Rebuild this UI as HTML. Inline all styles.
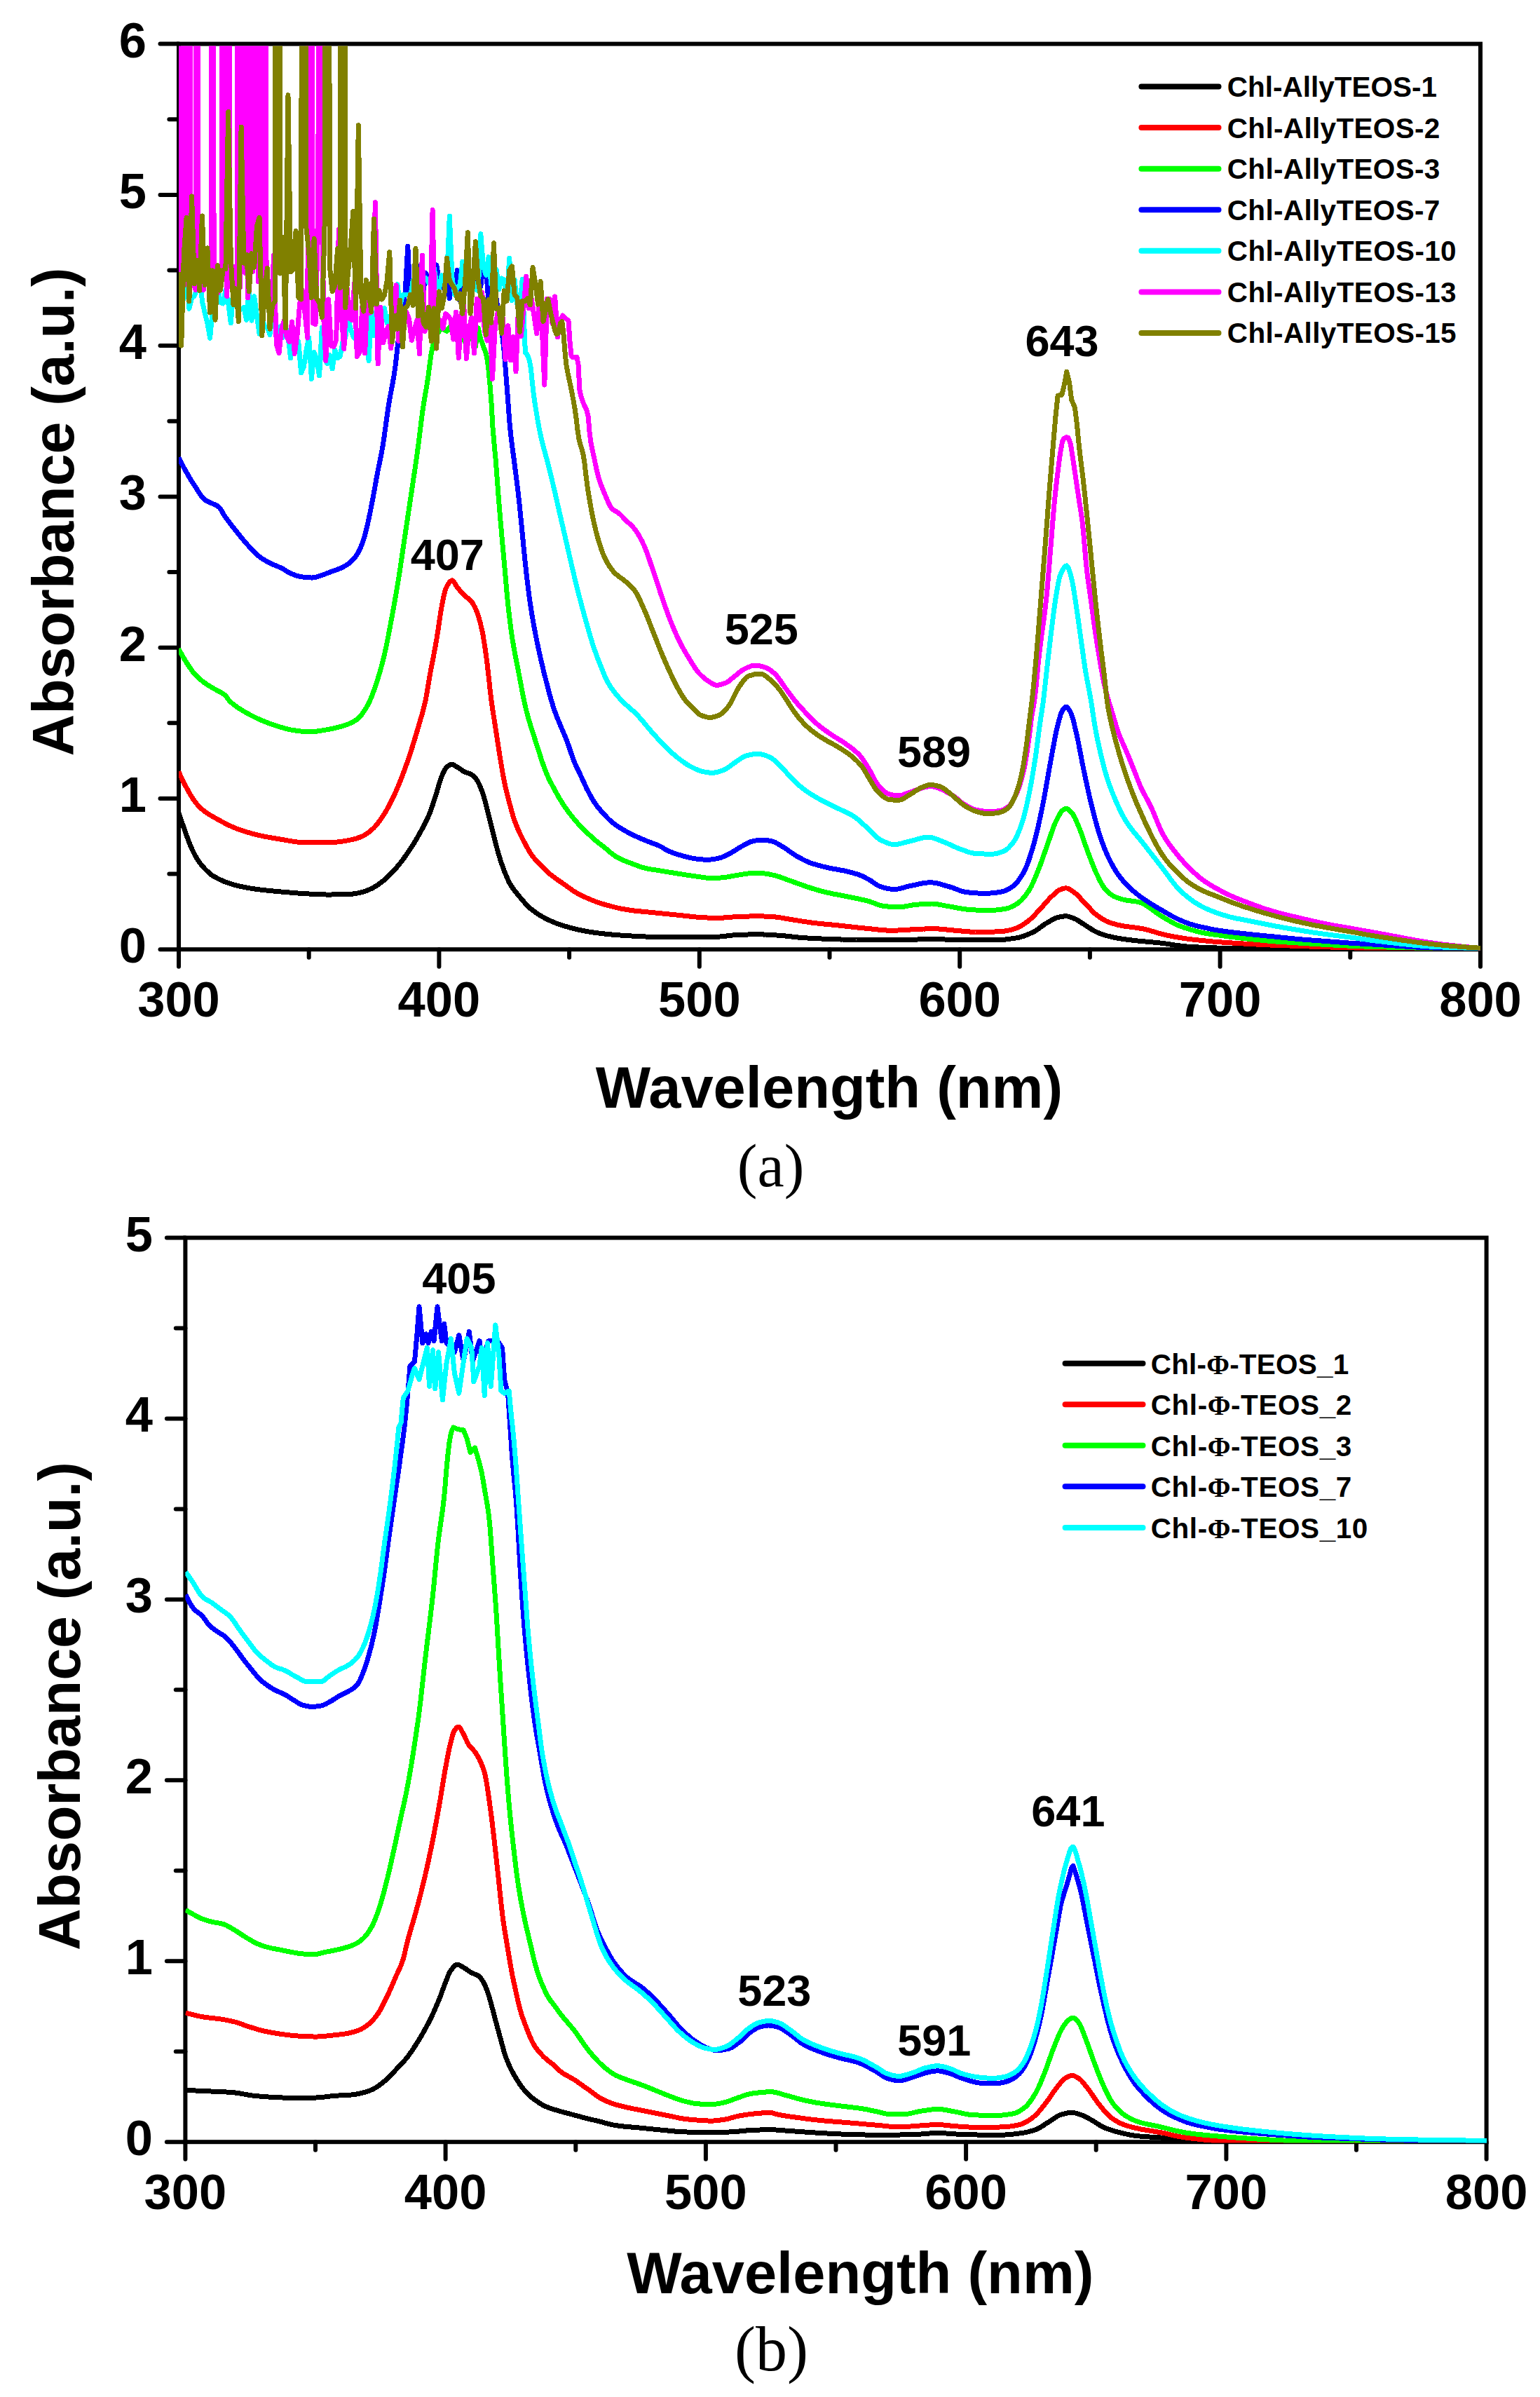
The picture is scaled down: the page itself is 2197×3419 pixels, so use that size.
<!DOCTYPE html>
<html lang="en"><head><meta charset="utf-8"><title>UV-Vis absorbance spectra</title>
<style>html,body{margin:0;padding:0;background:#fff}body{width:2197px;height:3419px;overflow:hidden}</style>
</head><body>
<svg width="2197" height="3419" viewBox="0 0 2197 3419" style="display:block" font-family="'Liberation Sans', Arial, sans-serif" font-weight="bold">
<rect width="2197" height="3419" fill="#fff"/>
<defs>
<clipPath id="ct"><rect x="255.0" y="65.6" width="1859.5" height="1289.9"/></clipPath>
<clipPath id="cb"><rect x="264.4" y="1768.5" width="1858.6999999999998" height="1287.9999999999998"/></clipPath>
</defs>
<g id="chart-a">
<g stroke="#000" stroke-width="6" stroke-linecap="round" fill="none">
<rect x="255.0" y="62.6" width="1857.0" height="1291.6000000000001" stroke-linecap="butt"/>
<line x1="228.5" y1="1354.2" x2="255.0" y2="1354.2"/>
<line x1="241.4" y1="1246.6" x2="255.0" y2="1246.6"/>
<line x1="228.5" y1="1138.9" x2="255.0" y2="1138.9"/>
<line x1="241.4" y1="1031.3" x2="255.0" y2="1031.3"/>
<line x1="228.5" y1="923.7" x2="255.0" y2="923.7"/>
<line x1="241.4" y1="816.0" x2="255.0" y2="816.0"/>
<line x1="228.5" y1="708.4" x2="255.0" y2="708.4"/>
<line x1="241.4" y1="600.8" x2="255.0" y2="600.8"/>
<line x1="228.5" y1="493.1" x2="255.0" y2="493.1"/>
<line x1="241.4" y1="385.5" x2="255.0" y2="385.5"/>
<line x1="228.5" y1="277.9" x2="255.0" y2="277.9"/>
<line x1="241.4" y1="170.2" x2="255.0" y2="170.2"/>
<line x1="228.5" y1="62.6" x2="255.0" y2="62.6"/>
<line x1="255.0" y1="1354.2" x2="255.0" y2="1378.8"/>
<line x1="440.7" y1="1354.2" x2="440.7" y2="1365.8"/>
<line x1="626.4" y1="1354.2" x2="626.4" y2="1378.8"/>
<line x1="812.1" y1="1354.2" x2="812.1" y2="1365.8"/>
<line x1="997.8" y1="1354.2" x2="997.8" y2="1378.8"/>
<line x1="1183.5" y1="1354.2" x2="1183.5" y2="1365.8"/>
<line x1="1369.2" y1="1354.2" x2="1369.2" y2="1378.8"/>
<line x1="1554.9" y1="1354.2" x2="1554.9" y2="1365.8"/>
<line x1="1740.6" y1="1354.2" x2="1740.6" y2="1378.8"/>
<line x1="1926.3" y1="1354.2" x2="1926.3" y2="1365.8"/>
<line x1="2112.0" y1="1354.2" x2="2112.0" y2="1378.8"/>
</g>
<g font-size="70.5" fill="#000">
<text x="209" y="1373.2" text-anchor="end">0</text>
<text x="209" y="1157.9" text-anchor="end">1</text>
<text x="209" y="942.7" text-anchor="end">2</text>
<text x="209" y="727.4" text-anchor="end">3</text>
<text x="209" y="512.1" text-anchor="end">4</text>
<text x="209" y="296.9" text-anchor="end">5</text>
<text x="209" y="81.6" text-anchor="end">6</text>
<text x="255.0" y="1450.1" text-anchor="middle">300</text>
<text x="626.4" y="1450.1" text-anchor="middle">400</text>
<text x="997.8" y="1450.1" text-anchor="middle">500</text>
<text x="1369.2" y="1450.1" text-anchor="middle">600</text>
<text x="1740.6" y="1450.1" text-anchor="middle">700</text>
<text x="2112.0" y="1450.1" text-anchor="middle">800</text>
</g>
<g clip-path="url(#ct)" shape-rendering="crispEdges">
<polyline points="254.9,1159.1 256.9,1165.1 258.9,1171.0 260.9,1176.8 262.9,1182.4 264.9,1188.0 266.9,1193.6 268.9,1199.1 270.9,1204.2 272.9,1208.9 274.9,1213.3 276.9,1217.4 278.9,1221.2 280.9,1224.6 283.0,1227.8 285.0,1230.7 287.0,1233.3 289.0,1235.7 291.0,1237.9 293.0,1240.0 295.0,1242.0 297.0,1243.9 299.0,1245.7 301.0,1247.3 303.0,1248.8 305.0,1250.0 307.0,1251.1 309.0,1252.2 311.0,1253.3 313.0,1254.3 315.0,1255.2 317.0,1256.1 319.0,1256.9 321.0,1257.8 323.0,1258.5 325.0,1259.3 327.0,1260.0 329.0,1260.6 331.0,1261.2 333.0,1261.8 335.0,1262.4 337.0,1262.9 339.0,1263.4 341.0,1263.8 343.0,1264.3 345.0,1264.7 347.0,1265.1 349.0,1265.5 351.0,1265.9 353.0,1266.3 355.0,1266.6 357.0,1267.0 359.0,1267.3 361.0,1267.6 363.0,1267.9 365.0,1268.2 367.0,1268.5 369.0,1268.7 371.0,1269.0 373.0,1269.2 375.0,1269.5 377.0,1269.7 379.0,1269.9 381.0,1270.1 383.0,1270.3 385.0,1270.5 387.0,1270.7 389.0,1270.9 391.0,1271.1 393.0,1271.3 395.0,1271.4 397.0,1271.6 399.0,1271.8 401.0,1272.0 403.0,1272.1 405.0,1272.3 407.0,1272.5 409.0,1272.7 411.0,1272.9 413.0,1273.0 415.0,1273.2 417.0,1273.4 419.0,1273.6 421.0,1273.7 423.0,1273.9 425.0,1274.0 427.0,1274.2 429.0,1274.3 431.0,1274.5 433.0,1274.6 435.0,1274.7 437.0,1274.8 439.0,1274.9 441.0,1275.0 443.0,1275.1 445.0,1275.2 447.0,1275.3 449.0,1275.4 451.0,1275.5 453.0,1275.6 455.0,1275.7 457.0,1275.8 459.0,1275.8 461.0,1275.9 463.0,1275.9 465.0,1276.0 467.0,1276.0 469.1,1276.0 471.1,1276.0 473.1,1276.0 475.1,1275.9 477.1,1275.9 479.1,1275.9 481.1,1275.9 483.1,1275.8 485.1,1275.8 487.1,1275.7 489.1,1275.7 491.1,1275.6 493.1,1275.6 495.1,1275.5 497.1,1275.4 499.1,1275.4 501.1,1275.3 503.1,1275.1 505.1,1274.8 507.1,1274.5 509.1,1274.2 511.1,1273.8 513.1,1273.4 515.1,1272.9 517.1,1272.5 519.1,1271.9 521.1,1271.2 523.1,1270.5 525.1,1269.6 527.1,1268.7 529.1,1267.8 531.1,1266.8 533.1,1265.8 535.1,1264.6 537.1,1263.4 539.1,1262.1 541.1,1260.6 543.1,1259.1 545.1,1257.6 547.1,1256.0 549.1,1254.3 551.1,1252.6 553.1,1250.8 555.1,1248.8 557.1,1246.8 559.1,1244.7 561.1,1242.6 563.1,1240.4 565.1,1238.2 567.1,1235.8 569.1,1233.4 571.1,1230.9 573.1,1228.3 575.1,1225.6 577.1,1222.9 579.1,1220.1 581.1,1217.2 583.1,1214.3 585.1,1211.3 587.1,1208.3 589.1,1205.1 591.1,1201.9 593.1,1198.5 595.1,1195.1 597.1,1191.6 599.1,1188.0 601.1,1184.4 603.1,1180.7 605.1,1176.9 607.1,1173.0 609.1,1168.8 611.1,1164.4 613.1,1159.7 615.1,1154.5 617.1,1148.7 619.1,1142.5 621.1,1136.2 623.1,1129.8 625.1,1123.1 627.1,1116.1 629.1,1110.0 631.1,1105.0 633.1,1100.5 635.1,1097.0 637.1,1094.7 639.1,1092.8 641.1,1091.3 643.1,1090.4 645.1,1090.3 647.1,1091.0 649.1,1092.2 651.1,1093.4 653.1,1094.6 655.2,1096.0 657.2,1097.4 659.2,1098.9 661.2,1100.2 663.2,1101.1 665.2,1101.9 667.2,1102.6 669.2,1103.3 671.2,1104.2 673.2,1105.4 675.2,1106.9 677.2,1108.8 679.2,1111.0 681.2,1113.8 683.2,1117.7 685.2,1122.3 687.2,1127.5 689.2,1133.1 691.2,1139.9 693.2,1147.4 695.2,1155.0 697.2,1162.9 699.2,1171.0 701.2,1179.1 703.2,1187.2 705.2,1195.4 707.2,1203.2 709.2,1210.7 711.2,1217.9 713.2,1224.6 715.2,1230.8 717.2,1236.4 719.2,1241.8 721.2,1246.8 723.2,1251.6 725.2,1256.1 727.2,1260.1 729.2,1263.4 731.2,1266.3 733.2,1269.1 735.2,1271.7 737.2,1274.2 739.2,1276.6 741.2,1279.0 743.2,1281.4 745.2,1283.8 747.2,1286.1 749.2,1288.4 751.2,1290.6 753.2,1292.6 755.2,1294.5 757.2,1296.3 759.2,1297.9 761.2,1299.4 763.2,1300.9 765.2,1302.3 767.2,1303.6 769.2,1304.9 771.2,1306.1 773.2,1307.3 775.2,1308.4 777.2,1309.5 779.2,1310.5 781.2,1311.5 783.2,1312.5 785.2,1313.4 787.2,1314.3 789.2,1315.2 791.2,1316.0 793.2,1316.8 795.2,1317.5 797.2,1318.3 799.2,1319.0 801.2,1319.6 803.2,1320.3 805.2,1320.9 807.2,1321.4 809.2,1322.0 811.2,1322.6 813.2,1323.1 815.2,1323.7 817.2,1324.2 819.2,1324.7 821.2,1325.2 823.2,1325.7 825.2,1326.1 827.2,1326.6 829.2,1327.0 831.2,1327.4 833.2,1327.8 835.2,1328.2 837.2,1328.5 839.2,1328.9 841.3,1329.2 843.3,1329.5 845.3,1329.8 847.3,1330.1 849.3,1330.4 851.3,1330.7 853.3,1330.9 855.3,1331.2 857.3,1331.5 859.3,1331.7 861.3,1331.9 863.3,1332.1 865.3,1332.3 867.3,1332.5 869.3,1332.7 871.3,1332.9 873.3,1333.1 875.3,1333.3 877.3,1333.4 879.3,1333.6 881.3,1333.7 883.3,1333.9 885.3,1334.0 887.3,1334.2 889.3,1334.3 891.3,1334.4 893.3,1334.6 895.3,1334.7 897.3,1334.8 899.3,1334.9 901.3,1335.0 903.3,1335.1 905.3,1335.2 907.3,1335.3 909.3,1335.4 911.3,1335.5 913.3,1335.6 915.3,1335.7 917.3,1335.8 919.3,1335.9 921.3,1336.0 923.3,1336.0 925.3,1336.1 927.3,1336.2 929.3,1336.2 931.3,1336.3 933.3,1336.3 935.3,1336.4 937.3,1336.4 939.3,1336.4 941.3,1336.5 943.3,1336.5 945.3,1336.5 947.3,1336.5 949.3,1336.6 951.3,1336.6 953.3,1336.6 955.3,1336.6 957.3,1336.6 959.3,1336.7 961.3,1336.7 963.3,1336.7 965.3,1336.7 967.3,1336.7 969.3,1336.7 971.3,1336.7 973.3,1336.7 975.3,1336.7 977.3,1336.7 979.3,1336.7 981.3,1336.7 983.3,1336.7 985.3,1336.7 987.3,1336.7 989.3,1336.7 991.3,1336.7 993.3,1336.7 995.3,1336.7 997.3,1336.7 999.3,1336.7 1001.3,1336.7 1003.3,1336.7 1005.3,1336.6 1007.3,1336.6 1009.3,1336.6 1011.3,1336.5 1013.3,1336.5 1015.3,1336.4 1017.3,1336.4 1019.3,1336.3 1021.3,1336.2 1023.3,1336.1 1025.3,1336.1 1027.4,1336.0 1029.4,1335.8 1031.4,1335.6 1033.4,1335.4 1035.4,1335.1 1037.4,1334.9 1039.4,1334.6 1041.4,1334.4 1043.4,1334.2 1045.4,1334.0 1047.4,1333.8 1049.4,1333.7 1051.4,1333.6 1053.4,1333.5 1055.4,1333.4 1057.4,1333.4 1059.4,1333.3 1061.4,1333.2 1063.4,1333.1 1065.4,1333.1 1067.4,1333.0 1069.4,1332.9 1071.4,1332.9 1073.4,1332.9 1075.4,1332.8 1077.4,1332.8 1079.4,1332.8 1081.4,1332.8 1083.4,1332.8 1085.4,1332.8 1087.4,1332.9 1089.4,1333.0 1091.4,1333.0 1093.4,1333.1 1095.4,1333.2 1097.4,1333.3 1099.4,1333.5 1101.4,1333.6 1103.4,1333.7 1105.4,1333.9 1107.4,1334.0 1109.4,1334.1 1111.4,1334.3 1113.4,1334.4 1115.4,1334.6 1117.4,1334.7 1119.4,1334.9 1121.4,1335.1 1123.4,1335.3 1125.4,1335.6 1127.4,1335.8 1129.4,1336.0 1131.4,1336.2 1133.4,1336.5 1135.4,1336.7 1137.4,1336.9 1139.4,1337.1 1141.4,1337.3 1143.4,1337.5 1145.4,1337.6 1147.4,1337.8 1149.4,1337.9 1151.4,1338.0 1153.4,1338.1 1155.4,1338.2 1157.4,1338.4 1159.4,1338.5 1161.4,1338.6 1163.4,1338.7 1165.4,1338.8 1167.4,1338.8 1169.4,1338.9 1171.4,1339.0 1173.4,1339.1 1175.4,1339.2 1177.4,1339.3 1179.4,1339.3 1181.4,1339.4 1183.4,1339.5 1185.4,1339.5 1187.4,1339.6 1189.4,1339.7 1191.4,1339.7 1193.4,1339.8 1195.4,1339.8 1197.4,1339.9 1199.4,1340.0 1201.4,1340.0 1203.4,1340.1 1205.4,1340.1 1207.4,1340.2 1209.4,1340.2 1211.5,1340.3 1213.5,1340.3 1215.5,1340.4 1217.5,1340.4 1219.5,1340.5 1221.5,1340.6 1223.5,1340.6 1225.5,1340.7 1227.5,1340.7 1229.5,1340.8 1231.5,1340.8 1233.5,1340.9 1235.5,1340.9 1237.5,1340.9 1239.5,1340.9 1241.5,1340.9 1243.5,1340.9 1245.5,1340.9 1247.5,1340.9 1249.5,1340.9 1251.5,1340.9 1253.5,1340.9 1255.5,1340.9 1257.5,1340.9 1259.5,1340.9 1261.5,1340.9 1263.5,1340.9 1265.5,1340.9 1267.5,1340.9 1269.5,1340.9 1271.5,1340.9 1273.5,1340.9 1275.5,1340.9 1277.5,1340.9 1279.5,1340.9 1281.5,1340.9 1283.5,1340.9 1285.5,1340.9 1287.5,1340.9 1289.5,1340.9 1291.5,1340.9 1293.5,1340.8 1295.5,1340.8 1297.5,1340.7 1299.5,1340.6 1301.5,1340.5 1303.5,1340.4 1305.5,1340.3 1307.5,1340.1 1309.5,1340.0 1311.5,1339.9 1313.5,1339.8 1315.5,1339.7 1317.5,1339.6 1319.5,1339.5 1321.5,1339.4 1323.5,1339.3 1325.5,1339.3 1327.5,1339.3 1329.5,1339.3 1331.5,1339.3 1333.5,1339.4 1335.5,1339.4 1337.5,1339.5 1339.5,1339.6 1341.5,1339.7 1343.5,1339.8 1345.5,1339.9 1347.5,1340.0 1349.5,1340.1 1351.5,1340.3 1353.5,1340.4 1355.5,1340.5 1357.5,1340.6 1359.5,1340.7 1361.5,1340.7 1363.5,1340.8 1365.5,1340.9 1367.5,1340.9 1369.5,1340.9 1371.5,1340.9 1373.5,1340.9 1375.5,1340.9 1377.5,1340.9 1379.5,1340.9 1381.5,1340.9 1383.5,1340.9 1385.5,1340.9 1387.5,1340.9 1389.5,1340.9 1391.5,1340.9 1393.5,1340.9 1395.5,1340.9 1397.6,1340.9 1399.6,1340.9 1401.6,1340.9 1403.6,1340.9 1405.6,1340.9 1407.6,1340.9 1409.6,1340.9 1411.6,1340.9 1413.6,1340.9 1415.6,1340.9 1417.6,1340.9 1419.6,1340.9 1421.6,1340.9 1423.6,1340.8 1425.6,1340.7 1427.6,1340.6 1429.6,1340.4 1431.6,1340.3 1433.6,1340.1 1435.6,1339.9 1437.6,1339.6 1439.6,1339.4 1441.6,1339.1 1443.6,1338.8 1445.6,1338.5 1447.6,1338.2 1449.6,1337.9 1451.6,1337.6 1453.6,1337.2 1455.6,1336.7 1457.6,1336.1 1459.6,1335.5 1461.6,1334.8 1463.6,1334.0 1465.6,1333.2 1467.6,1332.4 1469.6,1331.5 1471.6,1330.6 1473.6,1329.6 1475.6,1328.6 1477.6,1327.4 1479.6,1326.1 1481.6,1324.7 1483.6,1323.2 1485.6,1321.7 1487.6,1320.3 1489.6,1318.9 1491.6,1317.5 1493.6,1316.4 1495.6,1315.2 1497.6,1314.0 1499.6,1312.8 1501.6,1311.6 1503.6,1310.6 1505.6,1309.7 1507.6,1308.9 1509.6,1308.4 1511.6,1308.0 1513.6,1307.6 1515.6,1307.3 1517.6,1307.0 1519.6,1306.8 1521.6,1306.8 1523.6,1307.1 1525.6,1307.6 1527.6,1308.3 1529.6,1309.1 1531.6,1309.8 1533.6,1310.7 1535.6,1311.6 1537.6,1312.8 1539.6,1314.0 1541.6,1315.4 1543.6,1316.7 1545.6,1318.0 1547.6,1319.3 1549.6,1320.5 1551.6,1321.8 1553.6,1323.1 1555.6,1324.4 1557.6,1325.7 1559.6,1326.9 1561.6,1328.1 1563.6,1329.1 1565.6,1330.0 1567.6,1330.8 1569.6,1331.6 1571.6,1332.3 1573.6,1333.0 1575.6,1333.7 1577.6,1334.3 1579.6,1334.9 1581.6,1335.4 1583.7,1335.9 1585.7,1336.4 1587.7,1336.8 1589.7,1337.2 1591.7,1337.6 1593.7,1338.0 1595.7,1338.3 1597.7,1338.7 1599.7,1339.0 1601.7,1339.3 1603.7,1339.6 1605.7,1339.9 1607.7,1340.2 1609.7,1340.4 1611.7,1340.7 1613.7,1340.9 1615.7,1341.2 1617.7,1341.4 1619.7,1341.7 1621.7,1341.9 1623.7,1342.1 1625.7,1342.3 1627.7,1342.5 1629.7,1342.6 1631.7,1342.8 1633.7,1343.0 1635.7,1343.2 1637.7,1343.4 1639.7,1343.5 1641.7,1343.7 1643.7,1343.9 1645.7,1344.1 1647.7,1344.3 1649.7,1344.5 1651.7,1344.7 1653.7,1344.9 1655.7,1345.1 1657.7,1345.3 1659.7,1345.6 1661.7,1345.8 1663.7,1346.1 1665.7,1346.4 1667.7,1346.7 1669.7,1347.1 1671.7,1347.4 1673.7,1347.7 1675.7,1348.0 1677.7,1348.3 1679.7,1348.5 1681.7,1348.8 1683.7,1349.0 1685.7,1349.3 1687.7,1349.5 1689.7,1349.7 1691.7,1349.9 1693.7,1350.1 1695.7,1350.2 1697.7,1350.4 1699.7,1350.5 1701.7,1350.6 1703.7,1350.7 1705.7,1350.8 1707.7,1350.9 1709.7,1351.0 1711.7,1351.1 1713.7,1351.2 1715.7,1351.3 1717.7,1351.4 1719.7,1351.5 1721.7,1351.5 1723.7,1351.6 1725.7,1351.7 1727.7,1351.7 1729.7,1351.8 1731.7,1351.9 1733.7,1351.9 1735.7,1352.0 1737.7,1352.0 1739.7,1352.1 1741.7,1352.1 1743.7,1352.2 1745.7,1352.2 1747.7,1352.3 1749.7,1352.3 1751.7,1352.4 1753.7,1352.4 1755.7,1352.5 1757.7,1352.5 1759.7,1352.5 1761.7,1352.6 1763.7,1352.6 1765.7,1352.7 1767.7,1352.7 1769.8,1352.8 1771.8,1352.8 1773.8,1352.8 1775.8,1352.9 1777.8,1352.9 1779.8,1352.9 1781.8,1353.0 1783.8,1353.0 1785.8,1353.0 1787.8,1353.1 1789.8,1353.1 1791.8,1353.1 1793.8,1353.2 1795.8,1353.2 1797.8,1353.2 1799.8,1353.2 1801.8,1353.3 1803.8,1353.3 1805.8,1353.3 1807.8,1353.3 1809.8,1353.3 1811.8,1353.4 1813.8,1353.4 1815.8,1353.4 1817.8,1353.4 1819.8,1353.4 1821.8,1353.4 1823.8,1353.4 1825.8,1353.5 1827.8,1353.5 1829.8,1353.5 1831.8,1353.5 1833.8,1353.5 1835.8,1353.5 1837.8,1353.5 1839.8,1353.5 1841.8,1353.6 1843.8,1353.6 1845.8,1353.6 1847.8,1353.6 1849.8,1353.6 1851.8,1353.6 1853.8,1353.6 1855.8,1353.6 1857.8,1353.7 1859.8,1353.7 1861.8,1353.7 1863.8,1353.7 1865.8,1353.7 1867.8,1353.7 1869.8,1353.7 1871.8,1353.7 1873.8,1353.7 1875.8,1353.8 1877.8,1353.8 1879.8,1353.8 1881.8,1353.8 1883.8,1353.8 1885.8,1353.8 1887.8,1353.8 1889.8,1353.8 1891.8,1353.8 1893.8,1353.8 1895.8,1353.8 1897.8,1353.8 1899.8,1353.9 1901.8,1353.9 1903.8,1353.9 1905.8,1353.9 1907.8,1353.9 1909.8,1353.9 1911.8,1353.9 1913.8,1353.9 1915.8,1353.9 1917.8,1353.9 1919.8,1353.9 1921.8,1353.9 1923.8,1353.9 1925.8,1353.9 1927.8,1353.9 1929.8,1353.9 1931.8,1353.9 1933.8,1353.9 1935.8,1354.0 1937.8,1354.0 1939.8,1354.0 1941.8,1354.0 1943.8,1354.0 1945.8,1354.0 1947.8,1354.0 1949.8,1354.0 1951.8,1354.0 1953.8,1354.0 1955.9,1354.0 1957.9,1354.0 1959.9,1354.0 1961.9,1354.0 1963.9,1354.0 1965.9,1354.0 1967.9,1354.0 1969.9,1353.9 1971.9,1353.9 1973.9,1353.9 1975.9,1353.9 1977.9,1353.9 1979.9,1353.8 1981.9,1353.8 1983.9,1353.8 1985.9,1353.8 1987.9,1353.7 1989.9,1353.7 1991.9,1353.7 1993.9,1353.6 1995.9,1353.6 1997.9,1353.6 1999.9,1353.5 2001.9,1353.5 2003.9,1353.5 2005.9,1353.4 2007.9,1353.4 2009.9,1353.4 2011.9,1353.3 2013.9,1353.3 2015.9,1353.2 2017.9,1353.2 2019.9,1353.2 2021.9,1353.1 2023.9,1353.1 2025.9,1353.1 2027.9,1353.0 2029.9,1353.0 2031.9,1353.0 2033.9,1352.9 2035.9,1352.9 2037.9,1352.9 2039.9,1352.9 2041.9,1352.8 2043.9,1352.8 2045.9,1352.8 2047.9,1352.8 2049.9,1352.7 2051.9,1352.7 2053.9,1352.7 2055.9,1352.7 2057.9,1352.7 2059.9,1352.7 2061.9,1352.7 2063.9,1352.7 2065.9,1352.7 2067.9,1352.7 2069.9,1352.7 2071.9,1352.7 2073.9,1352.7 2075.9,1352.6 2077.9,1352.6 2079.9,1352.6 2081.9,1352.6 2083.9,1352.6 2085.9,1352.6 2087.9,1352.6 2089.9,1352.6 2091.9,1352.6 2093.9,1352.6 2095.9,1352.6 2097.9,1352.6 2099.9,1352.6 2101.9,1352.6 2103.9,1352.6 2105.9,1352.6 2107.9,1352.6 2109.9,1352.6 2111.9,1352.6" fill="none" stroke="#000000" stroke-width="7" stroke-linejoin="round" stroke-linecap="butt"/>
<polyline points="254.9,1100.6 256.9,1105.1 258.9,1109.4 260.9,1113.6 262.9,1117.6 264.9,1121.5 266.9,1125.1 268.9,1128.8 270.9,1132.3 272.9,1135.7 274.9,1138.9 276.9,1141.8 278.9,1144.5 280.9,1146.9 283.0,1149.1 285.0,1151.2 287.0,1153.2 289.0,1155.0 291.0,1156.7 293.0,1158.2 295.0,1159.6 297.0,1160.9 299.0,1162.2 301.0,1163.3 303.0,1164.5 305.0,1165.6 307.0,1166.7 309.0,1167.9 311.0,1169.0 313.0,1170.1 315.0,1171.2 317.0,1172.3 319.0,1173.3 321.0,1174.4 323.0,1175.4 325.0,1176.4 327.0,1177.4 329.0,1178.3 331.0,1179.2 333.0,1180.1 335.0,1180.9 337.0,1181.7 339.0,1182.4 341.0,1183.1 343.0,1183.8 345.0,1184.5 347.0,1185.2 349.0,1185.9 351.0,1186.5 353.0,1187.1 355.0,1187.7 357.0,1188.3 359.0,1188.8 361.0,1189.4 363.0,1189.9 365.0,1190.4 367.0,1190.9 369.0,1191.4 371.0,1191.8 373.0,1192.2 375.0,1192.7 377.0,1193.1 379.0,1193.4 381.0,1193.8 383.0,1194.2 385.0,1194.5 387.0,1194.9 389.0,1195.2 391.0,1195.6 393.0,1195.9 395.0,1196.2 397.0,1196.5 399.0,1196.9 401.0,1197.2 403.0,1197.5 405.0,1197.9 407.0,1198.2 409.0,1198.6 411.0,1199.0 413.0,1199.3 415.0,1199.7 417.0,1200.0 419.0,1200.3 421.0,1200.6 423.0,1200.9 425.0,1201.1 427.0,1201.2 429.0,1201.3 431.0,1201.4 433.0,1201.5 435.0,1201.6 437.0,1201.7 439.0,1201.7 441.0,1201.8 443.0,1201.8 445.0,1201.9 447.0,1201.9 449.0,1201.9 451.0,1201.9 453.0,1201.9 455.0,1201.9 457.0,1201.9 459.0,1201.9 461.0,1201.8 463.0,1201.8 465.0,1201.7 467.0,1201.7 469.1,1201.6 471.1,1201.5 473.1,1201.5 475.1,1201.4 477.1,1201.3 479.1,1201.2 481.1,1201.0 483.1,1200.8 485.1,1200.6 487.1,1200.3 489.1,1200.0 491.1,1199.7 493.1,1199.3 495.1,1199.0 497.1,1198.6 499.1,1198.2 501.1,1197.8 503.1,1197.3 505.1,1196.8 507.1,1196.3 509.1,1195.7 511.1,1195.0 513.1,1194.3 515.1,1193.6 517.1,1192.7 519.1,1191.7 521.1,1190.5 523.1,1189.2 525.1,1187.8 527.1,1186.2 529.1,1184.6 531.1,1182.8 533.1,1181.0 535.1,1178.9 537.1,1176.6 539.1,1174.1 541.1,1171.4 543.1,1168.6 545.1,1165.7 547.1,1162.7 549.1,1159.5 551.1,1156.1 553.1,1152.5 555.1,1148.8 557.1,1145.0 559.1,1141.0 561.1,1136.9 563.1,1132.6 565.1,1128.1 567.1,1123.5 569.1,1118.7 571.1,1113.8 573.1,1108.8 575.1,1103.5 577.1,1098.1 579.1,1092.6 581.1,1086.9 583.1,1081.0 585.1,1075.0 587.1,1068.9 589.1,1062.6 591.1,1056.1 593.1,1049.4 595.1,1042.7 597.1,1035.8 599.1,1029.0 601.1,1022.3 603.1,1015.2 605.1,1007.5 607.1,998.9 609.1,988.2 611.1,976.0 613.1,964.1 615.1,953.2 617.1,942.8 619.1,932.6 621.1,921.9 623.1,910.6 625.1,897.7 627.1,883.8 629.1,871.1 631.1,860.2 633.1,849.9 635.1,841.8 637.1,837.2 639.1,833.6 641.1,830.7 643.1,828.7 645.1,827.9 647.1,829.2 649.1,832.3 651.1,835.9 653.1,838.7 655.2,841.2 657.2,843.6 659.2,846.0 661.2,848.1 663.2,850.0 665.2,851.6 667.2,853.0 669.2,854.6 671.2,856.4 673.2,858.8 675.2,861.9 677.2,865.6 679.2,869.9 681.2,874.9 683.2,881.1 685.2,888.5 687.2,896.9 689.2,906.7 691.2,919.0 693.2,933.0 695.2,948.1 697.2,965.8 699.2,984.4 701.2,1001.0 703.2,1014.8 705.2,1027.4 707.2,1039.9 709.2,1053.1 711.2,1066.4 713.2,1079.3 715.2,1091.3 717.2,1102.9 719.2,1113.6 721.2,1123.2 723.2,1131.6 725.2,1139.3 727.2,1146.8 729.2,1154.2 731.2,1161.4 733.2,1167.9 735.2,1173.5 737.2,1178.6 739.2,1183.3 741.2,1187.7 743.2,1191.9 745.2,1196.0 747.2,1199.8 749.2,1203.6 751.2,1207.2 753.2,1210.8 755.2,1214.2 757.2,1217.5 759.2,1220.4 761.2,1223.0 763.2,1225.5 765.2,1227.8 767.2,1230.0 769.2,1232.1 771.2,1234.1 773.2,1236.1 775.2,1238.1 777.2,1240.0 779.2,1241.9 781.2,1243.7 783.2,1245.5 785.2,1247.2 787.2,1248.8 789.2,1250.4 791.2,1251.9 793.2,1253.4 795.2,1254.8 797.2,1256.1 799.2,1257.5 801.2,1258.8 803.2,1260.2 805.2,1261.6 807.2,1263.0 809.2,1264.5 811.2,1265.9 813.2,1267.4 815.2,1268.9 817.2,1270.2 819.2,1271.6 821.2,1272.8 823.2,1273.9 825.2,1275.0 827.2,1276.0 829.2,1277.0 831.2,1278.0 833.2,1279.0 835.2,1279.9 837.2,1280.8 839.2,1281.7 841.3,1282.5 843.3,1283.4 845.3,1284.2 847.3,1285.0 849.3,1285.8 851.3,1286.5 853.3,1287.2 855.3,1287.9 857.3,1288.5 859.3,1289.2 861.3,1289.8 863.3,1290.4 865.3,1290.9 867.3,1291.5 869.3,1292.0 871.3,1292.6 873.3,1293.1 875.3,1293.6 877.3,1294.1 879.3,1294.6 881.3,1295.1 883.3,1295.5 885.3,1295.9 887.3,1296.3 889.3,1296.7 891.3,1297.0 893.3,1297.4 895.3,1297.7 897.3,1298.0 899.3,1298.3 901.3,1298.6 903.3,1298.8 905.3,1299.1 907.3,1299.3 909.3,1299.5 911.3,1299.7 913.3,1299.9 915.3,1300.1 917.3,1300.3 919.3,1300.5 921.3,1300.7 923.3,1300.9 925.3,1301.0 927.3,1301.2 929.3,1301.4 931.3,1301.6 933.3,1301.8 935.3,1302.0 937.3,1302.2 939.3,1302.4 941.3,1302.6 943.3,1302.8 945.3,1303.0 947.3,1303.2 949.3,1303.4 951.3,1303.6 953.3,1303.8 955.3,1304.0 957.3,1304.2 959.3,1304.4 961.3,1304.6 963.3,1304.8 965.3,1305.0 967.3,1305.2 969.3,1305.4 971.3,1305.6 973.3,1305.8 975.3,1306.1 977.3,1306.3 979.3,1306.5 981.3,1306.7 983.3,1307.0 985.3,1307.2 987.3,1307.4 989.3,1307.6 991.3,1307.8 993.3,1308.0 995.3,1308.1 997.3,1308.3 999.3,1308.4 1001.3,1308.5 1003.3,1308.7 1005.3,1308.8 1007.3,1308.9 1009.3,1309.0 1011.3,1309.1 1013.3,1309.2 1015.3,1309.3 1017.3,1309.3 1019.3,1309.4 1021.3,1309.4 1023.3,1309.4 1025.3,1309.4 1027.4,1309.3 1029.4,1309.2 1031.4,1309.1 1033.4,1308.9 1035.4,1308.7 1037.4,1308.6 1039.4,1308.4 1041.4,1308.2 1043.4,1308.1 1045.4,1308.0 1047.4,1307.8 1049.4,1307.8 1051.4,1307.7 1053.4,1307.6 1055.4,1307.5 1057.4,1307.4 1059.4,1307.3 1061.4,1307.3 1063.4,1307.2 1065.4,1307.1 1067.4,1307.0 1069.4,1307.0 1071.4,1306.9 1073.4,1306.9 1075.4,1306.9 1077.4,1306.8 1079.4,1306.8 1081.4,1306.8 1083.4,1306.8 1085.4,1306.9 1087.4,1306.9 1089.4,1307.0 1091.4,1307.1 1093.4,1307.2 1095.4,1307.3 1097.4,1307.4 1099.4,1307.5 1101.4,1307.6 1103.4,1307.8 1105.4,1307.9 1107.4,1308.1 1109.4,1308.4 1111.4,1308.6 1113.4,1308.9 1115.4,1309.3 1117.4,1309.6 1119.4,1310.0 1121.4,1310.3 1123.4,1310.7 1125.4,1311.0 1127.4,1311.3 1129.4,1311.7 1131.4,1312.0 1133.4,1312.3 1135.4,1312.6 1137.4,1312.9 1139.4,1313.2 1141.4,1313.5 1143.4,1313.9 1145.4,1314.2 1147.4,1314.5 1149.4,1314.8 1151.4,1315.1 1153.4,1315.4 1155.4,1315.7 1157.4,1316.0 1159.4,1316.2 1161.4,1316.5 1163.4,1316.7 1165.4,1316.9 1167.4,1317.2 1169.4,1317.4 1171.4,1317.6 1173.4,1317.8 1175.4,1318.0 1177.4,1318.2 1179.4,1318.4 1181.4,1318.5 1183.4,1318.7 1185.4,1318.9 1187.4,1319.1 1189.4,1319.3 1191.4,1319.5 1193.4,1319.7 1195.4,1319.9 1197.4,1320.1 1199.4,1320.3 1201.4,1320.5 1203.4,1320.8 1205.4,1321.0 1207.4,1321.2 1209.4,1321.4 1211.5,1321.7 1213.5,1321.9 1215.5,1322.1 1217.5,1322.3 1219.5,1322.6 1221.5,1322.8 1223.5,1323.0 1225.5,1323.2 1227.5,1323.4 1229.5,1323.6 1231.5,1323.8 1233.5,1324.0 1235.5,1324.2 1237.5,1324.4 1239.5,1324.6 1241.5,1324.8 1243.5,1325.0 1245.5,1325.2 1247.5,1325.4 1249.5,1325.6 1251.5,1325.9 1253.5,1326.1 1255.5,1326.3 1257.5,1326.5 1259.5,1326.6 1261.5,1326.8 1263.5,1326.9 1265.5,1327.1 1267.5,1327.2 1269.5,1327.2 1271.5,1327.3 1273.5,1327.3 1275.5,1327.2 1277.5,1327.2 1279.5,1327.1 1281.5,1327.0 1283.5,1326.9 1285.5,1326.8 1287.5,1326.7 1289.5,1326.6 1291.5,1326.5 1293.5,1326.3 1295.5,1326.2 1297.5,1326.1 1299.5,1325.9 1301.5,1325.8 1303.5,1325.7 1305.5,1325.6 1307.5,1325.5 1309.5,1325.4 1311.5,1325.3 1313.5,1325.2 1315.5,1325.1 1317.5,1325.0 1319.5,1325.0 1321.5,1324.9 1323.5,1324.8 1325.5,1324.7 1327.5,1324.7 1329.5,1324.7 1331.5,1324.7 1333.5,1324.7 1335.5,1324.8 1337.5,1324.9 1339.5,1325.0 1341.5,1325.2 1343.5,1325.3 1345.5,1325.5 1347.5,1325.7 1349.5,1325.9 1351.5,1326.1 1353.5,1326.3 1355.5,1326.6 1357.5,1326.8 1359.5,1326.9 1361.5,1327.1 1363.5,1327.3 1365.5,1327.4 1367.5,1327.6 1369.5,1327.8 1371.5,1328.0 1373.5,1328.2 1375.5,1328.3 1377.5,1328.5 1379.5,1328.7 1381.5,1328.9 1383.5,1329.0 1385.5,1329.2 1387.5,1329.3 1389.5,1329.4 1391.5,1329.5 1393.5,1329.5 1395.5,1329.5 1397.6,1329.5 1399.6,1329.5 1401.6,1329.5 1403.6,1329.5 1405.6,1329.4 1407.6,1329.4 1409.6,1329.4 1411.6,1329.3 1413.6,1329.2 1415.6,1329.2 1417.6,1329.1 1419.6,1329.0 1421.6,1328.9 1423.6,1328.8 1425.6,1328.7 1427.6,1328.6 1429.6,1328.5 1431.6,1328.3 1433.6,1328.0 1435.6,1327.7 1437.6,1327.3 1439.6,1326.9 1441.6,1326.4 1443.6,1325.9 1445.6,1325.3 1447.6,1324.7 1449.6,1324.1 1451.6,1323.3 1453.6,1322.3 1455.6,1321.2 1457.6,1320.0 1459.6,1318.8 1461.6,1317.4 1463.6,1316.0 1465.6,1314.6 1467.6,1313.1 1469.6,1311.4 1471.6,1309.6 1473.6,1307.7 1475.6,1305.6 1477.6,1303.5 1479.6,1301.3 1481.6,1299.1 1483.6,1297.0 1485.6,1294.8 1487.6,1292.6 1489.6,1290.2 1491.6,1287.9 1493.6,1285.6 1495.6,1283.4 1497.6,1281.3 1499.6,1279.3 1501.6,1277.5 1503.6,1275.5 1505.6,1273.7 1507.6,1271.9 1509.6,1270.5 1511.6,1269.3 1513.6,1268.5 1515.6,1267.8 1517.6,1267.3 1519.6,1266.9 1521.6,1266.9 1523.6,1267.4 1525.6,1268.3 1527.6,1269.6 1529.6,1270.9 1531.6,1272.3 1533.6,1273.7 1535.6,1275.4 1537.6,1277.3 1539.6,1279.4 1541.6,1281.6 1543.6,1283.8 1545.6,1286.0 1547.6,1288.1 1549.6,1290.2 1551.6,1292.3 1553.6,1294.4 1555.6,1296.6 1557.6,1298.7 1559.6,1300.8 1561.6,1302.7 1563.6,1304.4 1565.6,1305.9 1567.6,1307.4 1569.6,1308.7 1571.6,1310.1 1573.6,1311.3 1575.6,1312.4 1577.6,1313.5 1579.6,1314.4 1581.6,1315.2 1583.7,1316.0 1585.7,1316.7 1587.7,1317.3 1589.7,1317.9 1591.7,1318.5 1593.7,1319.0 1595.7,1319.5 1597.7,1319.9 1599.7,1320.3 1601.7,1320.7 1603.7,1321.0 1605.7,1321.3 1607.7,1321.6 1609.7,1321.8 1611.7,1322.1 1613.7,1322.3 1615.7,1322.6 1617.7,1322.8 1619.7,1323.1 1621.7,1323.4 1623.7,1323.7 1625.7,1324.0 1627.7,1324.3 1629.7,1324.7 1631.7,1325.1 1633.7,1325.6 1635.7,1326.1 1637.7,1326.6 1639.7,1327.2 1641.7,1327.7 1643.7,1328.3 1645.7,1328.9 1647.7,1329.5 1649.7,1330.1 1651.7,1330.7 1653.7,1331.3 1655.7,1331.9 1657.7,1332.4 1659.7,1332.9 1661.7,1333.3 1663.7,1333.8 1665.7,1334.2 1667.7,1334.6 1669.7,1335.0 1671.7,1335.4 1673.7,1335.8 1675.7,1336.2 1677.7,1336.5 1679.7,1336.9 1681.7,1337.2 1683.7,1337.5 1685.7,1337.9 1687.7,1338.2 1689.7,1338.5 1691.7,1338.8 1693.7,1339.1 1695.7,1339.3 1697.7,1339.6 1699.7,1339.8 1701.7,1340.1 1703.7,1340.3 1705.7,1340.6 1707.7,1340.8 1709.7,1341.0 1711.7,1341.2 1713.7,1341.4 1715.7,1341.6 1717.7,1341.8 1719.7,1342.0 1721.7,1342.2 1723.7,1342.4 1725.7,1342.6 1727.7,1342.8 1729.7,1343.0 1731.7,1343.1 1733.7,1343.3 1735.7,1343.5 1737.7,1343.6 1739.7,1343.8 1741.7,1343.9 1743.7,1344.1 1745.7,1344.2 1747.7,1344.4 1749.7,1344.5 1751.7,1344.7 1753.7,1344.8 1755.7,1344.9 1757.7,1345.0 1759.7,1345.2 1761.7,1345.3 1763.7,1345.4 1765.7,1345.5 1767.7,1345.7 1769.8,1345.8 1771.8,1345.9 1773.8,1346.0 1775.8,1346.1 1777.8,1346.2 1779.8,1346.3 1781.8,1346.5 1783.8,1346.6 1785.8,1346.7 1787.8,1346.8 1789.8,1346.9 1791.8,1347.0 1793.8,1347.1 1795.8,1347.2 1797.8,1347.3 1799.8,1347.4 1801.8,1347.5 1803.8,1347.6 1805.8,1347.7 1807.8,1347.8 1809.8,1347.9 1811.8,1348.0 1813.8,1348.0 1815.8,1348.1 1817.8,1348.2 1819.8,1348.3 1821.8,1348.4 1823.8,1348.4 1825.8,1348.5 1827.8,1348.6 1829.8,1348.7 1831.8,1348.7 1833.8,1348.8 1835.8,1348.9 1837.8,1348.9 1839.8,1349.0 1841.8,1349.1 1843.8,1349.1 1845.8,1349.2 1847.8,1349.3 1849.8,1349.3 1851.8,1349.4 1853.8,1349.5 1855.8,1349.5 1857.8,1349.6 1859.8,1349.7 1861.8,1349.7 1863.8,1349.8 1865.8,1349.9 1867.8,1350.0 1869.8,1350.0 1871.8,1350.1 1873.8,1350.2 1875.8,1350.3 1877.8,1350.3 1879.8,1350.4 1881.8,1350.5 1883.8,1350.5 1885.8,1350.6 1887.8,1350.7 1889.8,1350.7 1891.8,1350.8 1893.8,1350.9 1895.8,1350.9 1897.8,1351.0 1899.8,1351.0 1901.8,1351.1 1903.8,1351.2 1905.8,1351.2 1907.8,1351.3 1909.8,1351.3 1911.8,1351.4 1913.8,1351.5 1915.8,1351.5 1917.8,1351.6 1919.8,1351.6 1921.8,1351.7 1923.8,1351.8 1925.8,1351.8 1927.8,1351.9 1929.8,1351.9 1931.8,1352.0 1933.8,1352.0 1935.8,1352.1 1937.8,1352.1 1939.8,1352.2 1941.8,1352.2 1943.8,1352.2 1945.8,1352.3 1947.8,1352.3 1949.8,1352.3 1951.8,1352.4 1953.8,1352.4 1955.9,1352.4 1957.9,1352.4 1959.9,1352.4 1961.9,1352.4 1963.9,1352.4 1965.9,1352.4 1967.9,1352.4 1969.9,1352.4 1971.9,1352.5 1973.9,1352.5 1975.9,1352.5 1977.9,1352.5 1979.9,1352.5 1981.9,1352.5 1983.9,1352.5 1985.9,1352.5 1987.9,1352.5 1989.9,1352.5 1991.9,1352.5 1993.9,1352.5 1995.9,1352.5 1997.9,1352.5 1999.9,1352.5 2001.9,1352.5 2003.9,1352.5 2005.9,1352.5 2007.9,1352.6 2009.9,1352.6 2011.9,1352.6 2013.9,1352.6 2015.9,1352.6 2017.9,1352.6 2019.9,1352.6 2021.9,1352.6 2023.9,1352.6 2025.9,1352.6 2027.9,1352.6 2029.9,1352.6 2031.9,1352.6 2033.9,1352.6 2035.9,1352.6 2037.9,1352.6 2039.9,1352.6 2041.9,1352.6 2043.9,1352.6 2045.9,1352.6 2047.9,1352.6 2049.9,1352.6 2051.9,1352.6 2053.9,1352.6 2055.9,1352.6 2057.9,1352.6 2059.9,1352.6 2061.9,1352.6 2063.9,1352.6 2065.9,1352.6 2067.9,1352.6 2069.9,1352.6 2071.9,1352.6 2073.9,1352.6 2075.9,1352.6 2077.9,1352.6 2079.9,1352.6 2081.9,1352.6 2083.9,1352.6 2085.9,1352.6 2087.9,1352.6 2089.9,1352.6 2091.9,1352.6 2093.9,1352.6 2095.9,1352.6 2097.9,1352.6 2099.9,1352.6 2101.9,1352.6 2103.9,1352.6 2105.9,1352.6 2107.9,1352.6 2109.9,1352.6 2111.9,1352.6" fill="none" stroke="#ff0000" stroke-width="7" stroke-linejoin="round" stroke-linecap="butt"/>
<polyline points="254.9,925.3 256.9,929.2 258.9,932.9 260.9,936.5 262.9,939.9 264.9,943.2 266.9,946.3 268.9,949.4 270.9,952.3 272.9,955.2 274.9,957.9 276.9,960.4 278.9,962.6 280.9,964.7 282.9,966.6 284.9,968.5 287.0,970.2 289.0,971.8 291.0,973.3 293.0,974.7 295.0,976.1 297.0,977.4 299.0,978.6 301.0,979.8 303.0,981.0 305.0,982.2 307.0,983.3 309.0,984.4 311.0,985.4 313.0,986.5 315.0,987.6 317.0,988.8 319.0,990.1 321.0,991.7 323.0,993.9 325.0,996.7 327.0,999.3 329.0,1001.2 331.0,1003.0 333.0,1004.6 335.0,1006.2 337.0,1007.7 339.0,1009.1 341.0,1010.4 343.0,1011.7 345.0,1012.9 347.0,1014.1 349.0,1015.3 351.0,1016.4 353.0,1017.5 355.0,1018.6 357.0,1019.7 359.0,1020.7 361.0,1021.7 363.0,1022.7 365.0,1023.7 367.0,1024.7 369.0,1025.6 371.0,1026.5 373.0,1027.4 375.0,1028.2 377.0,1029.0 379.0,1029.8 381.0,1030.6 383.0,1031.4 385.0,1032.1 387.0,1032.8 389.0,1033.5 391.0,1034.2 393.0,1034.8 395.0,1035.5 397.0,1036.2 399.0,1036.8 401.0,1037.4 403.0,1038.0 405.0,1038.6 407.0,1039.1 409.0,1039.7 411.0,1040.1 413.0,1040.6 415.0,1041.0 417.0,1041.3 419.0,1041.6 421.0,1041.9 423.0,1042.2 425.0,1042.5 427.0,1042.7 429.0,1043.0 431.0,1043.2 433.0,1043.4 435.0,1043.6 437.0,1043.7 439.0,1043.8 441.0,1043.8 443.0,1043.8 445.0,1043.7 447.0,1043.6 449.0,1043.4 451.0,1043.2 453.0,1042.9 455.0,1042.6 457.0,1042.3 459.0,1042.0 461.0,1041.7 463.0,1041.3 465.0,1041.0 467.0,1040.6 469.0,1040.3 471.0,1039.9 473.0,1039.5 475.0,1039.1 477.0,1038.7 479.0,1038.2 481.0,1037.7 483.0,1037.2 485.0,1036.6 487.0,1036.1 489.1,1035.5 491.1,1034.8 493.1,1034.2 495.1,1033.5 497.1,1032.7 499.1,1031.9 501.1,1031.0 503.1,1030.0 505.1,1028.8 507.1,1027.6 509.1,1026.3 511.1,1024.7 513.1,1022.6 515.1,1020.3 517.1,1017.6 519.1,1014.8 521.1,1011.8 523.1,1008.4 525.1,1004.7 527.1,1000.6 529.1,996.1 531.1,991.2 533.1,985.8 535.1,980.2 537.1,974.2 539.1,968.0 541.1,961.4 543.1,954.4 545.1,947.0 547.1,939.1 549.1,930.7 551.1,921.5 553.1,911.6 555.1,901.2 557.1,890.6 559.1,879.9 561.1,869.1 563.1,857.9 565.1,846.5 567.1,834.6 569.1,822.2 571.1,809.2 573.1,795.7 575.1,782.0 577.1,768.4 579.1,755.1 581.1,741.8 583.1,728.5 585.1,715.1 587.1,701.7 589.1,688.3 591.1,675.0 593.1,661.5 595.1,647.5 597.1,632.4 599.1,616.2 601.1,599.9 603.1,584.8 605.1,571.8 607.1,560.2 609.1,548.6 611.1,535.4 613.1,519.7 615.1,505.0 617.1,494.7 619.1,487.0 621.1,480.8 623.1,477.3 630.1,467.3 633.8,470.3 637.5,472.2 641.3,466.7 645.0,472.6 648.7,462.0 652.4,466.2 656.1,467.6 659.8,481.8 663.5,487.8 667.3,487.1 671.0,480.9 674.7,465.6 678.4,494.4 682.1,467.8 685.8,483.8 692.9,503.2 694.9,511.5 696.9,527.1 698.9,547.5 700.9,572.8 702.9,608.3 704.9,632.0 706.9,652.8 708.9,678.1 710.9,705.3 712.9,729.9 714.9,753.0 716.9,775.7 718.9,797.8 720.9,820.2 722.9,843.3 724.9,863.8 726.9,881.4 728.9,897.2 730.9,911.2 733.0,923.4 735.0,934.3 737.0,944.6 739.0,954.6 741.0,965.0 743.0,975.6 745.0,986.2 747.0,996.3 749.0,1005.7 751.0,1014.0 753.0,1021.5 755.0,1028.6 757.0,1035.2 759.0,1041.6 761.0,1047.8 763.0,1054.0 765.0,1060.1 767.0,1066.4 769.0,1072.7 771.0,1079.0 773.0,1085.1 775.0,1090.9 777.0,1096.5 779.0,1101.7 781.0,1106.4 783.0,1110.7 785.0,1114.8 787.0,1118.6 789.0,1122.3 791.0,1126.1 793.0,1129.7 795.0,1133.3 797.0,1136.9 799.0,1140.2 801.0,1143.5 803.0,1146.6 805.0,1149.6 807.0,1152.5 809.0,1155.3 811.0,1158.1 813.0,1160.7 815.0,1163.3 817.0,1165.8 819.0,1168.2 821.0,1170.6 823.0,1172.9 825.0,1175.1 827.0,1177.3 829.0,1179.4 831.0,1181.4 833.0,1183.4 835.0,1185.3 837.0,1187.2 839.0,1189.1 841.0,1191.0 843.0,1192.9 845.0,1194.7 847.0,1196.5 849.0,1198.2 851.0,1199.9 853.0,1201.6 855.0,1203.2 857.0,1204.7 859.0,1206.2 861.0,1207.7 863.0,1209.3 865.0,1210.9 867.0,1212.6 869.0,1214.3 871.0,1216.1 873.1,1217.7 875.1,1219.3 877.1,1220.8 879.1,1222.1 881.1,1223.2 883.1,1224.2 885.1,1225.2 887.1,1226.1 889.1,1227.0 891.1,1227.9 893.1,1228.7 895.1,1229.4 897.1,1230.2 899.1,1230.9 901.1,1231.7 903.1,1232.4 905.1,1233.2 907.1,1233.9 909.1,1234.7 911.1,1235.4 913.1,1236.1 915.1,1236.8 917.1,1237.4 919.1,1238.0 921.1,1238.5 923.1,1238.9 925.1,1239.3 927.1,1239.7 929.1,1240.0 931.1,1240.3 933.1,1240.6 935.1,1240.9 937.1,1241.2 939.1,1241.5 941.1,1241.9 943.1,1242.2 945.1,1242.5 947.1,1242.8 949.1,1243.2 951.1,1243.5 953.1,1243.8 955.1,1244.2 957.1,1244.5 959.1,1244.8 961.1,1245.1 963.1,1245.4 965.1,1245.8 967.1,1246.1 969.1,1246.4 971.1,1246.7 973.1,1247.0 975.1,1247.3 977.1,1247.7 979.1,1248.0 981.1,1248.3 983.1,1248.6 985.1,1248.9 987.1,1249.2 989.1,1249.4 991.1,1249.7 993.1,1250.0 995.1,1250.3 997.1,1250.5 999.1,1250.9 1001.1,1251.2 1003.1,1251.5 1005.1,1251.7 1007.1,1252.0 1009.1,1252.2 1011.1,1252.4 1013.2,1252.5 1015.2,1252.6 1017.2,1252.6 1019.2,1252.5 1021.2,1252.5 1023.2,1252.3 1025.2,1252.2 1027.2,1252.1 1029.2,1251.9 1031.2,1251.7 1033.2,1251.5 1035.2,1251.3 1037.2,1251.0 1039.2,1250.7 1041.2,1250.3 1043.2,1249.9 1045.2,1249.5 1047.2,1249.1 1049.2,1248.8 1051.2,1248.5 1053.2,1248.1 1055.2,1247.8 1057.2,1247.5 1059.2,1247.1 1061.2,1246.8 1063.2,1246.4 1065.2,1246.2 1067.2,1246.0 1069.2,1245.8 1071.2,1245.8 1073.2,1245.8 1075.2,1245.8 1077.2,1245.8 1079.2,1245.8 1081.2,1245.8 1083.2,1245.8 1085.2,1245.8 1087.2,1245.8 1089.2,1245.8 1091.2,1246.0 1093.2,1246.3 1095.2,1246.6 1097.2,1247.0 1099.2,1247.4 1101.2,1247.8 1103.2,1248.3 1105.2,1248.7 1107.2,1249.2 1109.2,1249.8 1111.2,1250.4 1113.2,1251.1 1115.2,1251.8 1117.2,1252.6 1119.2,1253.3 1121.2,1254.1 1123.2,1254.8 1125.2,1255.6 1127.2,1256.3 1129.2,1257.0 1131.2,1257.7 1133.2,1258.4 1135.2,1259.1 1137.2,1259.8 1139.2,1260.6 1141.2,1261.3 1143.2,1262.0 1145.2,1262.7 1147.2,1263.4 1149.2,1264.1 1151.2,1264.8 1153.3,1265.5 1155.3,1266.1 1157.3,1266.8 1159.3,1267.4 1161.3,1268.0 1163.3,1268.6 1165.3,1269.2 1167.3,1269.8 1169.3,1270.4 1171.3,1270.9 1173.3,1271.5 1175.3,1272.0 1177.3,1272.5 1179.3,1273.0 1181.3,1273.4 1183.3,1273.8 1185.3,1274.3 1187.3,1274.7 1189.3,1275.1 1191.3,1275.5 1193.3,1275.8 1195.3,1276.2 1197.3,1276.6 1199.3,1277.0 1201.3,1277.3 1203.3,1277.7 1205.3,1278.1 1207.3,1278.5 1209.3,1278.9 1211.3,1279.3 1213.3,1279.7 1215.3,1280.2 1217.3,1280.6 1219.3,1281.0 1221.3,1281.4 1223.3,1281.8 1225.3,1282.2 1227.3,1282.7 1229.3,1283.1 1231.3,1283.6 1233.3,1284.0 1235.3,1284.5 1237.3,1285.0 1239.3,1285.5 1241.3,1286.1 1243.3,1286.8 1245.3,1287.5 1247.3,1288.3 1249.3,1289.2 1251.3,1290.0 1253.3,1290.7 1255.3,1291.3 1257.3,1291.8 1259.3,1292.2 1261.3,1292.4 1263.3,1292.6 1265.3,1292.9 1267.3,1293.1 1269.3,1293.2 1271.3,1293.4 1273.3,1293.5 1275.3,1293.6 1277.3,1293.7 1279.3,1293.8 1281.3,1293.8 1283.3,1293.8 1285.3,1293.7 1287.3,1293.5 1289.3,1293.2 1291.3,1292.9 1293.4,1292.5 1295.4,1292.1 1297.4,1291.7 1299.4,1291.4 1301.4,1291.0 1303.4,1290.8 1305.4,1290.5 1307.4,1290.3 1309.4,1290.2 1311.4,1290.0 1313.4,1289.8 1315.4,1289.6 1317.4,1289.4 1319.4,1289.3 1321.4,1289.1 1323.4,1289.1 1325.4,1289.0 1327.4,1289.0 1329.4,1289.0 1331.4,1289.1 1333.4,1289.3 1335.4,1289.5 1337.4,1289.8 1339.4,1290.2 1341.4,1290.5 1343.4,1290.9 1345.4,1291.3 1347.4,1291.7 1349.4,1292.1 1351.4,1292.5 1353.4,1292.8 1355.4,1293.1 1357.4,1293.5 1359.4,1293.8 1361.4,1294.2 1363.4,1294.6 1365.4,1295.0 1367.4,1295.3 1369.4,1295.7 1371.4,1296.0 1373.4,1296.3 1375.4,1296.6 1377.4,1296.9 1379.4,1297.1 1381.4,1297.2 1383.4,1297.4 1385.4,1297.6 1387.4,1297.7 1389.4,1297.9 1391.4,1298.0 1393.4,1298.1 1395.4,1298.3 1397.4,1298.4 1399.4,1298.5 1401.4,1298.6 1403.4,1298.6 1405.4,1298.7 1407.4,1298.7 1409.4,1298.7 1411.4,1298.7 1413.4,1298.6 1415.4,1298.5 1417.4,1298.4 1419.4,1298.2 1421.4,1298.0 1423.4,1297.8 1425.4,1297.5 1427.4,1297.3 1429.4,1297.0 1431.4,1296.7 1433.5,1296.3 1435.5,1296.0 1437.5,1295.5 1439.5,1294.9 1441.5,1294.1 1443.5,1293.2 1445.5,1292.2 1447.5,1291.1 1449.5,1289.9 1451.5,1288.7 1453.5,1287.2 1455.5,1285.5 1457.5,1283.6 1459.5,1281.4 1461.5,1279.0 1463.5,1276.4 1465.5,1273.7 1467.5,1270.8 1469.5,1267.5 1471.5,1263.7 1473.5,1259.5 1475.5,1254.9 1477.5,1250.2 1479.5,1245.4 1481.5,1240.5 1483.5,1235.3 1485.5,1229.8 1487.5,1224.1 1489.5,1218.4 1491.5,1212.7 1493.5,1207.1 1495.5,1201.4 1497.5,1195.5 1499.5,1189.5 1501.5,1183.8 1503.5,1178.4 1505.5,1173.6 1507.5,1169.5 1509.5,1165.4 1511.5,1161.7 1513.5,1158.5 1515.5,1156.2 1517.5,1154.7 1519.5,1153.5 1521.5,1153.3 1523.5,1154.1 1525.5,1155.6 1527.5,1157.6 1529.5,1159.7 1531.5,1162.7 1533.5,1166.6 1535.5,1171.1 1537.5,1175.8 1539.5,1180.5 1541.5,1185.6 1543.5,1191.1 1545.5,1196.9 1547.5,1202.7 1549.5,1208.4 1551.5,1213.9 1553.5,1219.2 1555.5,1224.5 1557.5,1229.8 1559.5,1234.9 1561.5,1239.8 1563.5,1244.4 1565.5,1248.5 1567.5,1252.7 1569.5,1256.7 1571.5,1260.5 1573.6,1263.9 1575.6,1266.9 1577.6,1269.4 1579.6,1271.4 1581.6,1273.2 1583.6,1274.9 1585.6,1276.4 1587.6,1277.6 1589.6,1278.7 1591.6,1279.6 1593.6,1280.4 1595.6,1281.1 1597.6,1281.8 1599.6,1282.4 1601.6,1282.9 1603.6,1283.4 1605.6,1283.8 1607.6,1284.2 1609.6,1284.5 1611.6,1284.8 1613.6,1285.0 1615.6,1285.3 1617.6,1285.5 1619.6,1285.7 1621.6,1286.1 1623.6,1286.5 1625.6,1287.0 1627.6,1287.7 1629.6,1288.6 1631.6,1289.5 1633.6,1290.6 1635.6,1291.8 1637.6,1293.1 1639.6,1294.4 1641.6,1295.8 1643.6,1297.3 1645.6,1298.7 1647.6,1300.2 1649.6,1301.7 1651.6,1303.1 1653.6,1304.5 1655.6,1305.9 1657.6,1307.1 1659.6,1308.4 1661.6,1309.5 1663.6,1310.7 1665.6,1311.9 1667.6,1313.1 1669.6,1314.2 1671.6,1315.4 1673.6,1316.4 1675.6,1317.5 1677.6,1318.5 1679.6,1319.4 1681.6,1320.2 1683.6,1321.0 1685.6,1321.7 1687.6,1322.5 1689.6,1323.2 1691.6,1323.8 1693.6,1324.5 1695.6,1325.1 1697.6,1325.7 1699.6,1326.3 1701.6,1326.9 1703.6,1327.4 1705.6,1328.0 1707.6,1328.5 1709.6,1329.0 1711.6,1329.5 1713.7,1330.0 1715.7,1330.4 1717.7,1330.8 1719.7,1331.2 1721.7,1331.6 1723.7,1331.9 1725.7,1332.2 1727.7,1332.5 1729.7,1332.8 1731.7,1333.1 1733.7,1333.3 1735.7,1333.6 1737.7,1333.9 1739.7,1334.1 1741.7,1334.4 1743.7,1334.7 1745.7,1335.0 1747.7,1335.2 1749.7,1335.5 1751.7,1335.7 1753.7,1336.0 1755.7,1336.3 1757.7,1336.5 1759.7,1336.8 1761.7,1337.0 1763.7,1337.2 1765.7,1337.5 1767.7,1337.7 1769.7,1338.0 1771.7,1338.2 1773.7,1338.4 1775.7,1338.6 1777.7,1338.9 1779.7,1339.1 1781.7,1339.3 1783.7,1339.5 1785.7,1339.7 1787.7,1340.0 1789.7,1340.2 1791.7,1340.4 1793.7,1340.6 1795.7,1340.8 1797.7,1341.0 1799.7,1341.2 1801.7,1341.4 1803.7,1341.6 1805.7,1341.8 1807.7,1342.0 1809.7,1342.2 1811.7,1342.3 1813.7,1342.5 1815.7,1342.7 1817.7,1342.8 1819.7,1343.0 1821.7,1343.1 1823.7,1343.3 1825.7,1343.4 1827.7,1343.5 1829.7,1343.7 1831.7,1343.8 1833.7,1343.9 1835.7,1344.0 1837.7,1344.2 1839.7,1344.3 1841.7,1344.4 1843.7,1344.5 1845.7,1344.7 1847.7,1344.8 1849.7,1344.9 1851.7,1345.0 1853.8,1345.1 1855.8,1345.3 1857.8,1345.4 1859.8,1345.5 1861.8,1345.6 1863.8,1345.8 1865.8,1345.9 1867.8,1346.0 1869.8,1346.1 1871.8,1346.3 1873.8,1346.4 1875.8,1346.5 1877.8,1346.6 1879.8,1346.7 1881.8,1346.9 1883.8,1347.0 1885.8,1347.1 1887.8,1347.2 1889.8,1347.3 1891.8,1347.4 1893.8,1347.5 1895.8,1347.7 1897.8,1347.8 1899.8,1347.9 1901.8,1348.0 1903.8,1348.1 1905.8,1348.2 1907.8,1348.3 1909.8,1348.4 1911.8,1348.5 1913.8,1348.6 1915.8,1348.7 1917.8,1348.8 1919.8,1348.9 1921.8,1349.0 1923.8,1349.1 1925.8,1349.2 1927.8,1349.3 1929.8,1349.4 1931.8,1349.5 1933.8,1349.5 1935.8,1349.6 1937.8,1349.7 1939.8,1349.8 1941.8,1349.9 1943.8,1349.9 1945.8,1350.0 1947.8,1350.1 1949.8,1350.1 1951.8,1350.2 1953.8,1350.3 1955.8,1350.3 1957.8,1350.4 1959.8,1350.5 1961.8,1350.5 1963.8,1350.6 1965.8,1350.6 1967.8,1350.7 1969.8,1350.7 1971.8,1350.8 1973.8,1350.8 1975.8,1350.9 1977.8,1351.0 1979.8,1351.0 1981.8,1351.1 1983.8,1351.1 1985.8,1351.2 1987.8,1351.2 1989.8,1351.3 1991.8,1351.3 1993.9,1351.4 1995.9,1351.4 1997.9,1351.5 1999.9,1351.5 2001.9,1351.6 2003.9,1351.6 2005.9,1351.7 2007.9,1351.7 2009.9,1351.8 2011.9,1351.8 2013.9,1351.9 2015.9,1351.9 2017.9,1352.0 2019.9,1352.0 2021.9,1352.0 2023.9,1352.1 2025.9,1352.1 2027.9,1352.1 2029.9,1352.2 2031.9,1352.2 2033.9,1352.2 2035.9,1352.3 2037.9,1352.3 2039.9,1352.3 2041.9,1352.3 2043.9,1352.3 2045.9,1352.4 2047.9,1352.4 2049.9,1352.4 2051.9,1352.4 2053.9,1352.4 2055.9,1352.4 2057.9,1352.4 2059.9,1352.4 2061.9,1352.4 2063.9,1352.4 2065.9,1352.4 2067.9,1352.4 2069.9,1352.4 2071.9,1352.4 2073.9,1352.4 2075.9,1352.4 2077.9,1352.4 2079.9,1352.4 2081.9,1352.4 2083.9,1352.4 2085.9,1352.4 2087.9,1352.4 2089.9,1352.4 2091.9,1352.4 2093.9,1352.4 2095.9,1352.4 2097.9,1352.3 2099.9,1352.3 2101.9,1352.3 2103.9,1352.3 2105.9,1352.3 2107.9,1352.3 2109.9,1352.3 2111.9,1352.3" fill="none" stroke="#00ff00" stroke-width="7" stroke-linejoin="round" stroke-linecap="butt"/>
<polyline points="254.9,652.6 256.9,656.7 258.9,660.6 261.0,664.5 263.0,668.3 265.0,671.9 267.0,675.4 269.0,678.9 271.0,682.3 273.0,685.5 275.0,688.7 277.0,691.9 279.0,694.9 281.0,698.0 283.0,701.2 285.0,704.3 287.0,707.3 289.0,709.8 291.0,711.9 293.1,713.4 295.1,714.6 297.1,715.7 299.1,716.6 301.1,717.4 303.1,718.3 305.1,719.2 307.1,720.1 309.1,721.0 311.1,722.2 313.1,724.1 315.1,726.9 317.1,730.3 319.1,733.8 321.1,737.0 323.2,739.8 325.2,742.5 327.2,745.1 329.2,747.7 331.2,750.3 333.2,752.8 335.2,755.4 337.2,757.9 339.2,760.4 341.2,762.9 343.2,765.4 345.2,767.8 347.2,770.2 349.2,772.6 351.2,774.9 353.2,777.2 355.3,779.4 357.3,781.6 359.3,783.8 361.3,785.9 363.3,788.0 365.3,789.9 367.3,791.7 369.3,793.4 371.3,794.9 373.3,796.3 375.3,797.6 377.3,798.8 379.3,800.0 381.3,801.1 383.3,802.1 385.3,803.2 387.4,804.2 389.4,805.1 391.4,806.0 393.4,806.8 395.4,807.6 397.4,808.5 399.4,809.3 401.4,810.3 403.4,811.3 405.4,812.4 407.4,813.7 409.4,815.0 411.4,816.2 413.4,817.3 415.4,818.2 417.4,819.1 419.5,819.8 421.5,820.6 423.5,821.3 425.5,821.8 427.5,822.3 429.5,822.6 431.5,822.9 433.5,823.2 435.5,823.4 437.5,823.6 439.5,823.8 441.5,823.9 443.5,824.0 445.5,824.0 447.5,823.8 449.5,823.4 451.6,822.9 453.6,822.3 455.6,821.6 457.6,820.9 459.6,820.2 461.6,819.5 463.6,818.9 465.6,818.1 467.6,817.3 469.6,816.6 471.6,815.8 473.6,815.0 475.6,814.3 477.6,813.6 479.6,812.9 481.7,812.2 483.7,811.4 485.7,810.6 487.7,809.6 489.7,808.6 491.7,807.5 493.7,806.3 495.7,805.0 497.7,803.6 499.7,802.0 501.7,800.2 503.7,798.2 505.7,795.8 507.7,793.2 509.7,790.2 511.7,786.6 513.8,782.4 515.8,777.5 517.8,772.1 519.8,766.1 521.8,758.8 523.8,750.4 525.8,741.5 527.8,732.1 529.8,722.0 531.8,711.5 533.8,700.7 535.8,689.5 537.8,678.4 539.8,668.0 541.8,658.4 543.8,648.5 545.9,637.3 547.9,624.2 549.9,609.9 551.9,595.3 553.9,581.4 555.9,569.1 557.9,558.4 559.9,548.1 561.9,536.7 563.9,522.9 565.9,506.0 567.9,487.0 574.4,439.3 578.1,417.8 581.8,351.1 585.5,428.6 589.3,400.8 593.0,423.8 596.7,379.3 600.4,387.9 604.1,413.8 607.8,389.6 611.5,401.4 615.3,406.0 619.0,403.9 622.7,377.9 626.4,399.2 630.1,400.5 633.8,412.7 637.5,387.2 641.3,425.5 645.0,391.6 648.7,410.7 652.4,385.5 656.1,428.6 659.8,407.0 663.5,410.1 667.3,396.6 671.0,406.1 674.7,402.9 678.4,382.6 682.1,403.1 685.8,408.6 689.5,374.7 693.3,381.2 697.0,431.8 700.7,408.0 704.4,399.9 710.8,444.8 712.8,453.3 714.8,465.4 716.8,479.9 718.8,497.8 720.8,521.1 722.8,546.7 724.8,572.9 726.8,600.9 728.8,621.5 730.8,637.4 732.8,652.1 734.8,667.7 736.8,683.1 738.8,699.1 740.8,716.7 742.8,736.6 744.8,757.2 746.8,777.7 748.8,798.1 750.8,816.5 752.8,833.6 754.8,849.3 756.8,863.4 758.8,876.0 760.8,887.7 762.8,898.6 764.8,908.9 766.8,918.8 768.8,928.2 770.8,937.2 772.8,945.8 774.8,954.2 776.8,962.3 778.8,970.2 780.8,978.0 782.8,985.6 784.8,993.0 786.8,999.9 788.8,1006.5 790.8,1012.6 792.8,1018.2 794.8,1023.5 796.9,1028.5 798.9,1033.3 800.9,1038.0 802.9,1042.7 804.9,1047.4 806.9,1052.2 808.9,1057.3 810.9,1062.7 812.9,1068.6 814.9,1074.6 816.9,1080.4 818.9,1085.7 820.9,1090.4 822.9,1094.8 824.9,1098.9 826.9,1103.0 828.9,1107.2 830.9,1111.6 832.9,1116.0 834.9,1120.3 836.9,1124.5 838.9,1128.4 840.9,1132.2 842.9,1135.9 844.9,1139.4 846.9,1142.8 848.9,1145.8 850.9,1148.6 852.9,1151.2 854.9,1153.6 856.9,1156.0 858.9,1158.2 860.9,1160.4 862.9,1162.6 864.9,1164.8 866.9,1166.9 868.9,1168.9 870.9,1170.7 872.9,1172.5 874.9,1174.1 876.9,1175.6 878.9,1177.0 880.9,1178.4 882.9,1179.7 884.9,1181.0 886.9,1182.2 888.9,1183.4 890.9,1184.6 892.9,1185.7 894.9,1186.8 896.9,1187.9 898.9,1189.0 900.9,1190.0 902.9,1191.0 904.9,1191.9 906.9,1192.8 908.9,1193.7 910.9,1194.6 912.9,1195.5 914.9,1196.3 916.9,1197.2 919.0,1198.0 921.0,1198.8 923.0,1199.7 925.0,1200.5 927.0,1201.2 929.0,1202.0 931.0,1202.7 933.0,1203.5 935.0,1204.2 937.0,1205.0 939.0,1205.8 941.0,1206.7 943.0,1207.7 945.0,1208.9 947.0,1210.3 949.0,1211.5 951.0,1212.6 953.0,1213.5 955.0,1214.4 957.0,1215.2 959.0,1216.0 961.0,1216.8 963.0,1217.5 965.0,1218.2 967.0,1218.8 969.0,1219.4 971.0,1220.0 973.0,1220.6 975.0,1221.1 977.0,1221.6 979.0,1222.2 981.0,1222.7 983.0,1223.1 985.0,1223.6 987.0,1224.0 989.0,1224.4 991.0,1224.7 993.0,1225.0 995.0,1225.2 997.0,1225.4 999.0,1225.7 1001.0,1225.9 1003.0,1226.0 1005.0,1226.2 1007.0,1226.3 1009.0,1226.3 1011.0,1226.3 1013.0,1226.1 1015.0,1225.9 1017.0,1225.7 1019.0,1225.4 1021.0,1225.0 1023.0,1224.6 1025.0,1224.2 1027.0,1223.7 1029.0,1223.1 1031.0,1222.3 1033.0,1221.4 1035.0,1220.5 1037.0,1219.4 1039.1,1218.4 1041.1,1217.3 1043.1,1216.3 1045.1,1215.2 1047.1,1214.0 1049.1,1212.7 1051.1,1211.4 1053.1,1210.1 1055.1,1208.9 1057.1,1207.7 1059.1,1206.7 1061.1,1205.6 1063.1,1204.5 1065.1,1203.4 1067.1,1202.4 1069.1,1201.4 1071.1,1200.6 1073.1,1200.0 1075.1,1199.5 1077.1,1199.2 1079.1,1198.8 1081.1,1198.5 1083.1,1198.3 1085.1,1198.1 1087.1,1198.1 1089.1,1198.1 1091.1,1198.2 1093.1,1198.4 1095.1,1198.7 1097.1,1199.1 1099.1,1199.4 1101.1,1199.8 1103.1,1200.4 1105.1,1201.2 1107.1,1202.2 1109.1,1203.3 1111.1,1204.5 1113.1,1205.7 1115.1,1206.9 1117.1,1208.1 1119.1,1209.3 1121.1,1210.6 1123.1,1212.0 1125.1,1213.4 1127.1,1214.8 1129.1,1216.2 1131.1,1217.6 1133.1,1219.0 1135.1,1220.2 1137.1,1221.4 1139.1,1222.5 1141.1,1223.6 1143.1,1224.7 1145.1,1225.8 1147.1,1226.8 1149.1,1227.8 1151.1,1228.7 1153.1,1229.6 1155.1,1230.4 1157.1,1231.1 1159.1,1231.8 1161.2,1232.4 1163.2,1233.0 1165.2,1233.6 1167.2,1234.2 1169.2,1234.7 1171.2,1235.3 1173.2,1235.8 1175.2,1236.3 1177.2,1236.7 1179.2,1237.2 1181.2,1237.7 1183.2,1238.1 1185.2,1238.5 1187.2,1238.9 1189.2,1239.3 1191.2,1239.6 1193.2,1240.0 1195.2,1240.3 1197.2,1240.7 1199.2,1241.1 1201.2,1241.4 1203.2,1241.8 1205.2,1242.2 1207.2,1242.7 1209.2,1243.1 1211.2,1243.6 1213.2,1244.1 1215.2,1244.6 1217.2,1245.2 1219.2,1245.8 1221.2,1246.4 1223.2,1247.0 1225.2,1247.7 1227.2,1248.4 1229.2,1249.3 1231.2,1250.2 1233.2,1251.2 1235.2,1252.3 1237.2,1253.3 1239.2,1254.4 1241.2,1255.6 1243.2,1256.8 1245.2,1258.2 1247.2,1259.6 1249.2,1261.0 1251.2,1262.3 1253.2,1263.4 1255.2,1264.3 1257.2,1264.9 1259.2,1265.5 1261.2,1266.1 1263.2,1266.6 1265.2,1267.1 1267.2,1267.6 1269.2,1267.9 1271.2,1268.2 1273.2,1268.4 1275.2,1268.5 1277.2,1268.5 1279.2,1268.3 1281.2,1268.0 1283.3,1267.6 1285.3,1267.1 1287.3,1266.6 1289.3,1266.0 1291.3,1265.4 1293.3,1264.9 1295.3,1264.3 1297.3,1263.9 1299.3,1263.5 1301.3,1263.1 1303.3,1262.6 1305.3,1262.2 1307.3,1261.8 1309.3,1261.3 1311.3,1260.9 1313.3,1260.5 1315.3,1260.1 1317.3,1259.7 1319.3,1259.4 1321.3,1259.2 1323.3,1259.0 1325.3,1258.8 1327.3,1258.8 1329.3,1258.8 1331.3,1259.0 1333.3,1259.2 1335.3,1259.6 1337.3,1260.0 1339.3,1260.5 1341.3,1261.0 1343.3,1261.6 1345.3,1262.2 1347.3,1262.8 1349.3,1263.4 1351.3,1264.0 1353.3,1264.5 1355.3,1265.1 1357.3,1265.7 1359.3,1266.4 1361.3,1267.1 1363.3,1267.9 1365.3,1268.7 1367.3,1269.4 1369.3,1270.2 1371.3,1270.8 1373.3,1271.5 1375.3,1272.0 1377.3,1272.4 1379.3,1272.7 1381.3,1272.9 1383.3,1273.1 1385.3,1273.3 1387.3,1273.5 1389.3,1273.6 1391.3,1273.8 1393.3,1273.9 1395.3,1274.0 1397.3,1274.2 1399.3,1274.2 1401.3,1274.3 1403.4,1274.3 1405.4,1274.4 1407.4,1274.3 1409.4,1274.3 1411.4,1274.2 1413.4,1274.0 1415.4,1273.9 1417.4,1273.7 1419.4,1273.4 1421.4,1273.2 1423.4,1272.9 1425.4,1272.6 1427.4,1272.2 1429.4,1271.9 1431.4,1271.4 1433.4,1270.7 1435.4,1269.9 1437.4,1268.9 1439.4,1267.8 1441.4,1266.7 1443.4,1265.4 1445.4,1264.0 1447.4,1262.3 1449.4,1260.3 1451.4,1257.9 1453.4,1255.3 1455.4,1252.4 1457.4,1249.3 1459.4,1245.9 1461.4,1242.4 1463.4,1238.2 1465.4,1233.3 1467.4,1227.8 1469.4,1221.9 1471.4,1215.5 1473.4,1209.0 1475.4,1202.0 1477.4,1194.4 1479.4,1186.2 1481.4,1177.5 1483.4,1168.4 1485.4,1159.0 1487.4,1149.3 1489.4,1139.0 1491.4,1128.0 1493.4,1116.6 1495.4,1105.0 1497.4,1093.7 1499.4,1082.8 1501.4,1072.1 1503.4,1061.2 1505.4,1050.7 1507.4,1040.9 1509.4,1032.6 1511.4,1025.3 1513.4,1018.7 1515.4,1013.9 1517.4,1010.9 1519.4,1008.7 1521.4,1008.2 1523.4,1009.8 1525.5,1012.8 1527.5,1016.4 1529.5,1021.6 1531.5,1028.7 1533.5,1037.0 1535.5,1045.5 1537.5,1054.5 1539.5,1064.6 1541.5,1075.1 1543.5,1085.6 1545.5,1095.5 1547.5,1105.0 1549.5,1114.4 1551.5,1123.7 1553.5,1132.8 1555.5,1141.5 1557.5,1149.8 1559.5,1157.7 1561.5,1165.4 1563.5,1172.8 1565.5,1180.0 1567.5,1186.8 1569.5,1193.1 1571.5,1199.0 1573.5,1204.4 1575.5,1209.6 1577.5,1214.5 1579.5,1219.2 1581.5,1223.5 1583.5,1227.6 1585.5,1231.4 1587.5,1235.1 1589.5,1238.5 1591.5,1241.8 1593.5,1244.9 1595.5,1247.8 1597.5,1250.5 1599.5,1253.0 1601.5,1255.5 1603.5,1257.8 1605.5,1260.0 1607.5,1262.1 1609.5,1264.2 1611.5,1266.1 1613.5,1268.0 1615.5,1269.8 1617.5,1271.5 1619.5,1273.2 1621.5,1274.8 1623.5,1276.4 1625.5,1277.9 1627.5,1279.4 1629.5,1280.8 1631.5,1282.2 1633.5,1283.6 1635.5,1284.9 1637.5,1286.2 1639.5,1287.5 1641.5,1288.8 1643.5,1290.0 1645.6,1291.3 1647.6,1292.5 1649.6,1293.7 1651.6,1294.9 1653.6,1296.1 1655.6,1297.2 1657.6,1298.4 1659.6,1299.6 1661.6,1300.7 1663.6,1301.9 1665.6,1303.1 1667.6,1304.2 1669.6,1305.4 1671.6,1306.5 1673.6,1307.6 1675.6,1308.6 1677.6,1309.6 1679.6,1310.6 1681.6,1311.5 1683.6,1312.4 1685.6,1313.3 1687.6,1314.1 1689.6,1315.0 1691.6,1315.7 1693.6,1316.5 1695.6,1317.2 1697.6,1317.9 1699.6,1318.5 1701.6,1319.1 1703.6,1319.7 1705.6,1320.2 1707.6,1320.7 1709.6,1321.2 1711.6,1321.7 1713.6,1322.1 1715.6,1322.6 1717.6,1323.0 1719.6,1323.4 1721.6,1323.9 1723.6,1324.3 1725.6,1324.8 1727.6,1325.2 1729.6,1325.6 1731.6,1326.0 1733.6,1326.4 1735.6,1326.7 1737.6,1327.0 1739.6,1327.4 1741.6,1327.7 1743.6,1327.9 1745.6,1328.2 1747.6,1328.5 1749.6,1328.8 1751.6,1329.0 1753.6,1329.3 1755.6,1329.5 1757.6,1329.8 1759.6,1330.0 1761.6,1330.3 1763.6,1330.5 1765.6,1330.7 1767.7,1330.9 1769.7,1331.2 1771.7,1331.4 1773.7,1331.6 1775.7,1331.8 1777.7,1332.0 1779.7,1332.3 1781.7,1332.5 1783.7,1332.7 1785.7,1332.9 1787.7,1333.1 1789.7,1333.3 1791.7,1333.5 1793.7,1333.7 1795.7,1333.9 1797.7,1334.1 1799.7,1334.3 1801.7,1334.5 1803.7,1334.7 1805.7,1334.9 1807.7,1335.1 1809.7,1335.2 1811.7,1335.4 1813.7,1335.6 1815.7,1335.8 1817.7,1336.0 1819.7,1336.2 1821.7,1336.4 1823.7,1336.7 1825.7,1336.9 1827.7,1337.1 1829.7,1337.3 1831.7,1337.5 1833.7,1337.7 1835.7,1337.9 1837.7,1338.1 1839.7,1338.3 1841.7,1338.5 1843.7,1338.7 1845.7,1338.9 1847.7,1339.1 1849.7,1339.3 1851.7,1339.5 1853.7,1339.7 1855.7,1339.8 1857.7,1340.0 1859.7,1340.2 1861.7,1340.3 1863.7,1340.5 1865.7,1340.6 1867.7,1340.8 1869.7,1340.9 1871.7,1341.1 1873.7,1341.2 1875.7,1341.4 1877.7,1341.5 1879.7,1341.7 1881.7,1341.8 1883.7,1341.9 1885.7,1342.1 1887.8,1342.2 1889.8,1342.4 1891.8,1342.5 1893.8,1342.7 1895.8,1342.8 1897.8,1343.0 1899.8,1343.1 1901.8,1343.3 1903.8,1343.4 1905.8,1343.6 1907.8,1343.8 1909.8,1343.9 1911.8,1344.1 1913.8,1344.2 1915.8,1344.4 1917.8,1344.5 1919.8,1344.7 1921.8,1344.8 1923.8,1345.0 1925.8,1345.1 1927.8,1345.3 1929.8,1345.4 1931.8,1345.5 1933.8,1345.7 1935.8,1345.8 1937.8,1345.9 1939.8,1346.0 1941.8,1346.1 1943.8,1346.3 1945.8,1346.4 1947.8,1346.5 1949.8,1346.6 1951.8,1346.7 1953.8,1346.8 1955.8,1346.9 1957.8,1347.0 1959.8,1347.1 1961.8,1347.3 1963.8,1347.4 1965.8,1347.5 1967.8,1347.6 1969.8,1347.7 1971.8,1347.9 1973.8,1348.0 1975.8,1348.1 1977.8,1348.2 1979.8,1348.4 1981.8,1348.5 1983.8,1348.6 1985.8,1348.8 1987.8,1348.9 1989.8,1349.0 1991.8,1349.2 1993.8,1349.3 1995.8,1349.5 1997.8,1349.6 1999.8,1349.7 2001.8,1349.9 2003.8,1350.0 2005.8,1350.1 2007.8,1350.2 2009.9,1350.4 2011.9,1350.5 2013.9,1350.6 2015.9,1350.7 2017.9,1350.9 2019.9,1351.0 2021.9,1351.1 2023.9,1351.2 2025.9,1351.3 2027.9,1351.4 2029.9,1351.5 2031.9,1351.6 2033.9,1351.6 2035.9,1351.7 2037.9,1351.8 2039.9,1351.9 2041.9,1351.9 2043.9,1352.0 2045.9,1352.0 2047.9,1352.1 2049.9,1352.1 2051.9,1352.2 2053.9,1352.2 2055.9,1352.2 2057.9,1352.2 2059.9,1352.2 2061.9,1352.2 2063.9,1352.2 2065.9,1352.2 2067.9,1352.2 2069.9,1352.2 2071.9,1352.2 2073.9,1352.2 2075.9,1352.2 2077.9,1352.2 2079.9,1352.2 2081.9,1352.2 2083.9,1352.3 2085.9,1352.3 2087.9,1352.3 2089.9,1352.3 2091.9,1352.3 2093.9,1352.3 2095.9,1352.3 2097.9,1352.3 2099.9,1352.3 2101.9,1352.3 2103.9,1352.3 2105.9,1352.3 2107.9,1352.3 2109.9,1352.3 2111.9,1352.3" fill="none" stroke="#0000ff" stroke-width="7" stroke-linejoin="round" stroke-linecap="butt"/>
<polyline points="255.0,434.6 258.7,419.6 262.4,426.0 266.1,374.7 269.9,440.3 273.6,424.8 277.3,422.1 281.0,412.0 284.7,385.5 288.4,429.7 292.1,445.6 295.9,460.9 299.6,482.4 303.3,442.2 307.0,427.7 310.7,411.2 314.4,431.3 318.1,433.0 321.9,414.3 325.6,431.9 329.3,460.8 333.0,412.8 336.7,417.4 340.4,442.7 344.1,441.0 347.9,438.5 351.6,456.4 355.3,413.5 359.0,457.1 362.7,422.8 366.4,450.0 370.1,476.2 373.8,452.8 377.6,466.6 381.3,466.2 385.0,477.5 388.7,444.4 392.4,463.8 396.1,478.5 399.8,466.0 403.6,481.4 407.3,465.1 411.0,480.7 414.7,510.9 418.4,479.2 422.1,489.3 425.8,487.4 429.6,531.9 433.3,523.6 437.0,499.8 440.7,481.4 444.4,540.5 448.1,502.4 451.8,513.1 455.6,535.8 459.3,467.3 463.0,511.2 466.7,518.7 470.4,506.4 474.1,526.0 477.8,499.4 481.6,510.7 485.3,508.2 489.0,487.5 492.7,482.4 496.4,454.5 500.1,469.0 503.8,480.2 507.6,484.5 511.3,476.4 515.0,477.2 518.7,470.7 522.4,478.4 526.1,514.6 529.8,443.1 533.5,478.5 537.3,440.6 541.0,453.7 544.7,450.6 548.4,439.6 552.1,460.4 555.8,451.8 559.5,457.4 563.3,435.1 567.0,405.8 570.7,435.5 574.4,420.7 578.1,420.5 581.8,420.8 585.5,424.0 589.3,399.9 593.0,415.7 596.7,421.9 600.4,438.7 604.1,394.6 607.8,396.9 611.5,402.7 615.3,407.9 619.0,381.0 622.7,403.6 626.4,411.2 630.1,392.9 633.8,404.7 637.5,399.4 641.3,308.0 645.0,396.3 648.7,420.3 652.4,409.1 656.1,407.9 659.8,373.3 663.5,405.3 667.3,396.3 671.0,389.3 674.7,400.2 678.4,412.0 682.1,415.1 685.8,333.8 689.5,380.0 693.3,392.4 697.0,366.8 700.7,405.2 704.4,396.9 708.1,384.3 711.8,412.9 715.5,396.9 719.2,399.3 723.0,428.6 726.7,368.3 730.4,428.6 734.1,398.6 737.8,434.2 741.5,439.4 745.2,398.5 749.4,503.2 751.4,504.8 753.4,508.8 755.4,514.6 757.4,525.9 759.4,546.0 761.4,563.2 763.4,577.0 765.4,589.6 767.4,601.1 769.4,611.9 771.4,621.8 773.4,630.4 775.4,637.9 777.4,645.0 779.4,652.5 781.4,660.3 783.4,668.3 785.4,676.3 787.4,684.4 789.4,692.7 791.4,701.2 793.4,709.9 795.4,718.7 797.4,727.5 799.4,736.2 801.4,744.8 803.4,753.5 805.4,762.2 807.4,770.9 809.4,779.5 811.4,788.3 813.4,797.1 815.4,805.8 817.4,814.3 819.4,822.6 821.4,830.8 823.4,838.8 825.4,846.7 827.4,854.5 829.4,862.1 831.4,869.6 833.4,876.9 835.4,884.1 837.4,891.2 839.4,898.2 841.4,905.1 843.4,911.9 845.4,918.3 847.4,924.4 849.4,930.2 851.4,935.6 853.4,940.9 855.4,946.0 857.4,951.0 859.4,956.0 861.4,961.0 863.4,965.7 865.4,970.0 867.4,973.8 869.4,977.1 871.4,980.2 873.4,983.1 875.4,985.8 877.4,988.4 879.4,990.8 881.4,993.2 883.4,995.4 885.4,997.6 887.4,999.7 889.4,1001.7 891.4,1003.6 893.4,1005.5 895.4,1007.2 897.4,1009.0 899.4,1010.7 901.4,1012.5 903.4,1014.3 905.4,1016.1 907.4,1018.1 909.4,1020.1 911.4,1022.3 913.4,1024.5 915.4,1026.8 917.4,1029.2 919.4,1031.7 921.4,1034.1 923.4,1036.5 925.4,1038.9 927.4,1041.2 929.4,1043.5 931.4,1045.7 933.4,1048.0 935.4,1050.2 937.4,1052.4 939.4,1054.6 941.4,1056.7 943.4,1058.9 945.4,1060.9 947.4,1063.0 949.4,1064.9 951.4,1066.9 953.4,1068.9 955.4,1070.8 957.4,1072.7 959.4,1074.5 961.4,1076.3 963.4,1078.1 965.4,1079.7 967.4,1081.3 969.4,1082.8 971.4,1084.3 973.4,1085.8 975.4,1087.2 977.4,1088.6 979.4,1090.0 981.5,1091.2 983.5,1092.4 985.5,1093.5 987.5,1094.5 989.5,1095.5 991.5,1096.5 993.5,1097.4 995.5,1098.3 997.5,1099.1 999.5,1099.8 1001.5,1100.3 1003.5,1100.7 1005.5,1101.1 1007.5,1101.5 1009.5,1101.8 1011.5,1102.0 1013.5,1102.2 1015.5,1102.3 1017.5,1102.2 1019.5,1102.0 1021.5,1101.7 1023.5,1101.2 1025.5,1100.6 1027.5,1100.0 1029.5,1099.3 1031.5,1098.6 1033.5,1097.9 1035.5,1096.8 1037.5,1095.6 1039.5,1094.2 1041.5,1092.7 1043.5,1091.2 1045.5,1089.7 1047.5,1088.3 1049.5,1087.0 1051.5,1085.6 1053.5,1084.2 1055.5,1082.8 1057.5,1081.4 1059.5,1080.2 1061.5,1079.1 1063.5,1078.3 1065.5,1077.7 1067.5,1077.2 1069.5,1076.8 1071.5,1076.4 1073.5,1076.0 1075.5,1075.7 1077.5,1075.5 1079.5,1075.4 1081.5,1075.3 1083.5,1075.5 1085.5,1075.8 1087.5,1076.2 1089.5,1076.8 1091.5,1077.4 1093.5,1078.1 1095.5,1078.9 1097.5,1079.7 1099.5,1080.7 1101.5,1082.0 1103.5,1083.5 1105.5,1085.2 1107.5,1087.0 1109.5,1088.9 1111.5,1090.8 1113.5,1092.7 1115.5,1094.6 1117.5,1096.8 1119.5,1099.0 1121.5,1101.4 1123.5,1103.7 1125.5,1106.0 1127.5,1108.2 1129.5,1110.3 1131.5,1112.3 1133.5,1114.2 1135.5,1116.1 1137.5,1118.0 1139.5,1119.8 1141.5,1121.5 1143.5,1123.2 1145.5,1124.8 1147.5,1126.3 1149.5,1127.7 1151.5,1129.1 1153.5,1130.5 1155.5,1131.8 1157.5,1133.1 1159.5,1134.3 1161.5,1135.5 1163.5,1136.7 1165.5,1137.9 1167.5,1139.0 1169.5,1140.1 1171.5,1141.2 1173.5,1142.3 1175.5,1143.3 1177.5,1144.3 1179.5,1145.3 1181.5,1146.3 1183.5,1147.3 1185.5,1148.2 1187.5,1149.2 1189.5,1150.1 1191.5,1151.1 1193.5,1152.1 1195.5,1153.1 1197.5,1154.1 1199.5,1155.0 1201.5,1155.9 1203.5,1156.8 1205.5,1157.7 1207.5,1158.7 1209.5,1159.7 1211.5,1160.7 1213.5,1161.8 1215.6,1162.9 1217.6,1164.1 1219.6,1165.5 1221.6,1167.0 1223.6,1168.6 1225.6,1170.3 1227.6,1172.0 1229.6,1173.8 1231.6,1175.7 1233.6,1177.6 1235.6,1179.4 1237.6,1181.3 1239.6,1183.1 1241.6,1184.9 1243.6,1186.9 1245.6,1188.9 1247.6,1191.0 1249.6,1193.0 1251.6,1194.8 1253.6,1196.4 1255.6,1197.7 1257.6,1198.7 1259.6,1199.7 1261.6,1200.6 1263.6,1201.5 1265.6,1202.3 1267.6,1203.1 1269.6,1203.7 1271.6,1204.1 1273.6,1204.4 1275.6,1204.5 1277.6,1204.5 1279.6,1204.3 1281.6,1204.0 1283.6,1203.6 1285.6,1203.1 1287.6,1202.6 1289.6,1202.0 1291.6,1201.5 1293.6,1200.9 1295.6,1200.4 1297.6,1199.9 1299.6,1199.4 1301.6,1198.9 1303.6,1198.4 1305.6,1197.9 1307.6,1197.3 1309.6,1196.7 1311.6,1196.2 1313.6,1195.7 1315.6,1195.2 1317.6,1194.8 1319.6,1194.5 1321.6,1194.3 1323.6,1194.2 1325.6,1194.2 1327.6,1194.4 1329.6,1194.8 1331.6,1195.3 1333.6,1195.9 1335.6,1196.6 1337.6,1197.4 1339.6,1198.2 1341.6,1199.1 1343.6,1199.9 1345.6,1200.7 1347.6,1201.5 1349.6,1202.2 1351.6,1203.1 1353.6,1204.0 1355.6,1204.9 1357.6,1205.8 1359.6,1206.7 1361.6,1207.7 1363.6,1208.6 1365.6,1209.4 1367.6,1210.2 1369.6,1211.0 1371.6,1211.7 1373.6,1212.4 1375.6,1213.1 1377.6,1213.9 1379.6,1214.6 1381.6,1215.2 1383.6,1215.9 1385.6,1216.4 1387.6,1216.9 1389.6,1217.2 1391.6,1217.5 1393.6,1217.6 1395.6,1217.7 1397.6,1217.8 1399.6,1217.9 1401.6,1217.9 1403.6,1218.0 1405.6,1218.1 1407.6,1218.1 1409.6,1218.1 1411.6,1218.2 1413.6,1218.2 1415.6,1218.2 1417.6,1218.1 1419.6,1217.8 1421.6,1217.4 1423.6,1217.0 1425.6,1216.4 1427.6,1215.7 1429.6,1215.0 1431.6,1214.3 1433.6,1213.3 1435.6,1212.0 1437.6,1210.4 1439.6,1208.5 1441.6,1206.3 1443.6,1204.0 1445.6,1201.5 1447.7,1198.3 1449.7,1194.6 1451.7,1190.3 1453.7,1185.6 1455.7,1180.5 1457.7,1175.0 1459.7,1168.6 1461.7,1161.1 1463.7,1152.8 1465.7,1143.9 1467.7,1134.5 1469.7,1124.5 1471.7,1113.7 1473.7,1102.1 1475.7,1089.8 1477.7,1076.8 1479.7,1061.9 1481.7,1046.2 1483.7,1031.4 1485.7,1018.3 1487.7,1005.2 1489.7,989.2 1491.7,970.7 1493.7,952.5 1495.7,935.0 1497.7,917.9 1499.7,901.5 1501.7,885.4 1503.7,869.8 1505.7,855.7 1507.7,843.5 1509.7,832.0 1511.7,822.9 1513.7,817.7 1515.7,813.5 1517.7,810.1 1519.7,807.8 1521.7,806.8 1523.7,808.8 1525.7,814.1 1527.7,821.4 1529.7,829.3 1531.7,840.3 1533.7,853.4 1535.7,866.8 1537.7,880.4 1539.7,894.6 1541.7,908.9 1543.7,923.2 1545.7,937.7 1547.7,951.4 1549.7,963.5 1551.7,974.1 1553.7,984.3 1555.7,995.0 1557.7,1007.3 1559.7,1021.3 1561.7,1034.0 1563.7,1044.8 1565.7,1054.7 1567.7,1063.9 1569.7,1072.8 1571.7,1081.4 1573.7,1089.5 1575.7,1097.1 1577.7,1104.0 1579.7,1110.4 1581.7,1116.4 1583.7,1122.1 1585.7,1127.4 1587.7,1132.5 1589.7,1137.4 1591.7,1142.1 1593.7,1146.6 1595.7,1151.0 1597.7,1155.2 1599.7,1159.3 1601.7,1163.1 1603.7,1166.8 1605.7,1170.2 1607.7,1173.4 1609.7,1176.4 1611.7,1179.2 1613.7,1181.9 1615.7,1184.4 1617.7,1186.9 1619.7,1189.3 1621.7,1191.7 1623.7,1194.1 1625.7,1196.5 1627.7,1198.9 1629.7,1201.5 1631.7,1204.0 1633.7,1206.6 1635.7,1209.2 1637.7,1211.7 1639.7,1214.3 1641.7,1216.9 1643.7,1219.4 1645.7,1222.0 1647.7,1224.6 1649.7,1227.2 1651.7,1229.7 1653.7,1232.3 1655.7,1234.9 1657.7,1237.5 1659.7,1240.1 1661.7,1242.7 1663.7,1245.4 1665.7,1248.1 1667.7,1250.9 1669.7,1253.6 1671.7,1256.3 1673.7,1258.9 1675.7,1261.4 1677.7,1263.8 1679.7,1266.0 1681.8,1268.1 1683.8,1270.1 1685.8,1272.1 1687.8,1274.0 1689.8,1275.8 1691.8,1277.6 1693.8,1279.2 1695.8,1280.8 1697.8,1282.4 1699.8,1283.8 1701.8,1285.2 1703.8,1286.6 1705.8,1287.9 1707.8,1289.1 1709.8,1290.3 1711.8,1291.5 1713.8,1292.6 1715.8,1293.6 1717.8,1294.6 1719.8,1295.6 1721.8,1296.5 1723.8,1297.4 1725.8,1298.2 1727.8,1299.0 1729.8,1299.8 1731.8,1300.5 1733.8,1301.3 1735.8,1302.0 1737.8,1302.7 1739.8,1303.4 1741.8,1304.0 1743.8,1304.7 1745.8,1305.3 1747.8,1305.9 1749.8,1306.5 1751.8,1307.1 1753.8,1307.7 1755.8,1308.2 1757.8,1308.7 1759.8,1309.1 1761.8,1309.6 1763.8,1310.0 1765.8,1310.4 1767.8,1310.7 1769.8,1311.1 1771.8,1311.5 1773.8,1311.9 1775.8,1312.3 1777.8,1312.7 1779.8,1313.1 1781.8,1313.5 1783.8,1313.9 1785.8,1314.3 1787.8,1314.7 1789.8,1315.1 1791.8,1315.5 1793.8,1315.9 1795.8,1316.3 1797.8,1316.7 1799.8,1317.1 1801.8,1317.5 1803.8,1317.9 1805.8,1318.3 1807.8,1318.7 1809.8,1319.1 1811.8,1319.5 1813.8,1319.9 1815.8,1320.3 1817.8,1320.6 1819.8,1321.0 1821.8,1321.4 1823.8,1321.7 1825.8,1322.1 1827.8,1322.5 1829.8,1322.8 1831.8,1323.2 1833.8,1323.5 1835.8,1323.9 1837.8,1324.2 1839.8,1324.6 1841.8,1324.9 1843.8,1325.3 1845.8,1325.6 1847.8,1325.9 1849.8,1326.3 1851.8,1326.6 1853.8,1326.9 1855.8,1327.2 1857.8,1327.6 1859.8,1327.9 1861.8,1328.2 1863.8,1328.5 1865.8,1328.8 1867.8,1329.1 1869.8,1329.5 1871.8,1329.8 1873.8,1330.1 1875.8,1330.4 1877.8,1330.7 1879.8,1331.0 1881.8,1331.2 1883.8,1331.5 1885.8,1331.8 1887.8,1332.1 1889.8,1332.4 1891.8,1332.7 1893.8,1332.9 1895.8,1333.2 1897.8,1333.5 1899.8,1333.7 1901.8,1334.0 1903.8,1334.2 1905.8,1334.5 1907.8,1334.7 1909.8,1335.0 1911.8,1335.2 1913.9,1335.4 1915.9,1335.7 1917.9,1335.9 1919.9,1336.2 1921.9,1336.4 1923.9,1336.7 1925.9,1336.9 1927.9,1337.2 1929.9,1337.4 1931.9,1337.7 1933.9,1338.0 1935.9,1338.2 1937.9,1338.5 1939.9,1338.8 1941.9,1339.1 1943.9,1339.4 1945.9,1339.7 1947.9,1340.0 1949.9,1340.3 1951.9,1340.6 1953.9,1340.9 1955.9,1341.2 1957.9,1341.4 1959.9,1341.7 1961.9,1341.9 1963.9,1342.2 1965.9,1342.4 1967.9,1342.6 1969.9,1342.9 1971.9,1343.1 1973.9,1343.4 1975.9,1343.6 1977.9,1343.8 1979.9,1344.1 1981.9,1344.3 1983.9,1344.5 1985.9,1344.8 1987.9,1345.0 1989.9,1345.2 1991.9,1345.5 1993.9,1345.7 1995.9,1345.9 1997.9,1346.2 1999.9,1346.4 2001.9,1346.6 2003.9,1346.8 2005.9,1347.0 2007.9,1347.2 2009.9,1347.5 2011.9,1347.7 2013.9,1347.9 2015.9,1348.1 2017.9,1348.3 2019.9,1348.4 2021.9,1348.6 2023.9,1348.8 2025.9,1349.0 2027.9,1349.1 2029.9,1349.3 2031.9,1349.5 2033.9,1349.6 2035.9,1349.8 2037.9,1349.9 2039.9,1350.1 2041.9,1350.2 2043.9,1350.3 2045.9,1350.4 2047.9,1350.5 2049.9,1350.6 2051.9,1350.7 2053.9,1350.8 2055.9,1350.9 2057.9,1351.0 2059.9,1351.1 2061.9,1351.1 2063.9,1351.2 2065.9,1351.3 2067.9,1351.3 2069.9,1351.4 2071.9,1351.5 2073.9,1351.5 2075.9,1351.6 2077.9,1351.7 2079.9,1351.7 2081.9,1351.8 2083.9,1351.8 2085.9,1351.9 2087.9,1352.0 2089.9,1352.0 2091.9,1352.0 2093.9,1352.1 2095.9,1352.1 2097.9,1352.2 2099.9,1352.2 2101.9,1352.2 2103.9,1352.2 2105.9,1352.3 2107.9,1352.3 2109.9,1352.3 2111.9,1352.3" fill="none" stroke="#00ffff" stroke-width="7" stroke-linejoin="round" stroke-linecap="butt"/>
<polyline points="255.0,-1444.3 256.9,398.5 258.7,-1444.3 260.6,422.0 262.4,-1444.3 264.3,401.9 266.1,-1444.3 268.0,406.5 269.9,-1444.3 271.7,386.7 273.6,362.2 275.4,393.0 277.3,408.0 279.1,413.9 281.0,-1444.3 282.9,397.1 284.7,398.9 286.6,413.6 288.4,394.5 290.3,413.6 292.1,379.5 294.0,380.3 295.9,379.9 297.7,403.4 299.6,388.5 301.4,398.3 303.3,-1444.3 305.1,402.1 307.0,401.4 308.9,415.8 310.7,418.0 312.6,384.3 314.4,399.1 316.3,393.0 318.1,-1444.3 320.0,381.2 321.9,-1444.3 323.7,422.4 325.6,-1444.3 327.4,408.1 329.3,393.6 331.1,390.4 333.0,401.9 334.9,380.8 336.7,393.1 338.6,414.5 340.4,-1444.3 342.3,410.3 344.1,-1444.3 346.0,384.1 347.9,-1444.3 349.7,389.3 351.6,-1444.3 353.4,424.9 355.3,-1444.3 357.1,376.0 359.0,-1444.3 360.8,387.3 362.7,-1444.3 364.6,376.0 366.4,-1444.3 368.3,402.0 370.1,-1444.3 372.0,400.7 373.8,-1444.3 375.7,413.2 377.6,-1444.3 379.4,358.0 381.3,398.9 383.1,402.6 386.8,446.3 390.6,364.0 394.3,490.5 398.0,503.9 401.7,469.5 405.4,456.7 409.1,480.9 412.8,487.7 416.6,459.0 420.3,504.4 424.0,478.3 427.7,433.2 431.4,413.8 435.1,447.5 438.8,482.0 442.6,-1229.0 446.3,460.9 450.0,462.7 453.7,323.1 457.4,-1229.0 461.1,440.3 464.8,514.5 468.6,426.9 472.3,493.1 476.0,494.5 479.7,484.9 483.4,327.4 487.1,447.8 490.8,497.5 494.6,405.0 498.3,453.9 502.0,456.5 505.7,403.9 509.4,508.5 513.1,501.9 516.8,437.1 520.6,503.9 524.3,420.1 528.0,446.3 531.7,431.0 535.4,288.6 539.1,519.0 542.8,438.0 546.5,489.0 550.3,474.8 554.0,465.6 557.7,496.9 561.4,464.3 565.1,406.9 568.8,486.3 572.5,481.6 576.3,465.1 580.0,445.1 583.7,455.9 587.4,485.4 591.1,470.7 594.8,456.6 598.5,504.7 602.3,364.0 606.0,472.6 609.7,461.1 613.4,468.6 617.1,299.4 620.8,472.1 624.5,461.3 628.3,457.0 632.0,468.4 635.7,447.6 639.4,450.4 643.1,455.8 646.8,484.1 650.5,445.2 654.3,510.4 658.0,448.3 661.7,434.2 665.4,511.6 669.1,469.1 672.8,453.4 676.5,503.9 680.3,426.5 684.0,456.7 687.7,416.9 691.4,472.3 695.1,486.0 698.8,453.2 702.5,540.5 706.3,466.4 710.0,446.7 713.7,452.1 717.4,452.8 721.1,512.8 724.8,464.7 728.5,513.9 732.2,480.5 736.0,530.0 739.7,434.7 743.4,479.5 747.1,438.3 750.8,394.1 754.5,439.9 758.2,425.9 762.0,450.7 765.7,475.8 769.4,431.9 773.1,463.7 776.8,549.1 780.5,426.4 784.2,426.4 788.0,461.3 791.7,422.9 795.4,481.0 799.1,456.5 802.8,450.1 811.0,457.8 813.0,487.1 815.0,507.2 817.0,509.7 819.0,509.7 821.0,509.7 823.0,509.7 825.0,519.9 827.0,556.7 829.1,566.3 831.1,571.8 833.1,577.0 835.1,581.0 837.1,585.4 839.1,593.5 841.1,617.0 843.1,632.3 845.1,641.9 847.1,650.6 849.1,660.3 851.1,669.8 853.1,678.2 855.1,684.9 857.1,690.7 859.1,696.0 861.1,700.8 863.1,705.5 865.1,710.1 867.1,714.8 869.1,719.2 871.1,722.9 873.1,725.6 875.1,727.3 877.1,728.6 879.1,729.7 881.1,730.9 883.1,732.3 885.1,734.1 887.1,736.1 889.1,738.2 891.1,740.3 893.1,742.4 895.1,744.3 897.1,746.1 899.1,747.9 901.1,749.9 903.1,751.9 905.1,754.3 907.1,756.9 909.1,759.9 911.1,763.1 913.1,766.7 915.1,770.5 917.1,774.5 919.1,778.8 921.1,783.5 923.1,788.8 925.1,794.4 927.1,800.3 929.1,806.2 931.1,812.1 933.1,817.9 935.1,823.9 937.1,830.0 939.1,836.1 941.1,842.2 943.1,848.2 945.1,854.0 947.1,859.7 949.1,865.4 951.1,871.0 953.1,876.5 955.1,881.9 957.1,887.0 959.1,891.9 961.1,896.7 963.1,901.4 965.1,905.9 967.1,910.3 969.1,914.5 971.1,918.4 973.2,922.2 975.2,925.9 977.2,929.4 979.2,932.8 981.2,936.1 983.2,939.4 985.2,942.6 987.2,945.9 989.2,949.2 991.2,952.3 993.2,955.2 995.2,957.9 997.2,960.2 999.2,962.2 1001.2,964.2 1003.2,966.0 1005.2,967.7 1007.2,969.2 1009.2,970.6 1011.2,971.9 1013.2,973.3 1015.2,974.6 1017.2,975.7 1019.2,976.6 1021.2,977.2 1023.2,977.3 1025.2,977.1 1027.2,976.7 1029.2,976.2 1031.2,975.6 1033.2,974.9 1035.2,974.1 1037.2,973.2 1039.2,971.9 1041.2,970.4 1043.2,968.7 1045.2,966.9 1047.2,965.3 1049.2,963.7 1051.2,962.1 1053.2,960.4 1055.2,958.7 1057.2,957.2 1059.2,955.8 1061.2,954.7 1063.2,953.7 1065.2,952.7 1067.2,951.8 1069.2,951.0 1071.2,950.2 1073.2,949.6 1075.2,949.2 1077.2,949.0 1079.2,949.1 1081.2,949.3 1083.2,949.6 1085.2,950.1 1087.2,950.6 1089.2,951.3 1091.2,952.0 1093.2,952.7 1095.2,953.5 1097.2,954.6 1099.2,955.9 1101.2,957.5 1103.2,959.2 1105.2,961.1 1107.2,963.0 1109.2,965.3 1111.2,967.9 1113.2,970.8 1115.2,973.8 1117.2,976.8 1119.3,979.7 1121.3,982.4 1123.3,985.1 1125.3,987.9 1127.3,990.6 1129.3,993.3 1131.3,996.0 1133.3,998.5 1135.3,1000.9 1137.3,1003.3 1139.3,1005.6 1141.3,1007.8 1143.3,1010.0 1145.3,1012.2 1147.3,1014.3 1149.3,1016.4 1151.3,1018.5 1153.3,1020.7 1155.3,1022.7 1157.3,1024.8 1159.3,1026.8 1161.3,1028.8 1163.3,1030.7 1165.3,1032.4 1167.3,1034.1 1169.3,1035.8 1171.3,1037.3 1173.3,1038.9 1175.3,1040.3 1177.3,1041.8 1179.3,1043.2 1181.3,1044.6 1183.3,1046.0 1185.3,1047.4 1187.3,1048.8 1189.3,1050.1 1191.3,1051.3 1193.3,1052.5 1195.3,1053.8 1197.3,1055.0 1199.3,1056.2 1201.3,1057.5 1203.3,1058.8 1205.3,1060.1 1207.3,1061.5 1209.3,1063.0 1211.3,1064.4 1213.3,1065.9 1215.3,1067.4 1217.3,1069.0 1219.3,1070.6 1221.3,1072.3 1223.3,1074.2 1225.3,1076.1 1227.3,1078.3 1229.3,1080.7 1231.3,1083.5 1233.3,1086.5 1235.3,1089.7 1237.3,1093.0 1239.3,1096.3 1241.3,1099.7 1243.3,1103.4 1245.3,1107.3 1247.3,1111.2 1249.3,1114.9 1251.3,1118.0 1253.3,1120.5 1255.3,1122.7 1257.3,1124.9 1259.3,1126.8 1261.3,1128.7 1263.4,1130.3 1265.4,1131.6 1267.4,1132.5 1269.4,1133.1 1271.4,1133.5 1273.4,1133.9 1275.4,1134.2 1277.4,1134.5 1279.4,1134.6 1281.4,1134.7 1283.4,1134.7 1285.4,1134.4 1287.4,1133.9 1289.4,1133.2 1291.4,1132.5 1293.4,1131.7 1295.4,1130.9 1297.4,1130.2 1299.4,1129.6 1301.4,1129.0 1303.4,1128.3 1305.4,1127.5 1307.4,1126.8 1309.4,1126.1 1311.4,1125.3 1313.4,1124.6 1315.4,1124.0 1317.4,1123.4 1319.4,1122.9 1321.4,1122.4 1323.4,1122.1 1325.4,1121.8 1327.4,1121.8 1329.4,1121.8 1331.4,1122.0 1333.4,1122.4 1335.4,1122.9 1337.4,1123.6 1339.4,1124.3 1341.4,1125.1 1343.4,1126.0 1345.4,1127.0 1347.4,1128.0 1349.4,1129.1 1351.4,1130.2 1353.4,1131.3 1355.4,1132.3 1357.4,1133.4 1359.4,1134.6 1361.4,1136.1 1363.4,1137.6 1365.4,1139.3 1367.4,1141.0 1369.4,1142.7 1371.4,1144.3 1373.4,1145.8 1375.4,1147.2 1377.4,1148.3 1379.4,1149.5 1381.4,1150.6 1383.4,1151.6 1385.4,1152.6 1387.4,1153.5 1389.4,1154.3 1391.4,1154.9 1393.4,1155.4 1395.4,1155.8 1397.4,1156.2 1399.4,1156.6 1401.4,1156.9 1403.4,1157.1 1405.4,1157.3 1407.4,1157.4 1409.5,1157.5 1411.5,1157.4 1413.5,1157.4 1415.5,1157.4 1417.5,1157.3 1419.5,1157.2 1421.5,1157.1 1423.5,1156.9 1425.5,1156.8 1427.5,1156.4 1429.5,1155.8 1431.5,1155.0 1433.5,1153.9 1435.5,1152.7 1437.5,1151.4 1439.5,1149.8 1441.5,1147.5 1443.5,1144.6 1445.5,1141.2 1447.5,1137.4 1449.5,1133.3 1451.5,1128.9 1453.5,1123.7 1455.5,1117.7 1457.5,1110.7 1459.5,1102.9 1461.5,1094.1 1463.5,1083.2 1465.5,1070.6 1467.5,1056.9 1469.5,1040.5 1471.5,1024.0 1473.5,1012.0 1475.5,1001.4 1477.5,985.1 1479.5,964.3 1481.5,943.2 1483.5,925.3 1485.5,909.9 1487.5,895.5 1489.5,881.0 1491.5,865.0 1493.5,846.4 1495.5,823.8 1497.5,798.8 1499.5,773.8 1501.5,749.0 1503.5,724.5 1505.5,703.9 1507.5,686.3 1509.5,670.1 1511.5,654.0 1513.5,641.0 1515.5,630.3 1517.5,625.9 1519.5,624.4 1521.5,623.7 1523.5,624.3 1525.5,627.7 1527.5,633.9 1529.5,647.0 1531.5,660.2 1533.5,673.6 1535.5,687.1 1537.5,700.6 1539.5,713.9 1541.5,726.8 1543.5,739.6 1545.5,757.7 1547.5,781.7 1549.5,804.8 1551.5,822.0 1553.6,836.5 1555.6,850.7 1557.6,865.6 1559.6,880.5 1561.6,894.8 1563.6,908.3 1565.6,921.2 1567.6,933.5 1569.6,945.4 1571.6,956.9 1573.6,967.9 1575.6,977.3 1577.6,985.3 1579.6,992.7 1581.6,999.7 1583.6,1006.4 1585.6,1012.9 1587.6,1019.4 1589.6,1026.1 1591.6,1032.8 1593.6,1039.3 1595.6,1045.1 1597.6,1050.3 1599.6,1055.1 1601.6,1059.6 1603.6,1064.1 1605.6,1068.6 1607.6,1073.4 1609.6,1078.2 1611.6,1083.1 1613.6,1088.0 1615.6,1092.9 1617.6,1097.9 1619.6,1103.0 1621.6,1108.2 1623.6,1113.3 1625.6,1118.3 1627.6,1122.9 1629.6,1127.1 1631.6,1131.1 1633.6,1134.8 1635.6,1138.5 1637.6,1142.2 1639.6,1146.1 1641.6,1150.1 1643.6,1154.5 1645.6,1159.1 1647.6,1163.9 1649.6,1168.8 1651.6,1173.7 1653.6,1178.4 1655.6,1183.0 1657.6,1187.2 1659.6,1191.0 1661.6,1194.4 1663.6,1197.7 1665.6,1200.7 1667.6,1203.6 1669.6,1206.4 1671.6,1209.1 1673.6,1211.7 1675.6,1214.2 1677.6,1216.7 1679.6,1219.2 1681.6,1221.6 1683.6,1224.0 1685.6,1226.3 1687.6,1228.6 1689.6,1230.8 1691.6,1233.0 1693.6,1235.1 1695.6,1237.1 1697.6,1239.1 1699.7,1241.1 1701.7,1242.9 1703.7,1244.8 1705.7,1246.6 1707.7,1248.4 1709.7,1250.1 1711.7,1251.8 1713.7,1253.4 1715.7,1254.9 1717.7,1256.4 1719.7,1257.8 1721.7,1259.1 1723.7,1260.4 1725.7,1261.7 1727.7,1262.9 1729.7,1264.0 1731.7,1265.2 1733.7,1266.3 1735.7,1267.4 1737.7,1268.5 1739.7,1269.6 1741.7,1270.7 1743.7,1271.7 1745.7,1272.8 1747.7,1273.8 1749.7,1274.8 1751.7,1275.7 1753.7,1276.7 1755.7,1277.6 1757.7,1278.5 1759.7,1279.4 1761.7,1280.2 1763.7,1281.1 1765.7,1281.9 1767.7,1282.7 1769.7,1283.4 1771.7,1284.2 1773.7,1285.0 1775.7,1285.7 1777.7,1286.5 1779.7,1287.2 1781.7,1288.0 1783.7,1288.7 1785.7,1289.5 1787.7,1290.2 1789.7,1291.0 1791.7,1291.7 1793.7,1292.4 1795.7,1293.2 1797.7,1293.9 1799.7,1294.6 1801.7,1295.3 1803.7,1296.0 1805.7,1296.6 1807.7,1297.3 1809.7,1297.9 1811.7,1298.6 1813.7,1299.2 1815.7,1299.8 1817.7,1300.4 1819.7,1300.9 1821.7,1301.5 1823.7,1302.0 1825.7,1302.5 1827.7,1303.1 1829.7,1303.6 1831.7,1304.1 1833.7,1304.6 1835.7,1305.0 1837.7,1305.5 1839.7,1306.0 1841.7,1306.5 1843.8,1307.0 1845.8,1307.4 1847.8,1307.9 1849.8,1308.4 1851.8,1308.8 1853.8,1309.3 1855.8,1309.8 1857.8,1310.3 1859.8,1310.7 1861.8,1311.2 1863.8,1311.7 1865.8,1312.1 1867.8,1312.6 1869.8,1313.1 1871.8,1313.5 1873.8,1314.0 1875.8,1314.5 1877.8,1314.9 1879.8,1315.4 1881.8,1315.8 1883.8,1316.2 1885.8,1316.7 1887.8,1317.1 1889.8,1317.5 1891.8,1317.9 1893.8,1318.3 1895.8,1318.7 1897.8,1319.1 1899.8,1319.5 1901.8,1319.8 1903.8,1320.2 1905.8,1320.5 1907.8,1320.9 1909.8,1321.2 1911.8,1321.6 1913.8,1321.9 1915.8,1322.3 1917.8,1322.6 1919.8,1322.9 1921.8,1323.3 1923.8,1323.6 1925.8,1323.9 1927.8,1324.3 1929.8,1324.6 1931.8,1325.0 1933.8,1325.3 1935.8,1325.7 1937.8,1326.0 1939.8,1326.4 1941.8,1326.8 1943.8,1327.1 1945.8,1327.5 1947.8,1327.8 1949.8,1328.2 1951.8,1328.6 1953.8,1328.9 1955.8,1329.3 1957.8,1329.6 1959.8,1330.0 1961.8,1330.3 1963.8,1330.7 1965.8,1331.1 1967.8,1331.4 1969.8,1331.8 1971.8,1332.2 1973.8,1332.5 1975.8,1332.9 1977.8,1333.3 1979.8,1333.7 1981.8,1334.0 1983.8,1334.4 1985.8,1334.8 1987.8,1335.2 1989.9,1335.6 1991.9,1335.9 1993.9,1336.3 1995.9,1336.7 1997.9,1337.1 1999.9,1337.5 2001.9,1337.8 2003.9,1338.2 2005.9,1338.6 2007.9,1339.0 2009.9,1339.3 2011.9,1339.7 2013.9,1340.1 2015.9,1340.4 2017.9,1340.8 2019.9,1341.2 2021.9,1341.5 2023.9,1341.9 2025.9,1342.2 2027.9,1342.5 2029.9,1342.9 2031.9,1343.2 2033.9,1343.5 2035.9,1343.9 2037.9,1344.2 2039.9,1344.5 2041.9,1344.8 2043.9,1345.1 2045.9,1345.4 2047.9,1345.7 2049.9,1345.9 2051.9,1346.2 2053.9,1346.5 2055.9,1346.7 2057.9,1347.0 2059.9,1347.2 2061.9,1347.5 2063.9,1347.7 2065.9,1347.9 2067.9,1348.2 2069.9,1348.4 2071.9,1348.6 2073.9,1348.8 2075.9,1349.0 2077.9,1349.3 2079.9,1349.5 2081.9,1349.7 2083.9,1349.9 2085.9,1350.1 2087.9,1350.3 2089.9,1350.5 2091.9,1350.6 2093.9,1350.8 2095.9,1351.0 2097.9,1351.2 2099.9,1351.3 2101.9,1351.5 2103.9,1351.7 2105.9,1351.8 2107.9,1352.0 2109.9,1352.1 2111.9,1352.3" fill="none" stroke="#ff00ff" stroke-width="7" stroke-linejoin="round" stroke-linecap="butt"/>
<polyline points="255.0,388.2 258.7,493.1 262.4,361.4 266.1,310.2 269.9,429.8 273.6,280.0 277.3,404.9 281.0,371.0 284.7,414.4 288.4,307.9 292.1,406.7 295.9,353.9 299.6,445.8 303.3,385.9 307.0,456.1 310.7,378.8 314.4,414.2 318.1,385.1 321.9,383.5 325.6,159.5 329.3,369.6 333.0,434.6 336.7,411.9 340.4,458.6 344.1,181.0 347.9,375.2 351.6,363.1 355.3,415.9 359.0,361.7 362.7,381.3 366.4,322.5 370.1,310.2 373.8,478.7 377.6,413.8 381.3,382.7 385.0,469.2 388.7,434.9 392.4,429.8 396.1,-2090.1 399.8,390.1 403.6,338.6 407.3,468.0 411.0,135.8 414.7,387.9 418.4,384.0 422.1,329.5 425.8,424.2 429.6,427.0 433.3,-2090.1 437.0,325.7 440.7,359.0 444.4,424.5 448.1,340.3 451.8,425.7 455.6,431.4 459.3,452.4 463.0,332.9 466.7,-2090.1 470.4,379.9 474.1,415.8 477.8,407.3 481.6,354.7 485.3,410.6 489.0,-2090.1 492.7,438.8 496.4,389.5 500.1,352.7 503.8,301.5 507.6,439.9 511.3,178.8 515.0,419.5 518.7,444.0 522.4,399.6 526.1,418.3 529.8,444.4 533.5,312.3 537.3,433.9 541.0,414.2 544.7,427.0 548.4,421.3 552.1,400.5 555.8,359.7 559.5,487.6 563.3,450.0 567.0,469.1 570.7,428.1 574.4,494.9 578.1,439.8 581.8,435.1 585.5,420.1 589.3,435.9 593.0,354.3 596.7,451.0 600.4,408.9 604.1,460.7 607.8,466.3 611.5,438.4 615.3,487.0 619.0,439.9 622.7,497.1 626.4,415.9 630.1,439.9 633.8,421.2 637.5,368.3 641.3,399.9 645.0,406.3 648.7,412.1 652.4,426.1 656.1,418.8 659.8,447.4 663.5,405.4 667.3,331.7 671.0,447.1 674.7,404.4 678.4,344.6 682.1,399.6 685.8,422.6 689.5,425.6 693.3,477.5 697.0,427.5 700.7,460.4 704.4,346.8 708.1,440.7 711.8,439.5 715.5,475.3 719.2,414.9 723.0,429.4 726.7,385.7 730.4,379.9 734.1,420.4 737.8,424.4 741.5,473.4 745.2,429.4 749.0,429.4 752.7,425.3 756.4,434.9 760.1,381.2 763.8,404.5 767.5,434.2 771.2,401.7 775.0,458.4 781.8,426.9 783.8,437.8 785.8,447.5 787.8,456.0 789.8,463.7 791.8,471.5 793.8,476.5 795.8,476.0 797.8,468.5 799.8,460.3 801.8,458.7 803.8,474.8 805.8,499.9 807.8,519.8 809.8,531.1 811.8,540.4 813.8,549.7 815.9,560.0 817.9,570.5 819.9,581.9 821.9,595.6 823.9,612.6 825.9,626.1 827.9,634.1 829.9,640.3 831.9,647.7 833.9,660.0 835.9,677.5 837.9,693.1 839.9,706.1 841.9,718.0 843.9,728.8 845.9,738.7 847.9,748.0 849.9,756.6 851.9,764.2 853.9,771.0 855.9,777.5 857.9,783.6 859.9,789.1 861.9,793.9 863.9,798.1 865.9,801.8 867.9,805.2 869.9,808.4 871.9,811.2 873.9,813.8 875.9,816.1 877.9,818.1 879.9,819.9 881.9,821.5 883.9,823.0 885.9,824.4 887.9,825.8 889.9,827.3 891.9,829.0 893.9,830.7 895.9,832.5 897.9,834.2 899.9,836.1 901.9,838.2 903.9,840.4 905.9,843.0 907.9,846.1 909.9,849.7 911.9,853.8 913.9,858.1 915.9,862.6 917.9,867.1 919.9,871.6 922.0,876.4 924.0,881.4 926.0,886.6 928.0,891.8 930.0,896.9 932.0,902.0 934.0,907.0 936.0,912.1 938.0,917.2 940.0,922.2 942.0,927.2 944.0,932.1 946.0,936.8 948.0,941.5 950.0,946.1 952.0,950.6 954.0,955.0 956.0,959.4 958.0,963.6 960.0,967.8 962.0,972.0 964.0,976.0 966.0,979.8 968.0,983.4 970.0,986.9 972.0,990.3 974.0,993.5 976.0,996.5 978.0,999.2 980.0,1001.6 982.0,1003.8 984.0,1005.8 986.0,1007.7 988.0,1009.5 990.0,1011.4 992.0,1013.4 994.0,1015.5 996.0,1017.5 998.0,1019.2 1000.0,1020.2 1002.0,1021.0 1004.0,1021.7 1006.0,1022.3 1008.0,1022.8 1010.0,1023.2 1012.0,1023.4 1014.0,1023.3 1016.0,1023.1 1018.0,1022.7 1020.0,1022.2 1022.0,1021.5 1024.0,1020.8 1026.0,1020.0 1028.1,1018.9 1030.1,1017.4 1032.1,1015.6 1034.1,1013.5 1036.1,1011.3 1038.1,1008.9 1040.1,1006.3 1042.1,1003.1 1044.1,999.4 1046.1,995.4 1048.1,991.3 1050.1,987.2 1052.1,983.5 1054.1,980.1 1056.1,977.3 1058.1,974.5 1060.1,971.7 1062.1,969.1 1064.1,966.9 1066.1,965.2 1068.1,964.2 1070.1,963.6 1072.1,963.0 1074.1,962.4 1076.1,961.9 1078.1,961.6 1080.1,961.3 1082.1,961.1 1084.1,961.0 1086.1,961.3 1088.1,961.9 1090.1,962.9 1092.1,964.2 1094.1,965.7 1096.1,967.3 1098.1,968.9 1100.1,970.6 1102.1,972.3 1104.1,974.2 1106.1,976.4 1108.1,978.7 1110.1,981.2 1112.1,983.8 1114.1,986.4 1116.1,989.2 1118.1,992.3 1120.1,995.4 1122.1,998.5 1124.1,1001.6 1126.1,1004.7 1128.1,1007.8 1130.1,1010.9 1132.1,1014.0 1134.2,1016.9 1136.2,1019.5 1138.2,1022.1 1140.2,1024.5 1142.2,1026.8 1144.2,1029.1 1146.2,1031.3 1148.2,1033.4 1150.2,1035.3 1152.2,1037.2 1154.2,1038.9 1156.2,1040.6 1158.2,1042.3 1160.2,1043.8 1162.2,1045.3 1164.2,1046.8 1166.2,1048.2 1168.2,1049.5 1170.2,1050.9 1172.2,1052.2 1174.2,1053.4 1176.2,1054.6 1178.2,1055.8 1180.2,1056.9 1182.2,1058.0 1184.2,1059.1 1186.2,1060.2 1188.2,1061.3 1190.2,1062.4 1192.2,1063.5 1194.2,1064.7 1196.2,1066.0 1198.2,1067.2 1200.2,1068.4 1202.2,1069.7 1204.2,1070.9 1206.2,1072.2 1208.2,1073.6 1210.2,1075.0 1212.2,1076.5 1214.2,1078.1 1216.2,1079.7 1218.2,1081.5 1220.2,1083.3 1222.2,1085.2 1224.2,1087.2 1226.2,1089.4 1228.2,1091.7 1230.2,1094.1 1232.2,1097.0 1234.2,1100.3 1236.2,1103.9 1238.2,1107.5 1240.3,1110.8 1242.3,1114.1 1244.3,1117.5 1246.3,1120.8 1248.3,1124.0 1250.3,1126.8 1252.3,1129.2 1254.3,1131.1 1256.3,1132.9 1258.3,1134.7 1260.3,1136.3 1262.3,1137.8 1264.3,1139.0 1266.3,1139.9 1268.3,1140.5 1270.3,1140.7 1272.3,1140.8 1274.3,1141.0 1276.3,1141.1 1278.3,1141.2 1280.3,1141.2 1282.3,1141.2 1284.3,1141.0 1286.3,1140.4 1288.3,1139.4 1290.3,1138.3 1292.3,1137.0 1294.3,1135.7 1296.3,1134.4 1298.3,1133.2 1300.3,1132.0 1302.3,1130.8 1304.3,1129.4 1306.3,1128.1 1308.3,1126.8 1310.3,1125.6 1312.3,1124.5 1314.3,1123.5 1316.3,1122.7 1318.3,1121.9 1320.3,1121.1 1322.3,1120.4 1324.3,1119.9 1326.3,1119.5 1328.3,1119.5 1330.3,1119.6 1332.3,1119.9 1334.3,1120.2 1336.3,1120.6 1338.3,1121.1 1340.3,1121.7 1342.3,1122.4 1344.3,1123.4 1346.4,1124.6 1348.4,1126.1 1350.4,1127.7 1352.4,1129.4 1354.4,1131.1 1356.4,1132.7 1358.4,1134.3 1360.4,1136.0 1362.4,1137.7 1364.4,1139.5 1366.4,1141.3 1368.4,1143.1 1370.4,1144.9 1372.4,1146.5 1374.4,1148.0 1376.4,1149.4 1378.4,1150.6 1380.4,1151.8 1382.4,1152.9 1384.4,1154.0 1386.4,1155.0 1388.4,1156.0 1390.4,1156.7 1392.4,1157.4 1394.4,1158.0 1396.4,1158.6 1398.4,1159.1 1400.4,1159.6 1402.4,1160.0 1404.4,1160.4 1406.4,1160.6 1408.4,1160.7 1410.4,1160.7 1412.4,1160.6 1414.4,1160.5 1416.4,1160.3 1418.4,1160.1 1420.4,1159.8 1422.4,1159.5 1424.4,1159.2 1426.4,1158.8 1428.4,1158.2 1430.4,1157.4 1432.4,1156.4 1434.4,1155.2 1436.4,1153.8 1438.4,1152.3 1440.4,1150.1 1442.4,1147.0 1444.4,1143.4 1446.4,1139.3 1448.4,1134.9 1450.4,1129.6 1452.5,1123.4 1454.5,1116.4 1456.5,1108.5 1458.5,1099.6 1460.5,1088.4 1462.5,1075.6 1464.5,1061.8 1466.5,1046.1 1468.5,1029.4 1470.5,1013.7 1472.5,997.1 1474.5,978.0 1476.5,957.2 1478.5,935.2 1480.5,911.6 1482.5,886.2 1484.5,860.4 1486.5,835.4 1488.5,810.7 1490.5,785.6 1492.5,759.8 1494.5,733.3 1496.5,706.2 1503.3,624.6 1506.2,591.4 1509.1,564.2 1514.9,563.2 1518.8,546.6 1521.8,530.1 1525.7,546.6 1528.6,570.0 1533.5,581.7 1536.4,605.1 1536.4,605.1 1538.4,626.1 1540.4,645.1 1542.4,661.3 1544.4,676.8 1546.4,694.2 1548.4,712.9 1550.4,732.2 1552.4,752.1 1554.4,772.3 1556.4,792.5 1558.4,812.8 1560.4,833.1 1562.4,852.9 1564.4,871.9 1566.5,890.2 1568.5,907.9 1570.5,924.8 1572.5,940.5 1574.5,956.1 1576.5,973.2 1578.5,993.5 1580.5,1007.7 1582.5,1018.2 1584.5,1027.6 1586.5,1036.4 1588.5,1044.7 1590.5,1052.5 1592.5,1060.0 1594.5,1067.2 1596.5,1074.3 1598.5,1081.1 1600.5,1087.7 1602.6,1094.1 1604.6,1100.3 1606.6,1106.2 1608.6,1112.0 1610.6,1117.6 1612.6,1123.1 1614.6,1128.4 1616.6,1133.6 1618.6,1138.6 1620.6,1143.5 1622.6,1148.2 1624.6,1152.8 1626.6,1157.3 1628.6,1161.8 1630.6,1166.3 1632.6,1170.7 1634.6,1175.1 1636.6,1179.4 1638.7,1183.6 1640.7,1187.8 1642.7,1191.8 1644.7,1195.8 1646.7,1199.6 1648.7,1203.4 1650.7,1207.0 1652.7,1210.5 1654.7,1213.8 1656.7,1217.0 1658.7,1220.0 1660.7,1222.9 1662.7,1225.6 1664.7,1228.2 1666.7,1230.6 1668.7,1233.0 1670.7,1235.3 1672.7,1237.4 1674.7,1239.5 1676.8,1241.6 1678.8,1243.6 1680.8,1245.5 1682.8,1247.5 1684.8,1249.3 1686.8,1251.2 1688.8,1252.9 1690.8,1254.7 1692.8,1256.3 1694.8,1257.9 1696.8,1259.4 1698.8,1260.7 1700.8,1262.1 1702.8,1263.3 1704.8,1264.5 1706.8,1265.7 1708.8,1266.8 1710.8,1267.8 1712.9,1268.9 1714.9,1269.9 1716.9,1270.8 1718.9,1271.8 1720.9,1272.7 1722.9,1273.5 1724.9,1274.3 1726.9,1275.1 1728.9,1275.9 1730.9,1276.6 1732.9,1277.4 1734.9,1278.2 1736.9,1279.0 1738.9,1279.8 1740.9,1280.6 1742.9,1281.4 1744.9,1282.2 1746.9,1283.0 1748.9,1283.8 1751.0,1284.6 1753.0,1285.4 1755.0,1286.2 1757.0,1287.0 1759.0,1287.7 1761.0,1288.5 1763.0,1289.2 1765.0,1289.9 1767.0,1290.6 1769.0,1291.3 1771.0,1292.0 1773.0,1292.7 1775.0,1293.4 1777.0,1294.0 1779.0,1294.7 1781.0,1295.3 1783.0,1295.9 1785.0,1296.6 1787.1,1297.2 1789.1,1297.8 1791.1,1298.5 1793.1,1299.1 1795.1,1299.7 1797.1,1300.3 1799.1,1300.9 1801.1,1301.5 1803.1,1302.1 1805.1,1302.6 1807.1,1303.2 1809.1,1303.8 1811.1,1304.3 1813.1,1304.9 1815.1,1305.5 1817.1,1306.0 1819.1,1306.5 1821.1,1307.1 1823.2,1307.6 1825.2,1308.2 1827.2,1308.7 1829.2,1309.2 1831.2,1309.7 1833.2,1310.2 1835.2,1310.7 1837.2,1311.2 1839.2,1311.7 1841.2,1312.2 1843.2,1312.7 1845.2,1313.2 1847.2,1313.7 1849.2,1314.1 1851.2,1314.6 1853.2,1315.0 1855.2,1315.5 1857.2,1315.9 1859.2,1316.4 1861.3,1316.8 1863.3,1317.2 1865.3,1317.6 1867.3,1318.1 1869.3,1318.5 1871.3,1318.9 1873.3,1319.3 1875.3,1319.7 1877.3,1320.1 1879.3,1320.4 1881.3,1320.8 1883.3,1321.2 1885.3,1321.6 1887.3,1322.0 1889.3,1322.4 1891.3,1322.7 1893.3,1323.1 1895.3,1323.5 1897.4,1323.8 1899.4,1324.2 1901.4,1324.6 1903.4,1324.9 1905.4,1325.3 1907.4,1325.6 1909.4,1326.0 1911.4,1326.3 1913.4,1326.7 1915.4,1327.0 1917.4,1327.4 1919.4,1327.7 1921.4,1328.0 1923.4,1328.4 1925.4,1328.7 1927.4,1329.1 1929.4,1329.4 1931.4,1329.8 1933.5,1330.1 1935.5,1330.5 1937.5,1330.9 1939.5,1331.2 1941.5,1331.6 1943.5,1332.0 1945.5,1332.3 1947.5,1332.7 1949.5,1333.1 1951.5,1333.4 1953.5,1333.8 1955.5,1334.1 1957.5,1334.5 1959.5,1334.8 1961.5,1335.1 1963.5,1335.4 1965.5,1335.8 1967.5,1336.1 1969.5,1336.4 1971.6,1336.7 1973.6,1337.0 1975.6,1337.3 1977.6,1337.6 1979.6,1337.9 1981.6,1338.3 1983.6,1338.6 1985.6,1338.9 1987.6,1339.2 1989.6,1339.5 1991.6,1339.8 1993.6,1340.1 1995.6,1340.4 1997.6,1340.7 1999.6,1341.0 2001.6,1341.3 2003.6,1341.6 2005.6,1341.8 2007.7,1342.1 2009.7,1342.4 2011.7,1342.7 2013.7,1343.0 2015.7,1343.2 2017.7,1343.5 2019.7,1343.8 2021.7,1344.1 2023.7,1344.3 2025.7,1344.6 2027.7,1344.8 2029.7,1345.1 2031.7,1345.3 2033.7,1345.6 2035.7,1345.8 2037.7,1346.0 2039.7,1346.3 2041.7,1346.5 2043.7,1346.7 2045.8,1347.0 2047.8,1347.2 2049.8,1347.4 2051.8,1347.6 2053.8,1347.8 2055.8,1348.0 2057.8,1348.2 2059.8,1348.4 2061.8,1348.6 2063.8,1348.7 2065.8,1348.9 2067.8,1349.1 2069.8,1349.3 2071.8,1349.4 2073.8,1349.6 2075.8,1349.8 2077.8,1349.9 2079.8,1350.1 2081.9,1350.3 2083.9,1350.4 2085.9,1350.6 2087.9,1350.7 2089.9,1350.9 2091.9,1351.0 2093.9,1351.2 2095.9,1351.3 2097.9,1351.4 2099.9,1351.6 2101.9,1351.7 2103.9,1351.8 2105.9,1351.9 2107.9,1352.0 2109.9,1352.2 2111.9,1352.3" fill="none" stroke="#808000" stroke-width="7" stroke-linejoin="round" stroke-linecap="butt"/>
</g>
<text x="1183" y="1580" font-size="83.1" text-anchor="middle">Wavelength (nm)</text>
<text transform="translate(104.5 730) rotate(-90)" font-size="82.5" text-anchor="middle">Absorbance (a.u.)</text>
<g font-size="63" text-anchor="middle">
<text x="1515" y="507.7">643</text>
<text x="638.2" y="813.3">407</text>
<text x="1086.2" y="918.8">525</text>
<text x="1332.5" y="1094">589</text>
</g>
<g font-size="40.5">
<line x1="1628.4" y1="123.6" x2="1738.5" y2="123.6" stroke="#000000" stroke-width="8" stroke-linecap="round"/>
<text x="1750.8" y="138.1" letter-spacing="0">Chl-AllyTEOS-1</text>
<line x1="1628.4" y1="182.1" x2="1738.5" y2="182.1" stroke="#ff0000" stroke-width="8" stroke-linecap="round"/>
<text x="1750.8" y="196.6" letter-spacing="0.33">Chl-AllyTEOS-2</text>
<line x1="1628.4" y1="240.7" x2="1738.5" y2="240.7" stroke="#00ff00" stroke-width="8" stroke-linecap="round"/>
<text x="1750.8" y="255.2" letter-spacing="0.33">Chl-AllyTEOS-3</text>
<line x1="1628.4" y1="299.2" x2="1738.5" y2="299.2" stroke="#0000ff" stroke-width="8" stroke-linecap="round"/>
<text x="1750.8" y="313.8" letter-spacing="0.33">Chl-AllyTEOS-7</text>
<line x1="1628.4" y1="357.8" x2="1738.5" y2="357.8" stroke="#00ffff" stroke-width="8" stroke-linecap="round"/>
<text x="1750.8" y="372.3" letter-spacing="0.36">Chl-AllyTEOS-10</text>
<line x1="1628.4" y1="416.4" x2="1738.5" y2="416.4" stroke="#ff00ff" stroke-width="8" stroke-linecap="round"/>
<text x="1750.8" y="430.9" letter-spacing="0.36">Chl-AllyTEOS-13</text>
<line x1="1628.4" y1="474.9" x2="1738.5" y2="474.9" stroke="#808000" stroke-width="8" stroke-linecap="round"/>
<text x="1750.8" y="489.4" letter-spacing="0.36">Chl-AllyTEOS-15</text>
</g>
<text x="1099.6" y="1692" font-size="86" text-anchor="middle" font-weight="normal" font-family="'Liberation Serif', 'Times New Roman', serif">(a)</text>
</g>
<g id="chart-b">
<g stroke="#000" stroke-width="6" stroke-linecap="round" fill="none">
<rect x="264.4" y="1765.5" width="1856.1999999999998" height="1289.6999999999998" stroke-linecap="butt"/>
<line x1="237.9" y1="3055.2" x2="264.4" y2="3055.2"/>
<line x1="250.8" y1="2926.2" x2="264.4" y2="2926.2"/>
<line x1="237.9" y1="2797.3" x2="264.4" y2="2797.3"/>
<line x1="250.8" y1="2668.3" x2="264.4" y2="2668.3"/>
<line x1="237.9" y1="2539.3" x2="264.4" y2="2539.3"/>
<line x1="250.8" y1="2410.3" x2="264.4" y2="2410.3"/>
<line x1="237.9" y1="2281.4" x2="264.4" y2="2281.4"/>
<line x1="250.8" y1="2152.4" x2="264.4" y2="2152.4"/>
<line x1="237.9" y1="2023.4" x2="264.4" y2="2023.4"/>
<line x1="250.8" y1="1894.5" x2="264.4" y2="1894.5"/>
<line x1="237.9" y1="1765.5" x2="264.4" y2="1765.5"/>
<line x1="264.4" y1="3055.2" x2="264.4" y2="3079.8"/>
<line x1="450.0" y1="3055.2" x2="450.0" y2="3066.8"/>
<line x1="635.6" y1="3055.2" x2="635.6" y2="3079.8"/>
<line x1="821.3" y1="3055.2" x2="821.3" y2="3066.8"/>
<line x1="1006.9" y1="3055.2" x2="1006.9" y2="3079.8"/>
<line x1="1192.5" y1="3055.2" x2="1192.5" y2="3066.8"/>
<line x1="1378.1" y1="3055.2" x2="1378.1" y2="3079.8"/>
<line x1="1563.7" y1="3055.2" x2="1563.7" y2="3066.8"/>
<line x1="1749.4" y1="3055.2" x2="1749.4" y2="3079.8"/>
<line x1="1935.0" y1="3055.2" x2="1935.0" y2="3066.8"/>
<line x1="2120.6" y1="3055.2" x2="2120.6" y2="3079.8"/>
</g>
<g font-size="70.5" fill="#000">
<text x="218" y="3074.2" text-anchor="end">0</text>
<text x="218" y="2816.3" text-anchor="end">1</text>
<text x="218" y="2558.3" text-anchor="end">2</text>
<text x="218" y="2300.4" text-anchor="end">3</text>
<text x="218" y="2042.4" text-anchor="end">4</text>
<text x="218" y="1784.5" text-anchor="end">5</text>
<text x="264.4" y="3151.1" text-anchor="middle">300</text>
<text x="635.6" y="3151.1" text-anchor="middle">400</text>
<text x="1006.9" y="3151.1" text-anchor="middle">500</text>
<text x="1378.1" y="3151.1" text-anchor="middle">600</text>
<text x="1749.4" y="3151.1" text-anchor="middle">700</text>
<text x="2120.6" y="3151.1" text-anchor="middle">800</text>
</g>
<g clip-path="url(#cb)" shape-rendering="crispEdges">
<polyline points="264.9,2981.3 266.9,2981.4 268.9,2981.5 270.9,2981.6 272.9,2981.7 274.9,2981.8 276.9,2981.9 278.9,2982.0 281.0,2982.1 283.0,2982.2 285.0,2982.3 287.0,2982.4 289.0,2982.4 291.0,2982.5 293.0,2982.6 295.0,2982.7 297.0,2982.8 299.0,2982.9 301.0,2983.0 303.0,2983.1 305.0,2983.2 307.0,2983.3 309.0,2983.4 311.0,2983.5 313.0,2983.5 315.0,2983.6 317.0,2983.7 319.0,2983.8 321.0,2983.9 323.0,2984.0 325.0,2984.1 327.0,2984.3 329.0,2984.4 331.0,2984.5 333.0,2984.7 335.0,2984.9 337.0,2985.2 339.0,2985.5 341.0,2985.8 343.0,2986.1 345.0,2986.5 347.0,2986.8 349.0,2987.2 351.0,2987.6 353.0,2987.9 355.0,2988.3 357.0,2988.6 359.0,2988.9 361.0,2989.1 363.0,2989.4 365.0,2989.5 367.0,2989.7 369.0,2989.9 371.0,2990.1 373.0,2990.2 375.0,2990.4 377.0,2990.6 379.0,2990.7 381.0,2990.8 383.0,2991.0 385.0,2991.1 387.1,2991.2 389.1,2991.3 391.1,2991.4 393.1,2991.5 395.1,2991.6 397.1,2991.7 399.1,2991.8 401.1,2991.9 403.1,2992.0 405.1,2992.1 407.1,2992.2 409.1,2992.3 411.1,2992.4 413.1,2992.4 415.1,2992.5 417.1,2992.5 419.1,2992.6 421.1,2992.6 423.1,2992.7 425.1,2992.7 427.1,2992.7 429.1,2992.6 431.1,2992.6 433.1,2992.6 435.1,2992.5 437.1,2992.5 439.1,2992.4 441.1,2992.4 443.1,2992.3 445.1,2992.2 447.1,2992.2 449.1,2992.1 451.1,2992.0 453.1,2991.9 455.1,2991.8 457.1,2991.6 459.1,2991.4 461.1,2991.2 463.1,2991.0 465.1,2990.7 467.1,2990.5 469.1,2990.2 471.1,2990.0 473.1,2989.8 475.1,2989.6 477.1,2989.4 479.1,2989.3 481.1,2989.2 483.1,2989.0 485.1,2988.9 487.1,2988.8 489.1,2988.7 491.2,2988.6 493.2,2988.5 495.2,2988.4 497.2,2988.3 499.2,2988.1 501.2,2988.0 503.2,2987.8 505.2,2987.6 507.2,2987.3 509.2,2986.9 511.2,2986.5 513.2,2986.1 515.2,2985.6 517.2,2985.1 519.2,2984.6 521.2,2984.1 523.2,2983.4 525.2,2982.8 527.2,2982.0 529.2,2981.2 531.2,2980.3 533.2,2979.3 535.2,2978.2 537.2,2977.0 539.2,2975.7 541.2,2974.2 543.2,2972.7 545.2,2971.2 547.2,2969.5 549.2,2967.9 551.2,2966.1 553.2,2964.3 555.2,2962.3 557.2,2960.2 559.2,2958.1 561.2,2956.0 563.2,2953.9 565.2,2951.8 567.2,2949.7 569.2,2947.6 571.2,2945.5 573.2,2943.4 575.2,2941.2 577.2,2939.0 579.2,2936.6 581.2,2934.1 583.2,2931.5 585.2,2928.7 587.2,2925.9 589.2,2922.9 591.2,2919.8 593.2,2916.6 595.2,2913.4 597.3,2910.1 599.3,2906.8 601.3,2903.4 603.3,2900.0 605.3,2896.5 607.3,2892.9 609.3,2889.1 611.3,2885.3 613.3,2881.4 615.3,2877.3 617.3,2873.1 619.3,2868.7 621.3,2864.1 623.3,2859.5 625.3,2854.7 627.3,2849.8 629.3,2844.5 631.3,2839.0 633.3,2833.5 635.3,2828.1 637.3,2823.1 639.3,2818.0 641.3,2813.5 643.3,2810.3 645.3,2807.7 647.3,2805.3 649.3,2803.4 651.3,2802.3 653.3,2802.1 655.3,2802.8 657.3,2803.9 659.3,2805.1 661.3,2806.3 663.3,2807.6 665.3,2808.9 667.3,2810.3 669.3,2811.7 671.3,2813.0 673.3,2814.1 675.3,2815.0 677.3,2815.8 679.3,2816.6 681.3,2817.6 683.3,2818.9 685.3,2820.8 687.3,2823.5 689.3,2826.7 691.3,2830.5 693.3,2835.2 695.3,2840.6 697.3,2846.4 699.3,2853.2 701.4,2860.8 703.4,2868.3 705.4,2875.9 707.4,2883.6 709.4,2891.1 711.4,2898.3 713.4,2905.5 715.4,2912.7 717.4,2920.3 719.4,2927.5 721.4,2933.6 723.4,2938.9 725.4,2943.7 727.4,2948.2 729.4,2952.3 731.4,2956.1 733.4,2959.7 735.4,2963.1 737.4,2966.4 739.4,2969.5 741.4,2972.6 743.4,2975.4 745.4,2978.0 747.4,2980.5 749.4,2982.8 751.4,2985.1 753.4,2987.1 755.4,2989.1 757.4,2990.8 759.4,2992.5 761.4,2994.0 763.4,2995.5 765.4,2996.9 767.4,2998.2 769.4,2999.6 771.4,3000.9 773.4,3002.1 775.4,3003.2 777.4,3004.2 779.4,3005.0 781.4,3005.8 783.4,3006.6 785.4,3007.3 787.4,3007.9 789.4,3008.6 791.4,3009.2 793.4,3009.8 795.4,3010.4 797.4,3011.0 799.4,3011.6 801.4,3012.1 803.4,3012.7 805.4,3013.2 807.5,3013.8 809.5,3014.3 811.5,3014.8 813.5,3015.4 815.5,3015.9 817.5,3016.4 819.5,3017.0 821.5,3017.5 823.5,3018.0 825.5,3018.6 827.5,3019.1 829.5,3019.7 831.5,3020.2 833.5,3020.8 835.5,3021.3 837.5,3021.8 839.5,3022.4 841.5,3022.8 843.5,3023.3 845.5,3023.7 847.5,3024.1 849.5,3024.6 851.5,3025.0 853.5,3025.5 855.5,3026.0 857.5,3026.5 859.5,3027.1 861.5,3027.6 863.5,3028.2 865.5,3028.7 867.5,3029.2 869.5,3029.7 871.5,3030.2 873.5,3030.7 875.5,3031.1 877.5,3031.4 879.5,3031.8 881.5,3032.0 883.5,3032.3 885.5,3032.5 887.5,3032.8 889.5,3033.0 891.5,3033.2 893.5,3033.4 895.5,3033.6 897.5,3033.7 899.5,3033.9 901.5,3034.1 903.5,3034.3 905.5,3034.4 907.5,3034.6 909.5,3034.8 911.6,3035.0 913.6,3035.2 915.6,3035.4 917.6,3035.6 919.6,3035.8 921.6,3036.0 923.6,3036.2 925.6,3036.4 927.6,3036.6 929.6,3036.8 931.6,3037.0 933.6,3037.2 935.6,3037.4 937.6,3037.6 939.6,3037.8 941.6,3038.0 943.6,3038.2 945.6,3038.4 947.6,3038.6 949.6,3038.8 951.6,3038.9 953.6,3039.1 955.6,3039.3 957.6,3039.5 959.6,3039.7 961.6,3039.9 963.6,3040.1 965.6,3040.2 967.6,3040.4 969.6,3040.5 971.6,3040.6 973.6,3040.8 975.6,3040.8 977.6,3040.9 979.6,3041.0 981.6,3041.0 983.6,3041.1 985.6,3041.2 987.6,3041.2 989.6,3041.3 991.6,3041.3 993.6,3041.4 995.6,3041.4 997.6,3041.4 999.6,3041.5 1001.6,3041.5 1003.6,3041.5 1005.6,3041.5 1007.6,3041.6 1009.6,3041.6 1011.6,3041.6 1013.6,3041.5 1015.6,3041.5 1017.7,3041.5 1019.7,3041.5 1021.7,3041.4 1023.7,3041.4 1025.7,3041.4 1027.7,3041.3 1029.7,3041.3 1031.7,3041.2 1033.7,3041.2 1035.7,3041.1 1037.7,3041.1 1039.7,3041.0 1041.7,3040.9 1043.7,3040.9 1045.7,3040.8 1047.7,3040.6 1049.7,3040.5 1051.7,3040.3 1053.7,3040.1 1055.7,3039.9 1057.7,3039.7 1059.7,3039.5 1061.7,3039.3 1063.7,3039.1 1065.7,3038.9 1067.7,3038.8 1069.7,3038.6 1071.7,3038.5 1073.7,3038.4 1075.7,3038.3 1077.7,3038.2 1079.7,3038.1 1081.7,3038.0 1083.7,3038.0 1085.7,3037.9 1087.7,3037.8 1089.7,3037.8 1091.7,3037.7 1093.7,3037.7 1095.7,3037.7 1097.7,3037.7 1099.7,3037.7 1101.7,3037.7 1103.7,3037.8 1105.7,3037.9 1107.7,3038.1 1109.7,3038.2 1111.7,3038.4 1113.7,3038.5 1115.7,3038.7 1117.7,3038.9 1119.7,3039.0 1121.8,3039.2 1123.8,3039.3 1125.8,3039.4 1127.8,3039.6 1129.8,3039.7 1131.8,3039.9 1133.8,3040.0 1135.8,3040.2 1137.8,3040.3 1139.8,3040.5 1141.8,3040.6 1143.8,3040.7 1145.8,3040.9 1147.8,3041.0 1149.8,3041.2 1151.8,3041.3 1153.8,3041.4 1155.8,3041.6 1157.8,3041.7 1159.8,3041.8 1161.8,3041.9 1163.8,3042.1 1165.8,3042.2 1167.8,3042.3 1169.8,3042.4 1171.8,3042.5 1173.8,3042.7 1175.8,3042.8 1177.8,3042.9 1179.8,3043.0 1181.8,3043.1 1183.8,3043.2 1185.8,3043.4 1187.8,3043.5 1189.8,3043.6 1191.8,3043.7 1193.8,3043.7 1195.8,3043.8 1197.8,3043.9 1199.8,3044.0 1201.8,3044.1 1203.8,3044.1 1205.8,3044.2 1207.8,3044.3 1209.8,3044.3 1211.8,3044.4 1213.8,3044.4 1215.8,3044.5 1217.8,3044.6 1219.8,3044.6 1221.8,3044.7 1223.8,3044.7 1225.8,3044.8 1227.9,3044.8 1229.9,3044.9 1231.9,3044.9 1233.9,3045.0 1235.9,3045.0 1237.9,3045.0 1239.9,3045.1 1241.9,3045.1 1243.9,3045.1 1245.9,3045.1 1247.9,3045.1 1249.9,3045.1 1251.9,3045.1 1253.9,3045.1 1255.9,3045.1 1257.9,3045.1 1259.9,3045.1 1261.9,3045.1 1263.9,3045.1 1265.9,3045.1 1267.9,3045.1 1269.9,3045.1 1271.9,3045.1 1273.9,3045.0 1275.9,3045.0 1277.9,3045.0 1279.9,3045.0 1281.9,3045.0 1283.9,3045.0 1285.9,3044.9 1287.9,3044.9 1289.9,3044.9 1291.9,3044.9 1293.9,3044.9 1295.9,3044.8 1297.9,3044.8 1299.9,3044.8 1301.9,3044.7 1303.9,3044.6 1305.9,3044.5 1307.9,3044.4 1309.9,3044.3 1311.9,3044.1 1313.9,3044.0 1315.9,3043.8 1317.9,3043.6 1319.9,3043.5 1321.9,3043.3 1323.9,3043.1 1325.9,3043.0 1327.9,3042.9 1329.9,3042.7 1332.0,3042.7 1334.0,3042.6 1336.0,3042.5 1338.0,3042.5 1340.0,3042.6 1342.0,3042.6 1344.0,3042.7 1346.0,3042.7 1348.0,3042.8 1350.0,3043.0 1352.0,3043.1 1354.0,3043.2 1356.0,3043.4 1358.0,3043.5 1360.0,3043.7 1362.0,3043.9 1364.0,3044.0 1366.0,3044.2 1368.0,3044.3 1370.0,3044.4 1372.0,3044.5 1374.0,3044.6 1376.0,3044.7 1378.0,3044.8 1380.0,3044.8 1382.0,3044.8 1384.0,3044.9 1386.0,3044.9 1388.0,3044.9 1390.0,3044.9 1392.0,3044.9 1394.0,3045.0 1396.0,3045.0 1398.0,3045.0 1400.0,3045.0 1402.0,3045.0 1404.0,3045.0 1406.0,3045.1 1408.0,3045.1 1410.0,3045.1 1412.0,3045.1 1414.0,3045.1 1416.0,3045.1 1418.0,3045.1 1420.0,3045.1 1422.0,3045.1 1424.0,3045.1 1426.0,3045.1 1428.0,3045.1 1430.0,3045.1 1432.0,3045.1 1434.0,3045.0 1436.0,3044.9 1438.1,3044.8 1440.1,3044.6 1442.1,3044.4 1444.1,3044.2 1446.1,3044.0 1448.1,3043.8 1450.1,3043.5 1452.1,3043.3 1454.1,3043.0 1456.1,3042.8 1458.1,3042.5 1460.1,3042.2 1462.1,3041.8 1464.1,3041.4 1466.1,3041.0 1468.1,3040.5 1470.1,3039.9 1472.1,3039.4 1474.1,3038.7 1476.1,3038.1 1478.1,3037.4 1480.1,3036.5 1482.1,3035.5 1484.1,3034.4 1486.1,3033.1 1488.1,3031.9 1490.1,3030.6 1492.1,3029.2 1494.1,3027.9 1496.1,3026.7 1498.1,3025.5 1500.1,3024.1 1502.1,3022.7 1504.1,3021.4 1506.1,3020.0 1508.1,3018.8 1510.1,3017.7 1512.1,3016.8 1514.1,3016.2 1516.1,3015.6 1518.1,3015.1 1520.1,3014.6 1522.1,3014.1 1524.1,3013.7 1526.1,3013.5 1528.1,3013.3 1530.1,3013.3 1532.1,3013.6 1534.1,3014.0 1536.1,3014.5 1538.1,3015.2 1540.1,3015.9 1542.2,3016.5 1544.2,3017.3 1546.2,3018.1 1548.2,3019.1 1550.2,3020.1 1552.2,3021.2 1554.2,3022.3 1556.2,3023.4 1558.2,3024.5 1560.2,3025.7 1562.2,3026.9 1564.2,3028.2 1566.2,3029.5 1568.2,3030.8 1570.2,3032.1 1572.2,3033.2 1574.2,3034.2 1576.2,3035.1 1578.2,3035.9 1580.2,3036.6 1582.2,3037.3 1584.2,3038.0 1586.2,3038.7 1588.2,3039.3 1590.2,3039.9 1592.2,3040.4 1594.2,3040.9 1596.2,3041.4 1598.2,3041.9 1600.2,3042.4 1602.2,3042.9 1604.2,3043.4 1606.2,3043.8 1608.2,3044.3 1610.2,3044.7 1612.2,3045.1 1614.2,3045.4 1616.2,3045.8 1618.2,3046.1 1620.2,3046.4 1622.2,3046.6 1624.2,3046.8 1626.2,3047.0 1628.2,3047.2 1630.2,3047.4 1632.2,3047.5 1634.2,3047.6 1636.2,3047.7 1638.2,3047.9 1640.2,3048.0 1642.2,3048.1 1644.2,3048.2 1646.2,3048.3 1648.3,3048.4 1650.3,3048.5 1652.3,3048.7 1654.3,3048.8 1656.3,3049.0 1658.3,3049.2 1660.3,3049.4 1662.3,3049.7 1664.3,3050.0 1666.3,3050.5 1668.3,3050.9 1670.3,3051.4 1672.3,3051.9 1674.3,3052.4 1676.3,3052.8 1678.3,3053.1 1680.3,3053.3 1682.3,3053.6 1684.3,3053.8 1686.3,3054.0 1688.3,3054.2 1690.3,3054.3 1692.3,3054.5 1694.3,3054.6 1696.3,3054.7 1698.3,3054.8 1700.3,3054.9 1702.3,3054.9 1704.3,3055.0 1706.3,3055.1 1708.3,3055.1 1710.3,3055.2 1712.3,3055.2 1714.3,3055.3 1716.3,3055.3 1718.3,3055.4 1720.3,3055.4 1722.3,3055.4 1724.3,3055.5 1726.3,3055.5 1728.3,3055.5 1730.3,3055.5 1732.3,3055.6 1734.3,3055.6 1736.3,3055.6 1738.3,3055.6 1740.3,3055.6 1742.3,3055.6 1744.3,3055.6 1746.3,3055.6 1748.3,3055.6 1750.3,3055.6 1752.4,3055.6 1754.4,3055.6 1756.4,3055.6 1758.4,3055.6 1760.4,3055.6 1762.4,3055.6 1764.4,3055.6 1766.4,3055.7 1768.4,3055.7 1770.4,3055.7 1772.4,3055.7 1774.4,3055.7 1776.4,3055.7 1778.4,3055.7 1780.4,3055.7 1782.4,3055.7 1784.4,3055.7 1786.4,3055.7 1788.4,3055.7 1790.4,3055.7 1792.4,3055.7 1794.4,3055.7 1796.4,3055.7 1798.4,3055.7 1800.4,3055.7 1802.4,3055.7 1804.4,3055.7 1806.4,3055.7 1808.4,3055.7 1810.4,3055.7 1812.4,3055.7 1814.4,3055.7 1816.4,3055.7 1818.4,3055.7 1820.4,3055.7 1822.4,3055.7 1824.4,3055.7 1826.4,3055.7 1828.4,3055.7 1830.4,3055.7 1832.4,3055.7 1834.4,3055.7 1836.4,3055.7 1838.4,3055.7 1840.4,3055.7 1842.4,3055.7 1844.4,3055.7 1846.4,3055.7 1848.4,3055.8 1850.4,3055.8 1852.4,3055.8 1854.4,3055.8 1856.4,3055.8 1858.5,3055.8 1860.5,3055.8 1862.5,3055.8 1864.5,3055.8 1866.5,3055.8 1868.5,3055.8 1870.5,3055.8 1872.5,3055.8 1874.5,3055.8 1876.5,3055.8 1878.5,3055.8 1880.5,3055.8 1882.5,3055.8 1884.5,3055.8 1886.5,3055.8 1888.5,3055.8 1890.5,3055.8 1892.5,3055.8 1894.5,3055.8 1896.5,3055.8 1898.5,3055.8 1900.5,3055.8 1902.5,3055.8 1904.5,3055.8 1906.5,3055.8 1908.5,3055.8 1910.5,3055.8 1912.5,3055.8 1914.5,3055.8 1916.5,3055.8 1918.5,3055.8 1920.5,3055.8 1922.5,3055.8 1924.5,3055.8 1926.5,3055.8 1928.5,3055.8 1930.5,3055.8 1932.5,3055.8 1934.5,3055.8 1936.5,3055.8 1938.5,3055.8 1940.5,3055.8 1942.5,3055.8 1944.5,3055.8 1946.5,3055.8 1948.5,3055.8 1950.5,3055.8 1952.5,3055.8 1954.5,3055.8 1956.5,3055.8 1958.5,3055.8 1960.5,3055.8 1962.6,3055.8 1964.6,3055.8 1966.6,3055.8 1968.6,3055.8 1970.6,3055.8 1972.6,3055.8 1974.6,3055.8 1976.6,3055.8 1978.6,3055.8 1980.6,3055.7 1982.6,3055.7 1984.6,3055.7 1986.6,3055.7 1988.6,3055.7 1990.6,3055.7 1992.6,3055.7 1994.6,3055.7 1996.6,3055.7 1998.6,3055.6 2000.6,3055.6 2002.6,3055.6 2004.6,3055.6 2006.6,3055.6 2008.6,3055.6 2010.6,3055.5 2012.6,3055.5 2014.6,3055.5 2016.6,3055.5 2018.6,3055.5 2020.6,3055.4 2022.6,3055.4 2024.6,3055.4 2026.6,3055.4 2028.6,3055.3 2030.6,3055.3 2032.6,3055.3 2034.6,3055.3 2036.6,3055.2 2038.6,3055.2 2040.6,3055.2 2042.6,3055.2 2044.6,3055.1 2046.6,3055.1 2048.6,3055.1 2050.6,3055.0 2052.6,3055.0 2054.6,3055.0 2056.6,3055.0 2058.6,3054.9 2060.6,3054.9 2062.6,3054.9 2064.6,3054.8 2066.6,3054.8 2068.7,3054.8 2070.7,3054.7 2072.7,3054.7 2074.7,3054.7 2076.7,3054.6 2078.7,3054.6 2080.7,3054.6 2082.7,3054.5 2084.7,3054.5 2086.7,3054.5 2088.7,3054.4 2090.7,3054.4 2092.7,3054.4 2094.7,3054.3 2096.7,3054.3 2098.7,3054.3 2100.7,3054.2 2102.7,3054.2 2104.7,3054.2 2106.7,3054.1 2108.7,3054.1 2110.7,3054.1 2112.7,3054.0 2114.7,3054.0 2116.7,3054.0 2118.7,3053.9 2120.7,3053.9" fill="none" stroke="#000000" stroke-width="7" stroke-linejoin="round" stroke-linecap="butt"/>
<polyline points="264.9,2870.9 266.9,2871.5 268.9,2872.1 270.9,2872.6 272.9,2873.2 274.9,2873.7 276.9,2874.2 278.9,2874.7 281.0,2875.2 283.0,2875.6 285.0,2876.0 287.0,2876.4 289.0,2876.8 291.0,2877.1 293.0,2877.4 295.0,2877.6 297.0,2877.9 299.0,2878.1 301.0,2878.3 303.0,2878.5 305.0,2878.7 307.0,2879.0 309.0,2879.2 311.0,2879.4 313.0,2879.7 315.0,2880.0 317.0,2880.3 319.0,2880.7 321.0,2881.0 323.0,2881.4 325.0,2881.8 327.0,2882.2 329.0,2882.6 331.0,2883.1 333.0,2883.5 335.0,2884.0 337.0,2884.6 339.0,2885.2 341.0,2885.9 343.0,2886.6 345.0,2887.3 347.0,2888.0 349.0,2888.7 351.0,2889.4 353.0,2890.1 355.0,2890.7 357.0,2891.4 359.0,2892.0 361.0,2892.7 363.0,2893.3 365.0,2893.9 367.0,2894.5 369.0,2895.1 371.0,2895.7 373.0,2896.2 375.0,2896.6 377.0,2897.1 379.0,2897.5 381.0,2897.9 383.0,2898.3 385.0,2898.7 387.1,2899.1 389.1,2899.5 391.1,2899.8 393.1,2900.1 395.1,2900.5 397.1,2900.8 399.1,2901.1 401.1,2901.3 403.1,2901.6 405.1,2901.9 407.1,2902.2 409.1,2902.4 411.1,2902.7 413.1,2902.9 415.1,2903.2 417.1,2903.4 419.1,2903.6 421.1,2903.7 423.1,2903.9 425.1,2904.0 427.1,2904.1 429.1,2904.2 431.1,2904.3 433.1,2904.5 435.1,2904.5 437.1,2904.6 439.1,2904.7 441.1,2904.8 443.1,2904.9 445.1,2904.9 447.1,2905.0 449.1,2905.0 451.1,2905.0 453.1,2905.0 455.1,2904.9 457.1,2904.8 459.1,2904.7 461.1,2904.5 463.1,2904.3 465.1,2904.1 467.1,2903.9 469.1,2903.7 471.1,2903.4 473.1,2903.2 475.1,2903.0 477.1,2902.7 479.1,2902.5 481.1,2902.3 483.1,2902.1 485.1,2901.9 487.1,2901.6 489.1,2901.3 491.2,2901.1 493.2,2900.8 495.2,2900.4 497.2,2900.1 499.2,2899.6 501.2,2899.2 503.2,2898.6 505.2,2898.1 507.2,2897.4 509.2,2896.7 511.2,2896.0 513.2,2895.2 515.2,2894.3 517.2,2893.2 519.2,2892.0 521.2,2890.7 523.2,2889.3 525.2,2887.8 527.2,2886.1 529.2,2884.3 531.2,2882.2 533.2,2880.0 535.2,2877.6 537.2,2875.0 539.2,2872.2 541.2,2869.1 543.2,2865.6 545.2,2861.9 547.2,2857.9 549.2,2853.8 551.2,2849.7 553.2,2845.6 555.2,2841.2 557.2,2836.8 559.2,2832.2 561.2,2827.6 563.2,2822.9 565.2,2818.3 567.2,2814.0 569.2,2809.7 571.2,2805.3 573.2,2800.3 575.2,2794.4 577.2,2786.6 579.2,2777.8 581.2,2769.5 583.2,2762.1 585.2,2755.1 587.2,2748.3 589.2,2741.6 591.2,2734.7 593.2,2727.6 595.2,2720.2 597.3,2712.6 599.3,2704.8 601.3,2696.8 603.3,2688.7 605.3,2680.4 607.3,2671.8 609.3,2663.0 611.3,2653.9 613.3,2644.5 615.3,2634.8 617.3,2624.9 619.3,2614.8 621.3,2604.3 623.3,2593.5 625.3,2582.5 627.3,2571.2 629.3,2559.1 631.3,2546.6 633.3,2534.5 635.3,2523.2 637.3,2512.4 639.3,2501.9 641.3,2492.3 643.3,2483.9 645.3,2476.1 647.3,2470.2 649.3,2467.0 651.3,2464.5 653.3,2463.1 655.3,2463.4 657.3,2466.1 659.3,2470.0 661.3,2473.7 663.3,2477.8 665.3,2482.2 667.3,2486.3 669.3,2489.6 671.3,2492.1 673.3,2494.2 675.3,2496.2 677.3,2498.5 679.3,2501.4 681.3,2504.7 683.3,2508.2 685.3,2512.3 687.3,2517.0 689.3,2522.4 691.3,2528.7 693.3,2537.5 695.3,2549.7 697.3,2563.6 699.3,2577.8 701.4,2593.5 703.4,2610.3 705.4,2627.3 707.4,2645.2 709.4,2663.5 711.4,2681.7 713.4,2700.6 715.4,2719.4 717.4,2736.0 719.4,2749.8 721.4,2762.0 723.4,2773.6 725.4,2785.6 727.4,2797.7 729.4,2809.4 731.4,2819.9 733.4,2829.0 735.4,2838.0 737.4,2847.4 739.4,2856.1 741.4,2864.0 743.4,2871.2 745.4,2877.4 747.4,2882.9 749.4,2888.2 751.4,2893.5 753.4,2898.6 755.4,2903.5 757.4,2908.0 759.4,2912.3 761.4,2916.1 763.4,2919.3 765.4,2922.1 767.4,2924.7 769.4,2927.0 771.4,2929.3 773.4,2931.4 775.4,2933.5 777.4,2935.4 779.4,2937.2 781.4,2938.9 783.4,2940.5 785.4,2942.0 787.4,2943.4 789.4,2945.0 791.4,2946.7 793.4,2948.7 795.4,2950.7 797.4,2952.7 799.4,2954.5 801.4,2956.0 803.4,2957.4 805.4,2958.6 807.5,2959.8 809.5,2960.9 811.5,2962.0 813.5,2963.1 815.5,2964.2 817.5,2965.4 819.5,2966.6 821.5,2967.9 823.5,2969.3 825.5,2970.7 827.5,2972.1 829.5,2973.5 831.5,2974.9 833.5,2976.4 835.5,2977.8 837.5,2979.2 839.5,2980.6 841.5,2982.1 843.5,2983.6 845.5,2985.1 847.5,2986.6 849.5,2988.1 851.5,2989.6 853.5,2991.0 855.5,2992.2 857.5,2993.4 859.5,2994.4 861.5,2995.4 863.5,2996.3 865.5,2997.2 867.5,2998.0 869.5,2998.8 871.5,2999.6 873.5,3000.3 875.5,3000.9 877.5,3001.6 879.5,3002.2 881.5,3002.8 883.5,3003.3 885.5,3003.8 887.5,3004.3 889.5,3004.8 891.5,3005.3 893.5,3005.7 895.5,3006.2 897.5,3006.6 899.5,3007.0 901.5,3007.5 903.5,3007.9 905.5,3008.3 907.5,3008.6 909.5,3009.0 911.6,3009.4 913.6,3009.8 915.6,3010.2 917.6,3010.6 919.6,3011.0 921.6,3011.4 923.6,3011.8 925.6,3012.2 927.6,3012.6 929.6,3013.0 931.6,3013.4 933.6,3013.8 935.6,3014.2 937.6,3014.6 939.6,3015.0 941.6,3015.4 943.6,3015.8 945.6,3016.2 947.6,3016.6 949.6,3017.0 951.6,3017.4 953.6,3017.8 955.6,3018.2 957.6,3018.6 959.6,3019.0 961.6,3019.5 963.6,3019.9 965.6,3020.4 967.6,3020.8 969.6,3021.2 971.6,3021.6 973.6,3021.9 975.6,3022.2 977.6,3022.4 979.6,3022.7 981.6,3022.9 983.6,3023.1 985.6,3023.3 987.6,3023.5 989.6,3023.7 991.6,3023.9 993.6,3024.0 995.6,3024.2 997.6,3024.3 999.6,3024.4 1001.6,3024.6 1003.6,3024.7 1005.6,3024.8 1007.6,3024.9 1009.6,3025.0 1011.6,3025.0 1013.6,3025.1 1015.6,3025.1 1017.7,3025.0 1019.7,3024.9 1021.7,3024.7 1023.7,3024.5 1025.7,3024.3 1027.7,3024.0 1029.7,3023.7 1031.7,3023.4 1033.7,3023.1 1035.7,3022.8 1037.7,3022.4 1039.7,3021.9 1041.7,3021.3 1043.7,3020.8 1045.7,3020.2 1047.7,3019.6 1049.7,3019.1 1051.7,3018.6 1053.7,3018.2 1055.7,3017.8 1057.7,3017.5 1059.7,3017.1 1061.7,3016.8 1063.7,3016.5 1065.7,3016.2 1067.7,3015.9 1069.7,3015.7 1071.7,3015.4 1073.7,3015.2 1075.7,3015.0 1077.7,3014.8 1079.7,3014.6 1081.7,3014.4 1083.7,3014.3 1085.7,3014.1 1087.7,3013.9 1089.7,3013.8 1091.7,3013.6 1093.7,3013.5 1095.7,3013.5 1097.7,3013.4 1099.7,3013.4 1101.7,3013.6 1103.7,3014.3 1105.7,3015.2 1107.7,3015.7 1109.7,3016.1 1111.7,3016.5 1113.7,3016.9 1115.7,3017.3 1117.7,3017.6 1119.7,3017.9 1121.8,3018.2 1123.8,3018.5 1125.8,3018.8 1127.8,3019.1 1129.8,3019.3 1131.8,3019.6 1133.8,3019.9 1135.8,3020.2 1137.8,3020.5 1139.8,3020.7 1141.8,3021.0 1143.8,3021.3 1145.8,3021.6 1147.8,3021.8 1149.8,3022.1 1151.8,3022.4 1153.8,3022.6 1155.8,3022.9 1157.8,3023.1 1159.8,3023.3 1161.8,3023.6 1163.8,3023.8 1165.8,3024.0 1167.8,3024.2 1169.8,3024.4 1171.8,3024.6 1173.8,3024.8 1175.8,3025.0 1177.8,3025.2 1179.8,3025.4 1181.8,3025.5 1183.8,3025.7 1185.8,3025.8 1187.8,3026.0 1189.8,3026.1 1191.8,3026.3 1193.8,3026.4 1195.8,3026.6 1197.8,3026.7 1199.8,3026.9 1201.8,3027.1 1203.8,3027.2 1205.8,3027.4 1207.8,3027.5 1209.8,3027.7 1211.8,3027.9 1213.8,3028.1 1215.8,3028.2 1217.8,3028.4 1219.8,3028.6 1221.8,3028.7 1223.8,3028.9 1225.8,3029.1 1227.9,3029.3 1229.9,3029.4 1231.9,3029.6 1233.9,3029.8 1235.9,3030.0 1237.9,3030.1 1239.9,3030.3 1241.9,3030.5 1243.9,3030.7 1245.9,3030.8 1247.9,3031.0 1249.9,3031.2 1251.9,3031.3 1253.9,3031.5 1255.9,3031.7 1257.9,3031.9 1259.9,3032.1 1261.9,3032.4 1263.9,3032.6 1265.9,3032.8 1267.9,3033.0 1269.9,3033.1 1271.9,3033.3 1273.9,3033.5 1275.9,3033.6 1277.9,3033.7 1279.9,3033.7 1281.9,3033.8 1283.9,3033.8 1285.9,3033.7 1287.9,3033.7 1289.9,3033.6 1291.9,3033.5 1293.9,3033.4 1295.9,3033.2 1297.9,3033.1 1299.9,3032.9 1301.9,3032.8 1303.9,3032.6 1305.9,3032.5 1307.9,3032.3 1309.9,3032.2 1311.9,3032.0 1313.9,3031.9 1315.9,3031.8 1317.9,3031.6 1319.9,3031.5 1321.9,3031.3 1323.9,3031.2 1325.9,3031.0 1327.9,3030.9 1329.9,3030.8 1332.0,3030.7 1334.0,3030.6 1336.0,3030.5 1338.0,3030.5 1340.0,3030.6 1342.0,3030.6 1344.0,3030.8 1346.0,3031.0 1348.0,3031.2 1350.0,3031.4 1352.0,3031.6 1354.0,3031.8 1356.0,3032.1 1358.0,3032.3 1360.0,3032.5 1362.0,3032.7 1364.0,3032.8 1366.0,3032.9 1368.0,3033.1 1370.0,3033.2 1372.0,3033.4 1374.0,3033.5 1376.0,3033.6 1378.0,3033.8 1380.0,3033.9 1382.0,3034.0 1384.0,3034.1 1386.0,3034.2 1388.0,3034.3 1390.0,3034.3 1392.0,3034.4 1394.0,3034.4 1396.0,3034.4 1398.0,3034.4 1400.0,3034.4 1402.0,3034.4 1404.0,3034.4 1406.0,3034.4 1408.0,3034.3 1410.0,3034.3 1412.0,3034.3 1414.0,3034.2 1416.0,3034.2 1418.0,3034.2 1420.0,3034.1 1422.0,3034.1 1424.0,3034.0 1426.0,3034.0 1428.0,3033.9 1430.0,3033.8 1432.0,3033.8 1434.0,3033.7 1436.0,3033.5 1438.1,3033.3 1440.1,3033.1 1442.1,3032.9 1444.1,3032.6 1446.1,3032.2 1448.1,3031.9 1450.1,3031.5 1452.1,3031.1 1454.1,3030.6 1456.1,3030.1 1458.1,3029.4 1460.1,3028.6 1462.1,3027.6 1464.1,3026.5 1466.1,3025.3 1468.1,3024.0 1470.1,3022.7 1472.1,3021.2 1474.1,3019.8 1476.1,3018.1 1478.1,3016.3 1480.1,3014.2 1482.1,3011.9 1484.1,3009.6 1486.1,3007.1 1488.1,3004.6 1490.1,3002.1 1492.1,2999.6 1494.1,2996.8 1496.1,2994.0 1498.1,2991.0 1500.1,2988.0 1502.1,2985.1 1504.1,2982.3 1506.1,2979.7 1508.1,2977.2 1510.1,2974.5 1512.1,2972.0 1514.1,2969.5 1516.1,2967.4 1518.1,2965.6 1520.1,2964.2 1522.1,2963.0 1524.1,2961.9 1526.1,2961.0 1528.1,2960.5 1530.1,2960.4 1532.1,2960.9 1534.1,2961.8 1536.1,2962.9 1538.1,2964.1 1540.1,2965.4 1542.2,2967.2 1544.2,2969.3 1546.2,2971.8 1548.2,2974.3 1550.2,2976.9 1552.2,2979.5 1554.2,2982.1 1556.2,2984.9 1558.2,2987.8 1560.2,2990.8 1562.2,2993.7 1564.2,2996.6 1566.2,2999.4 1568.2,3001.9 1570.2,3004.4 1572.2,3006.9 1574.2,3009.3 1576.2,3011.7 1578.2,3013.9 1580.2,3016.0 1582.2,3017.9 1584.2,3019.6 1586.2,3021.2 1588.2,3022.6 1590.2,3024.0 1592.2,3025.2 1594.2,3026.4 1596.2,3027.5 1598.2,3028.5 1600.2,3029.4 1602.2,3030.1 1604.2,3030.9 1606.2,3031.5 1608.2,3032.2 1610.2,3032.8 1612.2,3033.3 1614.2,3033.9 1616.2,3034.4 1618.2,3034.9 1620.2,3035.3 1622.2,3035.8 1624.2,3036.2 1626.2,3036.7 1628.2,3037.1 1630.2,3037.4 1632.2,3037.8 1634.2,3038.2 1636.2,3038.5 1638.2,3038.8 1640.2,3039.2 1642.2,3039.5 1644.2,3039.8 1646.2,3040.1 1648.3,3040.4 1650.3,3040.8 1652.3,3041.1 1654.3,3041.5 1656.3,3041.8 1658.3,3042.2 1660.3,3042.6 1662.3,3043.0 1664.3,3043.5 1666.3,3044.0 1668.3,3044.5 1670.3,3045.0 1672.3,3045.5 1674.3,3045.9 1676.3,3046.4 1678.3,3046.8 1680.3,3047.2 1682.3,3047.5 1684.3,3047.9 1686.3,3048.2 1688.3,3048.5 1690.3,3048.8 1692.3,3049.1 1694.3,3049.4 1696.3,3049.6 1698.3,3049.9 1700.3,3050.1 1702.3,3050.3 1704.3,3050.6 1706.3,3050.8 1708.3,3051.0 1710.3,3051.3 1712.3,3051.5 1714.3,3051.7 1716.3,3051.9 1718.3,3052.1 1720.3,3052.3 1722.3,3052.5 1724.3,3052.7 1726.3,3052.9 1728.3,3053.0 1730.3,3053.2 1732.3,3053.3 1734.3,3053.4 1736.3,3053.6 1738.3,3053.7 1740.3,3053.8 1742.3,3053.9 1744.3,3054.0 1746.3,3054.0 1748.3,3054.1 1750.3,3054.2 1752.4,3054.3 1754.4,3054.4 1756.4,3054.4 1758.4,3054.5 1760.4,3054.6 1762.4,3054.6 1764.4,3054.7 1766.4,3054.8 1768.4,3054.8 1770.4,3054.9 1772.4,3054.9 1774.4,3055.0 1776.4,3055.0 1778.4,3055.0 1780.4,3055.1 1782.4,3055.1 1784.4,3055.2 1786.4,3055.2 1788.4,3055.2 1790.4,3055.3 1792.4,3055.3 1794.4,3055.4 1796.4,3055.4 1798.4,3055.4 1800.4,3055.5 1802.4,3055.5 1804.4,3055.5 1806.4,3055.5 1808.4,3055.5 1810.4,3055.6 1812.4,3055.6 1814.4,3055.6 1816.4,3055.6 1818.4,3055.6 1820.4,3055.6 1822.4,3055.6 1824.4,3055.6 1826.4,3055.6 1828.4,3055.6 1830.4,3055.6 1832.4,3055.6 1834.4,3055.6 1836.4,3055.7 1838.4,3055.7 1840.4,3055.7 1842.4,3055.7 1844.4,3055.7 1846.4,3055.7 1848.4,3055.7 1850.4,3055.7 1852.4,3055.7 1854.4,3055.7 1856.4,3055.7 1858.5,3055.7 1860.5,3055.7 1862.5,3055.7 1864.5,3055.7 1866.5,3055.7 1868.5,3055.7 1870.5,3055.7 1872.5,3055.7 1874.5,3055.7 1876.5,3055.7 1878.5,3055.7 1880.5,3055.7 1882.5,3055.7 1884.5,3055.7 1886.5,3055.7 1888.5,3055.7 1890.5,3055.7 1892.5,3055.8 1894.5,3055.8 1896.5,3055.8 1898.5,3055.8 1900.5,3055.8 1902.5,3055.8 1904.5,3055.8 1906.5,3055.8 1908.5,3055.8 1910.5,3055.8 1912.5,3055.8 1914.5,3055.8 1916.5,3055.8 1918.5,3055.8 1920.5,3055.8 1922.5,3055.8 1924.5,3055.8 1926.5,3055.8 1928.5,3055.8 1930.5,3055.8 1932.5,3055.8 1934.5,3055.8 1936.5,3055.8 1938.5,3055.8 1940.5,3055.8 1942.5,3055.8 1944.5,3055.8 1946.5,3055.8 1948.5,3055.8 1950.5,3055.8 1952.5,3055.8 1954.5,3055.8 1956.5,3055.8 1958.5,3055.8 1960.5,3055.8 1962.6,3055.8 1964.6,3055.8 1966.6,3055.8 1968.6,3055.8 1970.6,3055.8 1972.6,3055.8 1974.6,3055.8 1976.6,3055.8 1978.6,3055.8 1980.6,3055.7 1982.6,3055.7 1984.6,3055.7 1986.6,3055.7 1988.6,3055.7 1990.6,3055.7 1992.6,3055.7 1994.6,3055.7 1996.6,3055.7 1998.6,3055.6 2000.6,3055.6 2002.6,3055.6 2004.6,3055.6 2006.6,3055.6 2008.6,3055.6 2010.6,3055.5 2012.6,3055.5 2014.6,3055.5 2016.6,3055.5 2018.6,3055.5 2020.6,3055.5 2022.6,3055.4 2024.6,3055.4 2026.6,3055.4 2028.6,3055.4 2030.6,3055.3 2032.6,3055.3 2034.6,3055.3 2036.6,3055.3 2038.6,3055.2 2040.6,3055.2 2042.6,3055.2 2044.6,3055.2 2046.6,3055.1 2048.6,3055.1 2050.6,3055.1 2052.6,3055.1 2054.6,3055.0 2056.6,3055.0 2058.6,3055.0 2060.6,3054.9 2062.6,3054.9 2064.6,3054.9 2066.6,3054.8 2068.7,3054.8 2070.7,3054.8 2072.7,3054.7 2074.7,3054.7 2076.7,3054.7 2078.7,3054.6 2080.7,3054.6 2082.7,3054.6 2084.7,3054.5 2086.7,3054.5 2088.7,3054.5 2090.7,3054.4 2092.7,3054.4 2094.7,3054.4 2096.7,3054.3 2098.7,3054.3 2100.7,3054.3 2102.7,3054.2 2104.7,3054.2 2106.7,3054.2 2108.7,3054.1 2110.7,3054.1 2112.7,3054.0 2114.7,3054.0 2116.7,3054.0 2118.7,3053.9 2120.7,3053.9" fill="none" stroke="#ff0000" stroke-width="7" stroke-linejoin="round" stroke-linecap="butt"/>
<polyline points="264.9,2724.3 266.9,2725.5 269.0,2726.8 271.0,2728.0 273.0,2729.1 275.0,2730.2 277.0,2731.3 279.0,2732.4 281.0,2733.5 283.0,2734.6 285.0,2735.6 287.0,2736.5 289.0,2737.3 291.1,2738.0 293.1,2738.7 295.1,2739.3 297.1,2739.9 299.1,2740.4 301.1,2741.0 303.1,2741.4 305.1,2741.8 307.1,2742.2 309.1,2742.5 311.1,2742.9 313.2,2743.2 315.2,2743.7 317.2,2744.1 319.2,2744.7 321.2,2745.5 323.2,2746.4 325.2,2747.5 327.2,2748.6 329.2,2749.8 331.2,2751.0 333.2,2752.2 335.3,2753.3 337.3,2754.6 339.3,2755.9 341.3,2757.2 343.3,2758.5 345.3,2759.9 347.3,2761.2 349.3,2762.4 351.3,2763.7 353.3,2764.9 355.4,2766.1 357.4,2767.3 359.4,2768.5 361.4,2769.6 363.4,2770.7 365.4,2771.7 367.4,2772.6 369.4,2773.4 371.4,2774.2 373.4,2774.9 375.4,2775.6 377.5,2776.2 379.5,2776.9 381.5,2777.4 383.5,2777.9 385.5,2778.4 387.5,2778.9 389.5,2779.3 391.5,2779.6 393.5,2780.0 395.5,2780.4 397.5,2780.8 399.6,2781.1 401.6,2781.6 403.6,2782.0 405.6,2782.4 407.6,2782.8 409.6,2783.2 411.6,2783.6 413.6,2784.0 415.6,2784.4 417.6,2784.7 419.6,2785.1 421.7,2785.5 423.7,2785.9 425.7,2786.2 427.7,2786.5 429.7,2786.8 431.7,2786.9 433.7,2787.1 435.7,2787.2 437.7,2787.3 439.7,2787.4 441.7,2787.5 443.8,2787.5 445.8,2787.6 447.8,2787.6 449.8,2787.5 451.8,2787.3 453.8,2786.9 455.8,2786.5 457.8,2786.0 459.8,2785.4 461.8,2784.9 463.8,2784.4 465.9,2784.0 467.9,2783.7 469.9,2783.3 471.9,2782.9 473.9,2782.5 475.9,2782.1 477.9,2781.7 479.9,2781.2 481.9,2780.8 483.9,2780.3 486.0,2779.9 488.0,2779.4 490.0,2778.9 492.0,2778.3 494.0,2777.7 496.0,2777.1 498.0,2776.5 500.0,2775.8 502.0,2775.0 504.0,2774.2 506.0,2773.3 508.1,2772.3 510.1,2771.2 512.1,2769.9 514.1,2768.4 516.1,2766.8 518.1,2764.9 520.1,2762.9 522.1,2760.7 524.1,2758.3 526.1,2755.3 528.1,2752.0 530.2,2748.4 532.2,2744.4 534.2,2740.0 536.2,2735.1 538.2,2729.7 540.2,2723.9 542.2,2717.8 544.2,2711.3 546.2,2704.2 548.2,2696.6 550.2,2688.8 552.3,2680.9 554.3,2672.6 556.3,2664.0 558.3,2655.1 560.3,2646.1 562.3,2637.1 564.3,2627.9 566.3,2618.5 568.3,2609.0 570.3,2599.5 572.3,2590.2 574.4,2581.1 576.4,2572.2 578.4,2562.9 580.4,2553.0 582.4,2542.4 584.4,2531.2 586.4,2519.6 588.4,2507.5 590.4,2494.8 592.4,2481.6 594.4,2467.9 596.5,2453.6 598.5,2438.5 600.5,2421.8 602.5,2403.9 604.5,2385.7 606.5,2367.8 608.5,2350.8 610.5,2334.5 612.5,2318.2 614.5,2301.6 616.5,2284.1 618.6,2264.9 620.6,2243.9 622.6,2222.9 624.6,2203.5 626.6,2187.3 628.6,2173.4 630.6,2159.8 632.6,2144.5 634.6,2125.0 636.6,2099.3 638.7,2077.5 640.7,2059.5 642.7,2048.2 644.7,2040.0 646.7,2036.0 646.7,2036.0 653.2,2038.6 661.3,2039.9 666.2,2052.2 671.0,2071.7 677.5,2065.2 682.4,2081.4 687.3,2100.9 687.3,2100.9 689.3,2112.4 691.3,2124.3 693.3,2135.7 695.3,2147.2 697.3,2161.1 699.3,2180.8 701.3,2208.9 703.3,2237.3 705.3,2263.1 707.3,2290.1 709.3,2321.3 711.3,2355.7 713.3,2388.6 715.3,2419.5 717.3,2449.7 719.3,2480.2 721.3,2510.1 723.3,2537.5 725.3,2562.5 727.3,2585.3 729.3,2605.4 731.3,2623.7 733.3,2641.1 735.3,2658.1 737.3,2674.1 739.3,2688.1 741.3,2700.5 743.3,2711.9 745.3,2722.4 747.3,2732.4 749.3,2741.8 751.3,2750.7 753.3,2759.1 755.3,2767.4 757.3,2775.8 759.3,2784.5 761.3,2793.2 763.3,2801.1 765.4,2808.2 767.4,2814.7 769.4,2820.5 771.4,2825.7 773.4,2830.6 775.4,2835.1 777.4,2839.5 779.4,2843.6 781.4,2847.4 783.4,2850.7 785.4,2853.6 787.4,2856.2 789.4,2858.8 791.4,2861.4 793.4,2864.1 795.4,2866.8 797.4,2869.6 799.4,2872.3 801.4,2874.9 803.4,2877.4 805.4,2879.8 807.4,2882.1 809.4,2884.4 811.4,2886.7 813.4,2889.1 815.4,2891.4 817.4,2893.9 819.4,2896.4 821.4,2899.1 823.4,2901.8 825.4,2904.7 827.4,2907.6 829.4,2910.6 831.4,2913.5 833.4,2916.4 835.4,2919.2 837.4,2921.8 839.4,2924.3 841.4,2926.8 843.4,2929.2 845.4,2931.6 847.4,2933.9 849.4,2936.1 851.4,2938.3 853.4,2940.4 855.4,2942.4 857.4,2944.3 859.4,2946.1 861.4,2947.8 863.4,2949.6 865.5,2951.2 867.5,2952.8 869.5,2954.4 871.5,2955.8 873.5,2957.2 875.5,2958.4 877.5,2959.6 879.5,2960.6 881.5,2961.5 883.5,2962.4 885.5,2963.2 887.5,2964.0 889.5,2964.7 891.5,2965.5 893.5,2966.2 895.5,2966.9 897.5,2967.6 899.5,2968.4 901.5,2969.1 903.5,2969.8 905.5,2970.5 907.5,2971.1 909.5,2971.8 911.5,2972.5 913.5,2973.2 915.5,2973.9 917.5,2974.7 919.5,2975.4 921.5,2976.2 923.5,2977.0 925.5,2977.8 927.5,2978.6 929.5,2979.4 931.5,2980.3 933.5,2981.1 935.5,2981.9 937.5,2982.7 939.5,2983.5 941.5,2984.3 943.5,2985.1 945.5,2985.9 947.5,2986.8 949.5,2987.6 951.5,2988.4 953.5,2989.1 955.5,2989.9 957.5,2990.6 959.5,2991.4 961.5,2992.2 963.5,2992.9 965.6,2993.7 967.6,2994.4 969.6,2995.1 971.6,2995.8 973.6,2996.3 975.6,2996.9 977.6,2997.4 979.6,2997.9 981.6,2998.4 983.6,2998.9 985.6,2999.3 987.6,2999.7 989.6,3000.1 991.6,3000.4 993.6,3000.6 995.6,3000.8 997.6,3000.9 999.6,3001.1 1001.6,3001.2 1003.6,3001.4 1005.6,3001.5 1007.6,3001.6 1009.6,3001.6 1011.6,3001.7 1013.6,3001.7 1015.6,3001.7 1017.6,3001.6 1019.6,3001.4 1021.6,3001.1 1023.6,3000.8 1025.6,3000.5 1027.6,3000.1 1029.6,2999.7 1031.6,2999.2 1033.6,2998.8 1035.6,2998.3 1037.6,2997.8 1039.6,2997.1 1041.6,2996.4 1043.6,2995.6 1045.6,2994.8 1047.6,2994.0 1049.6,2993.2 1051.6,2992.5 1053.6,2991.8 1055.6,2991.2 1057.6,2990.5 1059.6,2989.7 1061.6,2989.0 1063.6,2988.4 1065.6,2987.7 1067.7,2987.2 1069.7,2986.7 1071.7,2986.3 1073.7,2986.0 1075.7,2985.7 1077.7,2985.5 1079.7,2985.2 1081.7,2985.0 1083.7,2984.7 1085.7,2984.5 1087.7,2984.4 1089.7,2984.2 1091.7,2984.1 1093.7,2983.9 1095.7,2983.9 1097.7,2983.8 1099.7,2983.8 1101.7,2983.8 1103.7,2984.0 1105.7,2984.4 1107.7,2984.8 1109.7,2985.3 1111.7,2985.9 1113.7,2986.5 1115.7,2987.1 1117.7,2987.7 1119.7,2988.2 1121.7,2988.7 1123.7,2989.2 1125.7,2989.8 1127.7,2990.4 1129.7,2991.0 1131.7,2991.5 1133.7,2992.1 1135.7,2992.7 1137.7,2993.3 1139.7,2993.9 1141.7,2994.4 1143.7,2994.9 1145.7,2995.4 1147.7,2995.8 1149.7,2996.2 1151.7,2996.7 1153.7,2997.1 1155.7,2997.5 1157.7,2997.9 1159.7,2998.2 1161.7,2998.6 1163.7,2999.0 1165.7,2999.3 1167.8,2999.6 1169.8,3000.0 1171.8,3000.3 1173.8,3000.6 1175.8,3000.9 1177.8,3001.2 1179.8,3001.4 1181.8,3001.7 1183.8,3002.0 1185.8,3002.2 1187.8,3002.5 1189.8,3002.7 1191.8,3003.0 1193.8,3003.2 1195.8,3003.5 1197.8,3003.7 1199.8,3004.0 1201.8,3004.2 1203.8,3004.4 1205.8,3004.7 1207.8,3004.9 1209.8,3005.2 1211.8,3005.4 1213.8,3005.6 1215.8,3005.9 1217.8,3006.1 1219.8,3006.3 1221.8,3006.6 1223.8,3006.8 1225.8,3007.1 1227.8,3007.4 1229.8,3007.7 1231.8,3008.0 1233.8,3008.4 1235.8,3008.7 1237.8,3009.1 1239.8,3009.5 1241.8,3010.0 1243.8,3010.4 1245.8,3010.8 1247.8,3011.2 1249.8,3011.7 1251.8,3012.1 1253.8,3012.6 1255.8,3013.1 1257.8,3013.6 1259.8,3014.1 1261.8,3014.6 1263.8,3015.0 1265.8,3015.3 1267.9,3015.5 1269.9,3015.6 1271.9,3015.6 1273.9,3015.6 1275.9,3015.6 1277.9,3015.6 1279.9,3015.6 1281.9,3015.6 1283.9,3015.6 1285.9,3015.6 1287.9,3015.6 1289.9,3015.6 1291.9,3015.5 1293.9,3015.3 1295.9,3015.0 1297.9,3014.6 1299.9,3014.2 1301.9,3013.8 1303.9,3013.3 1305.9,3012.8 1307.9,3012.4 1309.9,3011.9 1311.9,3011.5 1313.9,3011.2 1315.9,3010.9 1317.9,3010.6 1319.9,3010.3 1321.9,3010.0 1323.9,3009.7 1325.9,3009.4 1327.9,3009.1 1329.9,3008.9 1331.9,3008.7 1333.9,3008.6 1335.9,3008.5 1337.9,3008.4 1339.9,3008.5 1341.9,3008.6 1343.9,3008.8 1345.9,3009.1 1347.9,3009.4 1349.9,3009.8 1351.9,3010.1 1353.9,3010.5 1355.9,3010.9 1357.9,3011.3 1359.9,3011.6 1361.9,3012.0 1363.9,3012.3 1365.9,3012.8 1368.0,3013.2 1370.0,3013.7 1372.0,3014.1 1374.0,3014.6 1376.0,3015.0 1378.0,3015.5 1380.0,3015.8 1382.0,3016.1 1384.0,3016.4 1386.0,3016.5 1388.0,3016.6 1390.0,3016.7 1392.0,3016.8 1394.0,3016.9 1396.0,3017.0 1398.0,3017.1 1400.0,3017.2 1402.0,3017.2 1404.0,3017.3 1406.0,3017.4 1408.0,3017.4 1410.0,3017.4 1412.0,3017.5 1414.0,3017.5 1416.0,3017.5 1418.0,3017.5 1420.0,3017.5 1422.0,3017.5 1424.0,3017.4 1426.0,3017.3 1428.0,3017.2 1430.0,3017.0 1432.0,3016.8 1434.0,3016.6 1436.0,3016.3 1438.0,3016.0 1440.0,3015.7 1442.0,3015.4 1444.0,3015.1 1446.0,3014.7 1448.0,3014.1 1450.0,3013.4 1452.0,3012.4 1454.0,3011.4 1456.0,3010.2 1458.0,3008.9 1460.0,3007.5 1462.0,3006.0 1464.0,3004.2 1466.0,3002.1 1468.1,2999.6 1470.1,2996.9 1472.1,2994.0 1474.1,2990.9 1476.1,2987.7 1478.1,2984.4 1480.1,2980.5 1482.1,2976.3 1484.1,2971.7 1486.1,2966.9 1488.1,2961.9 1490.1,2957.0 1492.1,2951.8 1494.1,2946.3 1496.1,2940.6 1498.1,2934.8 1500.1,2929.1 1502.1,2923.7 1504.1,2918.7 1506.1,2913.6 1508.1,2908.6 1510.1,2903.8 1512.1,2899.3 1514.1,2895.2 1516.1,2891.8 1518.1,2888.8 1520.1,2886.1 1522.1,2883.6 1524.1,2881.6 1526.1,2880.1 1528.1,2878.8 1530.1,2878.0 1532.1,2878.2 1534.1,2879.5 1536.1,2881.5 1538.1,2884.0 1540.1,2886.8 1542.1,2890.8 1544.1,2895.7 1546.1,2901.0 1548.1,2906.3 1550.1,2911.5 1552.1,2916.9 1554.1,2922.5 1556.1,2928.2 1558.1,2933.8 1560.1,2939.4 1562.1,2944.7 1564.1,2950.0 1566.1,2955.2 1568.2,2960.4 1570.2,2965.5 1572.2,2970.3 1574.2,2974.9 1576.2,2979.2 1578.2,2983.4 1580.2,2987.5 1582.2,2991.4 1584.2,2995.0 1586.2,2998.2 1588.2,3001.0 1590.2,3003.5 1592.2,3005.9 1594.2,3008.1 1596.2,3010.1 1598.2,3012.0 1600.2,3013.8 1602.2,3015.3 1604.2,3016.8 1606.2,3018.1 1608.2,3019.3 1610.2,3020.4 1612.2,3021.5 1614.2,3022.5 1616.2,3023.5 1618.2,3024.4 1620.2,3025.2 1622.2,3025.9 1624.2,3026.6 1626.2,3027.2 1628.2,3027.8 1630.2,3028.3 1632.2,3028.8 1634.2,3029.3 1636.2,3029.8 1638.2,3030.2 1640.2,3030.6 1642.2,3031.0 1644.2,3031.4 1646.2,3031.8 1648.2,3032.2 1650.2,3032.6 1652.2,3033.0 1654.2,3033.5 1656.2,3033.9 1658.2,3034.3 1660.2,3034.8 1662.2,3035.3 1664.2,3035.8 1666.2,3036.3 1668.3,3036.9 1670.3,3037.4 1672.3,3037.9 1674.3,3038.4 1676.3,3038.9 1678.3,3039.4 1680.3,3039.8 1682.3,3040.2 1684.3,3040.6 1686.3,3041.0 1688.3,3041.4 1690.3,3041.8 1692.3,3042.1 1694.3,3042.4 1696.3,3042.7 1698.3,3043.0 1700.3,3043.3 1702.3,3043.6 1704.3,3043.8 1706.3,3044.0 1708.3,3044.3 1710.3,3044.5 1712.3,3044.7 1714.3,3044.9 1716.3,3045.1 1718.3,3045.3 1720.3,3045.5 1722.3,3045.7 1724.3,3045.8 1726.3,3046.0 1728.3,3046.2 1730.3,3046.4 1732.3,3046.5 1734.3,3046.7 1736.3,3046.9 1738.3,3047.1 1740.3,3047.2 1742.3,3047.4 1744.3,3047.6 1746.3,3047.7 1748.3,3047.9 1750.3,3048.0 1752.3,3048.2 1754.3,3048.3 1756.3,3048.5 1758.3,3048.6 1760.3,3048.8 1762.3,3048.9 1764.3,3049.1 1766.3,3049.2 1768.4,3049.4 1770.4,3049.5 1772.4,3049.6 1774.4,3049.8 1776.4,3049.9 1778.4,3050.0 1780.4,3050.2 1782.4,3050.3 1784.4,3050.4 1786.4,3050.6 1788.4,3050.7 1790.4,3050.8 1792.4,3050.9 1794.4,3051.1 1796.4,3051.2 1798.4,3051.3 1800.4,3051.4 1802.4,3051.5 1804.4,3051.7 1806.4,3051.8 1808.4,3051.9 1810.4,3052.0 1812.4,3052.1 1814.4,3052.2 1816.4,3052.3 1818.4,3052.4 1820.4,3052.5 1822.4,3052.6 1824.4,3052.7 1826.4,3052.8 1828.4,3052.9 1830.4,3053.0 1832.4,3053.1 1834.4,3053.2 1836.4,3053.3 1838.4,3053.4 1840.4,3053.5 1842.4,3053.6 1844.4,3053.7 1846.4,3053.7 1848.4,3053.8 1850.4,3053.9 1852.4,3054.0 1854.4,3054.0 1856.4,3054.1 1858.4,3054.2 1860.4,3054.2 1862.4,3054.3 1864.4,3054.3 1866.4,3054.4 1868.4,3054.5 1870.5,3054.5 1872.5,3054.6 1874.5,3054.6 1876.5,3054.7 1878.5,3054.7 1880.5,3054.8 1882.5,3054.8 1884.5,3054.9 1886.5,3054.9 1888.5,3054.9 1890.5,3055.0 1892.5,3055.0 1894.5,3055.0 1896.5,3055.0 1898.5,3055.1 1900.5,3055.1 1902.5,3055.1 1904.5,3055.2 1906.5,3055.2 1908.5,3055.2 1910.5,3055.2 1912.5,3055.3 1914.5,3055.3 1916.5,3055.3 1918.5,3055.3 1920.5,3055.3 1922.5,3055.4 1924.5,3055.4 1926.5,3055.4 1928.5,3055.4 1930.5,3055.4 1932.5,3055.5 1934.5,3055.5 1936.5,3055.5 1938.5,3055.5 1940.5,3055.5 1942.5,3055.5 1944.5,3055.6 1946.5,3055.6 1948.5,3055.6 1950.5,3055.6 1952.5,3055.6 1954.5,3055.6 1956.5,3055.6 1958.5,3055.6 1960.5,3055.6 1962.5,3055.6 1964.5,3055.6 1966.5,3055.6 1968.5,3055.6 1970.6,3055.6 1972.6,3055.6 1974.6,3055.6 1976.6,3055.6 1978.6,3055.6 1980.6,3055.6 1982.6,3055.6 1984.6,3055.6 1986.6,3055.6 1988.6,3055.6 1990.6,3055.5 1992.6,3055.5 1994.6,3055.5 1996.6,3055.5 1998.6,3055.5 2000.6,3055.5 2002.6,3055.5 2004.6,3055.5 2006.6,3055.5 2008.6,3055.5 2010.6,3055.5 2012.6,3055.4 2014.6,3055.4 2016.6,3055.4 2018.6,3055.4 2020.6,3055.4 2022.6,3055.4 2024.6,3055.4 2026.6,3055.4 2028.6,3055.3 2030.6,3055.3 2032.6,3055.3 2034.6,3055.3 2036.6,3055.3 2038.6,3055.3 2040.6,3055.2 2042.6,3055.2 2044.6,3055.2 2046.6,3055.2 2048.6,3055.1 2050.6,3055.1 2052.6,3055.1 2054.6,3055.1 2056.6,3055.1 2058.6,3055.0 2060.6,3055.0 2062.6,3055.0 2064.6,3054.9 2066.6,3054.9 2068.6,3054.9 2070.7,3054.9 2072.7,3054.8 2074.7,3054.8 2076.7,3054.8 2078.7,3054.7 2080.7,3054.7 2082.7,3054.7 2084.7,3054.6 2086.7,3054.6 2088.7,3054.6 2090.7,3054.5 2092.7,3054.5 2094.7,3054.5 2096.7,3054.4 2098.7,3054.4 2100.7,3054.3 2102.7,3054.3 2104.7,3054.3 2106.7,3054.2 2108.7,3054.2 2110.7,3054.1 2112.7,3054.1 2114.7,3054.0 2116.7,3054.0 2118.7,3053.9 2120.7,3053.9" fill="none" stroke="#00ff00" stroke-width="7" stroke-linejoin="round" stroke-linecap="butt"/>
<polyline points="264.9,2274.6 266.9,2278.9 268.9,2282.9 270.9,2286.6 272.9,2289.9 274.9,2292.8 276.9,2295.2 278.9,2297.1 280.9,2298.8 282.9,2300.3 284.9,2301.8 286.9,2303.5 288.9,2305.4 290.9,2307.9 292.9,2310.7 294.9,2313.7 296.9,2316.5 298.9,2318.7 300.9,2320.5 302.9,2322.1 304.9,2323.6 306.9,2325.0 308.9,2326.3 310.9,2327.7 312.9,2329.0 314.9,2330.3 316.9,2331.5 318.9,2332.8 320.9,2334.3 322.9,2336.0 324.9,2338.0 326.9,2340.2 328.9,2342.5 330.9,2345.0 332.9,2347.5 334.9,2350.0 336.9,2352.6 339.0,2355.3 341.0,2358.2 343.0,2361.0 345.0,2363.8 347.0,2366.5 349.0,2369.2 351.0,2371.7 353.0,2374.3 355.0,2376.7 357.0,2379.2 359.0,2381.6 361.0,2384.1 363.0,2386.5 365.0,2389.0 367.0,2391.3 369.0,2393.6 371.0,2395.5 373.0,2397.4 375.0,2399.1 377.0,2400.7 379.0,2402.2 381.0,2403.6 383.0,2405.0 385.0,2406.3 387.0,2407.6 389.0,2408.8 391.0,2410.0 393.0,2411.0 395.0,2412.0 397.0,2412.9 399.0,2413.7 401.0,2414.6 403.0,2415.4 405.0,2416.4 407.0,2417.4 409.0,2418.6 411.0,2419.9 413.0,2421.2 415.0,2422.5 417.0,2423.8 419.0,2425.0 421.0,2426.2 423.0,2427.5 425.0,2428.8 427.0,2430.0 429.0,2431.0 431.0,2431.8 433.0,2432.4 435.0,2432.9 437.0,2433.4 439.0,2433.8 441.0,2434.1 443.0,2434.3 445.0,2434.4 447.0,2434.3 449.0,2434.2 451.0,2434.0 453.0,2433.8 455.0,2433.5 457.0,2433.2 459.0,2432.8 461.0,2432.2 463.0,2431.3 465.0,2430.4 467.0,2429.3 469.0,2428.2 471.0,2427.1 473.0,2426.0 475.0,2424.7 477.0,2423.4 479.0,2422.1 481.0,2420.8 483.0,2419.5 485.0,2418.4 487.0,2417.4 489.0,2416.5 491.0,2415.6 493.0,2414.6 495.0,2413.6 497.0,2412.5 499.0,2411.3 501.0,2410.1 503.0,2408.8 505.0,2407.3 507.0,2405.7 509.0,2403.7 511.0,2401.2 513.0,2397.6 515.0,2393.2 517.0,2388.3 519.0,2383.1 521.0,2377.6 523.0,2371.5 525.0,2364.9 527.0,2357.7 529.0,2350.2 531.0,2342.1 533.0,2333.3 535.0,2323.7 537.0,2313.2 539.0,2301.3 541.0,2288.8 543.0,2276.2 545.0,2263.6 547.0,2250.5 549.0,2236.8 551.0,2222.1 553.0,2206.7 555.0,2191.7 557.0,2177.4 559.0,2163.4 561.0,2149.6 563.0,2135.7 565.0,2122.1 567.0,2108.4 569.0,2094.6 571.0,2080.3 573.0,2066.1 575.0,2051.3 577.0,2035.0 579.0,2016.3 581.0,1995.5 583.0,1973.0 585.0,1948.3 585.0,1948.3 591.5,1941.8 594.7,1906.1 598.0,1863.9 602.9,1915.8 607.7,1902.9 611.0,1915.8 615.2,1899.6 619.1,1912.6 624.0,1863.9 627.2,1889.9 630.5,1912.6 633.7,1888.2 636.9,1915.8 640.2,1919.1 648.3,1928.8 654.8,1904.5 661.3,1941.8 669.4,1899.6 674.3,1941.8 684.0,1912.6 687.3,1941.8 697.0,1912.6 710.0,1912.6 716.5,1922.3 719.7,1967.8 724.6,1987.3 724.6,1987.3 726.6,2017.3 728.6,2047.6 730.6,2078.2 732.6,2101.0 734.6,2120.0 736.6,2143.4 738.6,2175.0 740.6,2210.6 742.6,2245.7 744.6,2276.2 746.6,2303.9 748.6,2328.8 750.6,2350.8 752.6,2370.9 754.6,2389.5 756.6,2407.2 758.6,2424.2 760.6,2440.2 762.6,2454.9 764.6,2468.0 766.6,2479.6 768.6,2490.7 770.6,2502.1 772.6,2513.9 774.6,2525.5 776.6,2536.4 778.6,2546.0 780.6,2554.8 782.6,2562.8 784.6,2570.3 786.6,2577.3 788.6,2583.9 790.6,2590.1 792.6,2595.9 794.6,2601.5 796.6,2606.7 798.6,2611.5 800.6,2615.9 802.6,2620.3 804.6,2624.7 806.6,2629.3 808.6,2634.1 810.6,2639.2 812.6,2644.4 814.6,2649.6 816.6,2654.8 818.6,2660.0 820.6,2665.1 822.6,2670.2 824.6,2675.3 826.6,2680.5 828.6,2685.7 830.6,2690.9 832.6,2696.2 834.6,2701.5 836.6,2706.8 838.6,2712.3 840.6,2718.0 842.6,2724.0 844.6,2730.6 846.6,2737.4 848.6,2743.9 850.6,2749.7 852.6,2754.8 854.6,2759.5 856.6,2763.8 858.6,2768.0 860.6,2772.0 862.6,2775.8 864.6,2779.6 866.6,2783.4 868.6,2787.0 870.6,2790.5 872.6,2793.9 874.6,2797.0 876.6,2800.0 878.6,2802.8 880.6,2805.4 882.6,2807.9 884.6,2810.2 886.6,2812.5 888.6,2814.7 890.6,2816.7 892.6,2818.7 894.6,2820.5 896.6,2822.2 898.6,2823.7 900.6,2825.1 902.6,2826.4 904.6,2827.7 906.6,2828.9 908.6,2830.1 910.6,2831.3 912.6,2832.6 914.6,2834.0 916.6,2835.6 918.6,2837.2 920.6,2838.9 922.6,2840.6 924.6,2842.5 926.6,2844.3 928.6,2846.2 930.6,2848.2 932.6,2850.1 934.6,2852.2 936.6,2854.3 938.6,2856.4 940.6,2858.6 942.6,2860.8 944.6,2863.0 946.6,2865.2 948.6,2867.5 950.6,2869.7 952.6,2871.9 954.6,2874.3 956.6,2876.6 958.6,2879.0 960.6,2881.4 962.6,2883.8 964.6,2886.2 966.6,2888.5 968.6,2890.8 970.6,2893.0 972.6,2895.1 974.6,2897.0 976.6,2898.9 978.6,2900.8 980.6,2902.6 982.6,2904.3 984.6,2906.0 986.6,2907.7 988.6,2909.2 990.6,2910.7 992.6,2912.1 994.6,2913.4 996.6,2914.7 998.6,2915.9 1000.6,2917.1 1002.6,2918.2 1004.6,2919.3 1006.6,2920.2 1008.6,2921.0 1010.6,2921.7 1012.6,2922.4 1014.6,2923.1 1016.6,2923.7 1018.6,2924.2 1020.6,2924.5 1022.6,2924.7 1024.6,2924.6 1026.6,2924.5 1028.6,2924.3 1030.6,2924.0 1032.6,2923.7 1034.6,2923.3 1036.6,2922.9 1038.6,2922.5 1040.6,2921.9 1042.6,2921.1 1044.6,2920.1 1046.6,2918.8 1048.6,2917.5 1050.6,2916.0 1052.6,2914.5 1054.6,2913.1 1056.6,2911.6 1058.6,2909.8 1060.6,2907.9 1062.6,2905.9 1064.6,2904.0 1066.6,2902.0 1068.6,2900.2 1070.6,2898.6 1072.6,2897.2 1074.6,2895.9 1076.6,2894.6 1078.6,2893.3 1080.6,2892.3 1082.6,2891.4 1084.6,2890.9 1086.6,2890.4 1088.6,2890.0 1090.6,2889.6 1092.6,2889.3 1094.6,2889.1 1096.6,2889.0 1098.6,2889.0 1100.6,2889.2 1102.6,2889.5 1104.6,2890.0 1106.6,2890.5 1108.6,2891.0 1110.6,2891.6 1112.6,2892.4 1114.6,2893.3 1116.6,2894.5 1118.6,2895.8 1120.6,2897.1 1122.6,2898.5 1124.6,2899.9 1126.6,2901.3 1128.6,2902.7 1130.6,2904.2 1132.6,2905.8 1134.6,2907.4 1136.6,2909.1 1138.6,2910.7 1140.6,2912.3 1142.6,2913.7 1144.6,2915.0 1146.6,2916.2 1148.6,2917.3 1150.6,2918.3 1152.6,2919.3 1154.6,2920.3 1156.6,2921.2 1158.6,2922.0 1160.6,2922.9 1162.6,2923.7 1164.6,2924.5 1166.6,2925.3 1168.6,2926.0 1170.6,2926.7 1172.6,2927.5 1174.6,2928.2 1176.6,2928.9 1178.6,2929.6 1180.6,2930.2 1182.6,2930.9 1184.6,2931.5 1186.6,2932.1 1188.6,2932.7 1190.6,2933.3 1192.6,2933.9 1194.6,2934.4 1196.6,2935.0 1198.6,2935.6 1200.6,2936.1 1202.6,2936.6 1204.6,2937.0 1206.6,2937.5 1208.6,2937.9 1210.6,2938.4 1212.6,2938.8 1214.6,2939.3 1216.6,2939.8 1218.6,2940.3 1220.6,2940.8 1222.6,2941.4 1224.6,2942.1 1226.6,2942.8 1228.6,2943.6 1230.6,2944.5 1232.6,2945.5 1234.6,2946.4 1236.6,2947.5 1238.6,2948.5 1240.6,2949.6 1242.6,2950.8 1244.6,2951.9 1246.6,2953.0 1248.6,2954.1 1250.6,2955.2 1252.6,2956.5 1254.6,2957.8 1256.6,2959.2 1258.6,2960.6 1260.6,2961.9 1262.6,2963.1 1264.6,2964.0 1266.6,2964.7 1268.6,2965.3 1270.6,2965.9 1272.6,2966.4 1274.6,2966.9 1276.6,2967.3 1278.6,2967.6 1280.6,2967.8 1282.6,2967.9 1284.6,2967.7 1286.6,2967.5 1288.6,2967.1 1290.6,2966.6 1292.6,2966.0 1294.6,2965.3 1296.6,2964.7 1298.6,2964.0 1300.6,2963.4 1302.6,2962.8 1304.6,2962.1 1306.6,2961.4 1308.6,2960.7 1310.6,2960.0 1312.6,2959.2 1314.6,2958.5 1316.6,2957.8 1318.6,2957.2 1320.6,2956.7 1322.6,2956.2 1324.6,2955.8 1326.6,2955.3 1328.6,2954.9 1330.6,2954.6 1332.6,2954.3 1334.7,2954.0 1336.7,2953.9 1338.7,2953.9 1340.7,2954.1 1342.7,2954.4 1344.7,2954.7 1346.7,2955.2 1348.7,2955.7 1350.7,2956.3 1352.7,2956.8 1354.7,2957.3 1356.7,2958.0 1358.7,2958.7 1360.7,2959.5 1362.7,2960.3 1364.7,2961.2 1366.7,2962.1 1368.7,2962.9 1370.7,2963.7 1372.7,2964.4 1374.7,2965.0 1376.7,2965.6 1378.7,2966.3 1380.7,2967.0 1382.7,2967.6 1384.7,2968.3 1386.7,2968.9 1388.7,2969.4 1390.7,2969.9 1392.7,2970.4 1394.7,2970.7 1396.7,2971.0 1398.7,2971.1 1400.7,2971.1 1402.7,2971.1 1404.7,2971.1 1406.7,2971.1 1408.7,2971.1 1410.7,2971.1 1412.7,2971.1 1414.7,2971.1 1416.7,2971.1 1418.7,2971.1 1420.7,2971.1 1422.7,2971.1 1424.7,2971.1 1426.7,2971.1 1428.7,2970.9 1430.7,2970.5 1432.7,2970.0 1434.7,2969.4 1436.7,2968.8 1438.7,2968.1 1440.7,2967.3 1442.7,2966.5 1444.7,2965.4 1446.7,2964.2 1448.7,2962.7 1450.7,2961.1 1452.7,2959.3 1454.7,2957.4 1456.7,2955.0 1458.7,2952.3 1460.7,2949.2 1462.7,2945.8 1464.7,2942.2 1466.7,2938.1 1468.7,2933.4 1470.7,2928.2 1472.7,2922.6 1474.7,2916.5 1476.7,2909.7 1478.7,2902.3 1480.7,2894.6 1482.7,2886.5 1484.7,2877.7 1486.7,2868.0 1488.7,2857.0 1490.7,2845.6 1492.7,2834.3 1494.7,2822.9 1496.7,2811.8 1498.7,2800.8 1500.7,2789.6 1502.7,2778.0 1504.7,2766.5 1506.7,2755.1 1508.7,2743.8 1510.7,2732.0 1512.7,2720.3 1514.7,2711.8 1516.7,2705.2 1518.7,2698.7 1520.7,2692.4 1522.7,2686.0 1524.7,2679.0 1526.7,2672.0 1528.7,2664.0 1530.7,2661.3 1532.7,2666.2 1534.7,2672.8 1536.7,2679.0 1538.7,2685.9 1540.7,2693.4 1542.7,2701.6 1544.7,2711.4 1546.7,2721.6 1548.7,2731.6 1550.7,2741.6 1552.7,2751.6 1554.7,2761.6 1556.7,2771.6 1558.7,2781.6 1560.7,2791.6 1562.7,2801.6 1564.7,2811.7 1566.7,2821.8 1568.7,2831.7 1570.7,2841.1 1572.7,2850.1 1574.7,2858.9 1576.7,2867.6 1578.7,2875.9 1580.7,2883.9 1582.7,2891.6 1584.7,2898.7 1586.7,2905.1 1588.7,2911.1 1590.7,2916.7 1592.7,2921.9 1594.7,2926.8 1596.7,2931.5 1598.7,2935.9 1600.7,2940.1 1602.7,2944.2 1604.7,2948.2 1606.7,2952.1 1608.7,2955.8 1610.7,2959.2 1612.7,2962.5 1614.7,2965.6 1616.7,2968.7 1618.7,2971.6 1620.7,2974.3 1622.7,2976.8 1624.7,2979.1 1626.7,2981.4 1628.7,2983.6 1630.7,2985.8 1632.7,2987.9 1634.7,2989.9 1636.7,2991.9 1638.7,2993.9 1640.7,2995.8 1642.7,2997.6 1644.7,2999.4 1646.7,3001.1 1648.7,3002.8 1650.7,3004.4 1652.7,3006.0 1654.7,3007.5 1656.7,3008.9 1658.7,3010.3 1660.7,3011.6 1662.7,3012.9 1664.7,3014.1 1666.7,3015.2 1668.7,3016.3 1670.7,3017.3 1672.7,3018.3 1674.7,3019.3 1676.7,3020.2 1678.7,3021.1 1680.7,3022.0 1682.7,3022.9 1684.7,3023.8 1686.7,3024.6 1688.7,3025.4 1690.7,3026.2 1692.7,3026.9 1694.7,3027.6 1696.7,3028.2 1698.7,3028.8 1700.7,3029.4 1702.7,3029.9 1704.7,3030.3 1706.7,3030.8 1708.7,3031.2 1710.7,3031.6 1712.7,3032.0 1714.7,3032.4 1716.7,3032.8 1718.7,3033.2 1720.7,3033.6 1722.7,3034.1 1724.7,3034.5 1726.7,3034.9 1728.7,3035.3 1730.7,3035.7 1732.7,3036.0 1734.7,3036.4 1736.7,3036.7 1738.7,3037.0 1740.7,3037.3 1742.7,3037.6 1744.7,3037.8 1746.7,3038.1 1748.7,3038.3 1750.7,3038.6 1752.7,3038.8 1754.7,3039.1 1756.7,3039.3 1758.7,3039.5 1760.7,3039.7 1762.7,3039.9 1764.7,3040.2 1766.7,3040.4 1768.7,3040.6 1770.7,3040.8 1772.7,3041.0 1774.7,3041.2 1776.7,3041.4 1778.7,3041.5 1780.7,3041.7 1782.7,3041.9 1784.7,3042.1 1786.7,3042.3 1788.7,3042.5 1790.7,3042.6 1792.7,3042.8 1794.7,3043.0 1796.7,3043.2 1798.7,3043.3 1800.7,3043.5 1802.7,3043.7 1804.7,3043.8 1806.7,3044.0 1808.7,3044.1 1810.7,3044.3 1812.7,3044.4 1814.7,3044.6 1816.7,3044.7 1818.7,3044.9 1820.7,3045.1 1822.7,3045.2 1824.7,3045.4 1826.7,3045.5 1828.7,3045.7 1830.7,3045.8 1832.7,3045.9 1834.7,3046.1 1836.7,3046.2 1838.7,3046.4 1840.7,3046.5 1842.7,3046.6 1844.7,3046.8 1846.7,3046.9 1848.7,3047.0 1850.7,3047.2 1852.7,3047.3 1854.7,3047.4 1856.7,3047.5 1858.7,3047.6 1860.7,3047.7 1862.7,3047.9 1864.7,3048.0 1866.7,3048.1 1868.7,3048.2 1870.7,3048.3 1872.7,3048.4 1874.7,3048.5 1876.7,3048.6 1878.7,3048.7 1880.7,3048.8 1882.7,3048.9 1884.7,3049.0 1886.7,3049.1 1888.7,3049.1 1890.7,3049.2 1892.7,3049.3 1894.7,3049.4 1896.7,3049.5 1898.7,3049.6 1900.7,3049.6 1902.7,3049.7 1904.7,3049.8 1906.7,3049.8 1908.7,3049.9 1910.7,3050.0 1912.7,3050.1 1914.7,3050.1 1916.7,3050.2 1918.7,3050.3 1920.7,3050.3 1922.7,3050.4 1924.7,3050.4 1926.7,3050.5 1928.7,3050.6 1930.7,3050.7 1932.7,3050.7 1934.7,3050.8 1936.7,3050.9 1938.7,3050.9 1940.7,3051.0 1942.7,3051.1 1944.7,3051.2 1946.7,3051.2 1948.7,3051.3 1950.7,3051.4 1952.7,3051.5 1954.7,3051.5 1956.7,3051.6 1958.7,3051.7 1960.7,3051.7 1962.7,3051.8 1964.7,3051.8 1966.7,3051.9 1968.7,3052.0 1970.7,3052.0 1972.7,3052.1 1974.7,3052.2 1976.7,3052.2 1978.7,3052.3 1980.7,3052.4 1982.7,3052.4 1984.7,3052.5 1986.7,3052.5 1988.7,3052.6 1990.7,3052.7 1992.7,3052.7 1994.7,3052.8 1996.7,3052.8 1998.7,3052.9 2000.7,3052.9 2002.7,3053.0 2004.7,3053.0 2006.7,3053.0 2008.7,3053.1 2010.7,3053.1 2012.7,3053.2 2014.7,3053.2 2016.7,3053.2 2018.7,3053.2 2020.7,3053.2 2022.7,3053.3 2024.7,3053.3 2026.7,3053.3 2028.7,3053.3 2030.7,3053.3 2032.7,3053.3 2034.7,3053.3 2036.7,3053.3 2038.7,3053.3 2040.7,3053.4 2042.7,3053.4 2044.7,3053.4 2046.7,3053.4 2048.7,3053.4 2050.7,3053.4 2052.7,3053.4 2054.7,3053.4 2056.7,3053.4 2058.7,3053.4 2060.7,3053.4 2062.7,3053.5 2064.7,3053.5 2066.7,3053.5 2068.7,3053.5 2070.7,3053.5 2072.7,3053.5 2074.7,3053.5 2076.7,3053.5 2078.7,3053.5 2080.7,3053.5 2082.7,3053.5 2084.7,3053.5 2086.7,3053.5 2088.7,3053.5 2090.7,3053.5 2092.7,3053.5 2094.7,3053.5 2096.7,3053.6 2098.7,3053.6 2100.7,3053.6 2102.7,3053.6 2104.7,3053.6 2106.7,3053.6 2108.7,3053.6 2110.7,3053.6 2112.7,3053.6 2114.7,3053.6 2116.7,3053.6 2118.7,3053.6 2120.7,3053.6" fill="none" stroke="#0000ff" stroke-width="7" stroke-linejoin="round" stroke-linecap="butt"/>
<polyline points="264.9,2242.1 266.9,2245.1 269.0,2248.0 271.0,2251.0 273.0,2253.9 275.0,2256.9 277.0,2260.0 279.0,2263.3 281.0,2266.7 283.0,2270.0 285.1,2273.2 287.1,2275.9 289.1,2278.0 291.1,2279.6 293.1,2280.9 295.1,2282.1 297.1,2283.1 299.1,2284.2 301.2,2285.4 303.2,2286.8 305.2,2288.3 307.2,2289.8 309.2,2291.3 311.2,2292.9 313.2,2294.4 315.2,2295.9 317.3,2297.4 319.3,2298.7 321.3,2300.1 323.3,2301.6 325.3,2303.1 327.3,2304.9 329.3,2306.9 331.3,2309.4 333.3,2312.2 335.4,2315.1 337.4,2318.2 339.4,2321.2 341.4,2324.0 343.4,2326.8 345.4,2329.6 347.4,2332.4 349.4,2335.2 351.5,2337.9 353.5,2340.6 355.5,2343.3 357.5,2345.9 359.5,2348.6 361.5,2351.2 363.5,2353.7 365.5,2356.0 367.6,2358.1 369.6,2360.1 371.6,2361.9 373.6,2363.7 375.6,2365.4 377.6,2367.0 379.6,2368.6 381.6,2370.2 383.7,2371.7 385.7,2373.3 387.7,2374.8 389.7,2376.1 391.7,2377.3 393.7,2378.2 395.7,2379.0 397.7,2379.7 399.7,2380.3 401.8,2380.9 403.8,2381.6 405.8,2382.4 407.8,2383.3 409.8,2384.4 411.8,2385.5 413.8,2386.7 415.8,2388.0 417.9,2389.2 419.9,2390.3 421.9,2391.4 423.9,2392.4 425.9,2393.6 427.9,2394.8 429.9,2395.9 431.9,2396.9 434.0,2397.8 436.0,2398.4 438.0,2398.6 440.0,2398.6 442.0,2398.6 444.0,2398.6 446.0,2398.6 448.0,2398.6 450.1,2398.6 452.1,2398.6 454.1,2398.6 456.1,2398.6 458.1,2398.6 460.1,2398.1 462.1,2397.0 464.1,2395.4 466.1,2393.7 468.2,2391.9 470.2,2390.3 472.2,2389.0 474.2,2387.6 476.2,2386.3 478.2,2385.1 480.2,2383.8 482.2,2382.6 484.3,2381.5 486.3,2380.5 488.3,2379.5 490.3,2378.6 492.3,2377.7 494.3,2376.7 496.3,2375.5 498.3,2374.2 500.4,2372.8 502.4,2371.2 504.4,2369.5 506.4,2367.6 508.4,2365.5 510.4,2363.0 512.4,2360.1 514.4,2356.6 516.5,2352.6 518.5,2348.3 520.5,2343.7 522.5,2338.5 524.5,2332.6 526.5,2326.3 528.5,2319.3 530.5,2311.7 532.5,2303.1 534.6,2293.4 536.6,2283.1 538.6,2271.6 540.6,2259.2 542.6,2245.9 544.6,2231.2 546.6,2215.6 548.6,2200.3 550.7,2186.2 552.7,2172.4 554.7,2158.3 556.7,2143.3 558.7,2127.9 560.7,2111.8 562.7,2095.0 564.7,2076.9 566.8,2057.1 568.8,2036.0 568.8,2036.0 572.0,2029.5 575.3,1993.8 581.8,1984.0 588.2,1961.3 591.5,1951.6 598.0,1967.8 602.9,1948.3 609.4,1922.3 612.6,1977.5 617.5,1925.6 620.7,1980.8 625.6,1928.8 631.4,1997.0 636.9,1945.1 643.4,1909.4 648.3,1958.1 654.8,1987.3 661.3,1941.8 666.2,1909.4 672.7,1922.3 675.9,1971.0 684.0,1948.3 687.3,1922.3 691.2,1990.5 695.4,1915.8 700.3,1977.5 706.8,1889.9 711.6,1928.8 714.9,1984.0 719.7,1987.3 726.2,1984.0 729.5,2019.7 729.5,2019.7 731.5,2037.7 733.5,2058.6 735.5,2082.5 737.5,2110.3 739.5,2138.7 741.5,2167.1 743.5,2195.3 745.5,2222.4 747.5,2248.9 749.5,2275.7 751.5,2303.4 753.5,2329.0 755.5,2351.0 757.5,2371.1 759.5,2389.7 761.5,2407.2 763.5,2423.5 765.5,2439.0 767.5,2454.5 769.5,2470.5 771.5,2486.6 773.5,2500.3 775.5,2512.0 777.5,2522.6 779.5,2532.3 781.5,2541.1 783.5,2549.4 785.5,2557.1 787.5,2564.3 789.5,2571.0 791.5,2577.2 793.5,2582.9 795.5,2588.2 797.5,2593.3 799.5,2598.4 801.5,2603.7 803.5,2608.9 805.5,2614.2 807.5,2619.5 809.6,2624.9 811.6,2630.6 813.6,2636.5 815.6,2642.6 817.6,2648.7 819.6,2654.8 821.6,2660.8 823.6,2666.7 825.6,2672.6 827.6,2678.6 829.6,2684.8 831.6,2691.2 833.6,2697.8 835.6,2704.6 837.6,2711.3 839.6,2718.1 841.6,2724.8 843.6,2731.5 845.6,2738.3 847.6,2744.9 849.6,2751.4 851.6,2758.0 853.6,2764.6 855.6,2770.7 857.6,2775.7 859.6,2780.2 861.6,2784.4 863.6,2788.2 865.6,2791.9 867.6,2795.3 869.6,2798.4 871.6,2801.4 873.6,2804.2 875.6,2806.8 877.6,2809.3 879.6,2811.7 881.6,2814.0 883.6,2816.1 885.6,2818.2 887.6,2820.2 889.6,2822.1 891.6,2823.9 893.6,2825.7 895.6,2827.3 897.6,2828.9 899.6,2830.4 901.6,2831.8 903.6,2833.2 905.6,2834.6 907.6,2836.0 909.6,2837.5 911.6,2839.0 913.6,2840.7 915.6,2842.4 917.6,2844.1 919.6,2845.9 921.6,2847.7 923.7,2849.5 925.7,2851.4 927.7,2853.3 929.7,2855.3 931.7,2857.3 933.7,2859.5 935.7,2861.6 937.7,2863.8 939.7,2866.0 941.7,2868.3 943.7,2870.5 945.7,2872.7 947.7,2874.9 949.7,2877.1 951.7,2879.3 953.7,2881.6 955.7,2883.8 957.7,2886.1 959.7,2888.4 961.7,2890.6 963.7,2892.7 965.7,2894.8 967.7,2896.8 969.7,2898.7 971.7,2900.5 973.7,2902.2 975.7,2903.9 977.7,2905.6 979.7,2907.1 981.7,2908.7 983.7,2910.1 985.7,2911.5 987.7,2912.8 989.7,2914.0 991.7,2915.1 993.7,2916.2 995.7,2917.2 997.7,2918.2 999.7,2919.1 1001.7,2920.0 1003.7,2920.7 1005.7,2921.2 1007.7,2921.7 1009.7,2922.1 1011.7,2922.5 1013.7,2922.9 1015.7,2923.2 1017.7,2923.3 1019.7,2923.4 1021.7,2923.3 1023.7,2923.0 1025.7,2922.5 1027.7,2922.0 1029.7,2921.4 1031.7,2920.6 1033.7,2919.9 1035.7,2919.1 1037.8,2918.2 1039.8,2917.1 1041.8,2915.8 1043.8,2914.4 1045.8,2912.8 1047.8,2911.2 1049.8,2909.5 1051.8,2907.9 1053.8,2906.3 1055.8,2904.5 1057.8,2902.5 1059.8,2900.5 1061.8,2898.6 1063.8,2896.7 1065.8,2895.0 1067.8,2893.5 1069.8,2892.1 1071.8,2890.8 1073.8,2889.4 1075.8,2888.2 1077.8,2887.1 1079.8,2886.1 1081.8,2885.2 1083.8,2884.6 1085.8,2884.1 1087.8,2883.7 1089.8,2883.3 1091.8,2882.9 1093.8,2882.7 1095.8,2882.5 1097.8,2882.5 1099.8,2882.6 1101.8,2882.9 1103.8,2883.3 1105.8,2883.8 1107.8,2884.3 1109.8,2884.9 1111.8,2885.6 1113.8,2886.4 1115.8,2887.5 1117.8,2888.7 1119.8,2890.1 1121.8,2891.5 1123.8,2892.9 1125.8,2894.3 1127.8,2895.6 1129.8,2897.1 1131.8,2898.7 1133.8,2900.3 1135.8,2901.9 1137.8,2903.6 1139.8,2905.2 1141.8,2906.7 1143.8,2908.0 1145.8,2909.3 1147.8,2910.4 1149.8,2911.4 1151.9,2912.4 1153.9,2913.4 1155.9,2914.3 1157.9,2915.2 1159.9,2916.1 1161.9,2916.9 1163.9,2917.7 1165.9,2918.5 1167.9,2919.2 1169.9,2920.0 1171.9,2920.7 1173.9,2921.4 1175.9,2922.1 1177.9,2922.8 1179.9,2923.5 1181.9,2924.1 1183.9,2924.8 1185.9,2925.4 1187.9,2926.0 1189.9,2926.6 1191.9,2927.2 1193.9,2927.7 1195.9,2928.3 1197.9,2928.9 1199.9,2929.4 1201.9,2929.9 1203.9,2930.4 1205.9,2930.8 1207.9,2931.3 1209.9,2931.7 1211.9,2932.2 1213.9,2932.6 1215.9,2933.1 1217.9,2933.6 1219.9,2934.1 1221.9,2934.7 1223.9,2935.4 1225.9,2936.1 1227.9,2936.8 1229.9,2937.7 1231.9,2938.6 1233.9,2939.6 1235.9,2940.6 1237.9,2941.7 1239.9,2942.8 1241.9,2943.9 1243.9,2945.0 1245.9,2946.1 1247.9,2947.2 1249.9,2948.3 1251.9,2949.5 1253.9,2950.8 1255.9,2952.2 1257.9,2953.6 1259.9,2955.0 1261.9,2956.2 1263.9,2957.2 1266.0,2958.0 1268.0,2958.6 1270.0,2959.2 1272.0,2959.8 1274.0,2960.3 1276.0,2960.7 1278.0,2961.0 1280.0,2961.3 1282.0,2961.4 1284.0,2961.3 1286.0,2961.1 1288.0,2960.7 1290.0,2960.3 1292.0,2959.7 1294.0,2959.1 1296.0,2958.4 1298.0,2957.8 1300.0,2957.1 1302.0,2956.5 1304.0,2955.8 1306.0,2955.1 1308.0,2954.3 1310.0,2953.5 1312.0,2952.6 1314.0,2951.8 1316.0,2951.0 1318.0,2950.3 1320.0,2949.7 1322.0,2949.2 1324.0,2948.8 1326.0,2948.3 1328.0,2947.9 1330.0,2947.5 1332.0,2947.2 1334.0,2946.9 1336.0,2946.8 1338.0,2946.8 1340.0,2946.9 1342.0,2947.1 1344.0,2947.5 1346.0,2947.9 1348.0,2948.4 1350.0,2948.9 1352.0,2949.5 1354.0,2950.0 1356.0,2950.7 1358.0,2951.4 1360.0,2952.3 1362.0,2953.3 1364.0,2954.2 1366.0,2955.2 1368.0,2956.1 1370.0,2957.0 1372.0,2957.7 1374.0,2958.3 1376.0,2958.8 1378.0,2959.3 1380.1,2959.8 1382.1,2960.3 1384.1,2960.8 1386.1,2961.2 1388.1,2961.6 1390.1,2962.0 1392.1,2962.3 1394.1,2962.6 1396.1,2962.9 1398.1,2963.1 1400.1,2963.3 1402.1,2963.5 1404.1,2963.7 1406.1,2963.9 1408.1,2964.0 1410.1,2964.1 1412.1,2964.2 1414.1,2964.3 1416.1,2964.3 1418.1,2964.3 1420.1,2964.1 1422.1,2964.0 1424.1,2963.8 1426.1,2963.5 1428.1,2963.2 1430.1,2962.9 1432.1,2962.5 1434.1,2962.2 1436.1,2961.6 1438.1,2960.9 1440.1,2960.1 1442.1,2959.1 1444.1,2958.1 1446.1,2956.9 1448.1,2955.6 1450.1,2954.1 1452.1,2952.2 1454.1,2950.1 1456.1,2947.8 1458.1,2945.3 1460.1,2942.3 1462.1,2938.8 1464.1,2934.7 1466.1,2930.2 1468.1,2925.5 1470.1,2920.3 1472.1,2914.5 1474.1,2908.2 1476.1,2901.4 1478.1,2894.1 1480.1,2886.0 1482.1,2877.1 1484.1,2867.2 1486.1,2856.3 1488.1,2844.9 1490.1,2832.6 1492.1,2819.9 1494.2,2806.7 1496.2,2793.7 1498.2,2780.7 1500.2,2767.7 1502.2,2754.7 1504.2,2741.6 1506.2,2728.7 1508.2,2716.2 1510.2,2704.7 1512.2,2694.5 1514.2,2685.2 1516.2,2676.5 1518.2,2668.0 1520.2,2660.5 1522.2,2653.8 1524.2,2646.7 1526.2,2640.4 1528.2,2635.8 1530.2,2634.1 1532.2,2636.0 1534.2,2640.9 1536.2,2647.5 1538.2,2654.7 1540.2,2661.5 1542.2,2669.2 1544.2,2677.7 1546.2,2686.6 1548.2,2696.1 1550.2,2706.2 1552.2,2717.2 1554.2,2728.7 1556.2,2739.9 1558.2,2751.1 1560.2,2762.3 1562.2,2773.5 1564.2,2784.7 1566.2,2796.0 1568.2,2807.3 1570.2,2818.2 1572.2,2828.7 1574.2,2838.9 1576.2,2848.9 1578.2,2858.5 1580.2,2867.3 1582.2,2875.6 1584.2,2883.3 1586.2,2890.4 1588.2,2896.8 1590.2,2902.9 1592.2,2908.8 1594.2,2914.7 1596.2,2920.4 1598.2,2925.7 1600.2,2930.5 1602.2,2935.0 1604.2,2939.1 1606.2,2943.0 1608.3,2946.7 1610.3,2950.1 1612.3,2953.4 1614.3,2956.6 1616.3,2959.6 1618.3,2962.4 1620.3,2965.1 1622.3,2967.7 1624.3,2970.2 1626.3,2972.6 1628.3,2974.9 1630.3,2977.1 1632.3,2979.3 1634.3,2981.4 1636.3,2983.4 1638.3,2985.3 1640.3,2987.3 1642.3,2989.2 1644.3,2991.1 1646.3,2992.9 1648.3,2994.7 1650.3,2996.4 1652.3,2998.1 1654.3,2999.7 1656.3,3001.3 1658.3,3002.8 1660.3,3004.2 1662.3,3005.5 1664.3,3006.8 1666.3,3008.1 1668.3,3009.3 1670.3,3010.5 1672.3,3011.6 1674.3,3012.7 1676.3,3013.7 1678.3,3014.7 1680.3,3015.6 1682.3,3016.5 1684.3,3017.4 1686.3,3018.2 1688.3,3019.0 1690.3,3019.7 1692.3,3020.5 1694.3,3021.1 1696.3,3021.8 1698.3,3022.5 1700.3,3023.1 1702.3,3023.7 1704.3,3024.3 1706.3,3024.9 1708.3,3025.4 1710.3,3025.9 1712.3,3026.5 1714.3,3027.0 1716.3,3027.4 1718.3,3027.9 1720.3,3028.4 1722.4,3028.8 1724.4,3029.2 1726.4,3029.7 1728.4,3030.1 1730.4,3030.4 1732.4,3030.8 1734.4,3031.2 1736.4,3031.6 1738.4,3031.9 1740.4,3032.2 1742.4,3032.6 1744.4,3032.9 1746.4,3033.2 1748.4,3033.5 1750.4,3033.8 1752.4,3034.2 1754.4,3034.4 1756.4,3034.7 1758.4,3035.0 1760.4,3035.3 1762.4,3035.6 1764.4,3035.9 1766.4,3036.1 1768.4,3036.4 1770.4,3036.7 1772.4,3036.9 1774.4,3037.2 1776.4,3037.4 1778.4,3037.7 1780.4,3037.9 1782.4,3038.1 1784.4,3038.4 1786.4,3038.6 1788.4,3038.8 1790.4,3039.0 1792.4,3039.2 1794.4,3039.5 1796.4,3039.7 1798.4,3039.9 1800.4,3040.1 1802.4,3040.3 1804.4,3040.5 1806.4,3040.7 1808.4,3040.9 1810.4,3041.1 1812.4,3041.2 1814.4,3041.4 1816.4,3041.6 1818.4,3041.8 1820.4,3042.0 1822.4,3042.2 1824.4,3042.4 1826.4,3042.5 1828.4,3042.7 1830.4,3042.9 1832.4,3043.1 1834.5,3043.2 1836.5,3043.4 1838.5,3043.6 1840.5,3043.8 1842.5,3043.9 1844.5,3044.1 1846.5,3044.2 1848.5,3044.4 1850.5,3044.6 1852.5,3044.7 1854.5,3044.9 1856.5,3045.0 1858.5,3045.1 1860.5,3045.3 1862.5,3045.4 1864.5,3045.6 1866.5,3045.7 1868.5,3045.8 1870.5,3046.0 1872.5,3046.1 1874.5,3046.2 1876.5,3046.4 1878.5,3046.5 1880.5,3046.6 1882.5,3046.7 1884.5,3046.9 1886.5,3047.0 1888.5,3047.1 1890.5,3047.2 1892.5,3047.3 1894.5,3047.5 1896.5,3047.6 1898.5,3047.7 1900.5,3047.8 1902.5,3047.9 1904.5,3048.0 1906.5,3048.1 1908.5,3048.2 1910.5,3048.3 1912.5,3048.4 1914.5,3048.5 1916.5,3048.6 1918.5,3048.7 1920.5,3048.8 1922.5,3048.9 1924.5,3049.0 1926.5,3049.1 1928.5,3049.2 1930.5,3049.3 1932.5,3049.4 1934.5,3049.4 1936.5,3049.5 1938.5,3049.6 1940.5,3049.7 1942.5,3049.8 1944.5,3049.9 1946.5,3050.0 1948.6,3050.1 1950.6,3050.2 1952.6,3050.3 1954.6,3050.3 1956.6,3050.4 1958.6,3050.5 1960.6,3050.5 1962.6,3050.6 1964.6,3050.7 1966.6,3050.7 1968.6,3050.8 1970.6,3050.8 1972.6,3050.9 1974.6,3050.9 1976.6,3051.0 1978.6,3051.1 1980.6,3051.1 1982.6,3051.2 1984.6,3051.2 1986.6,3051.2 1988.6,3051.3 1990.6,3051.3 1992.6,3051.4 1994.6,3051.4 1996.6,3051.5 1998.6,3051.5 2000.6,3051.6 2002.6,3051.6 2004.6,3051.6 2006.6,3051.7 2008.6,3051.7 2010.6,3051.8 2012.6,3051.8 2014.6,3051.8 2016.6,3051.9 2018.6,3051.9 2020.6,3051.9 2022.6,3052.0 2024.6,3052.0 2026.6,3052.0 2028.6,3052.1 2030.6,3052.1 2032.6,3052.1 2034.6,3052.2 2036.6,3052.2 2038.6,3052.2 2040.6,3052.3 2042.6,3052.3 2044.6,3052.3 2046.6,3052.4 2048.6,3052.4 2050.6,3052.4 2052.6,3052.5 2054.6,3052.5 2056.6,3052.5 2058.6,3052.5 2060.6,3052.6 2062.7,3052.6 2064.7,3052.6 2066.7,3052.7 2068.7,3052.7 2070.7,3052.7 2072.7,3052.7 2074.7,3052.8 2076.7,3052.8 2078.7,3052.8 2080.7,3052.8 2082.7,3052.9 2084.7,3052.9 2086.7,3052.9 2088.7,3052.9 2090.7,3053.0 2092.7,3053.0 2094.7,3053.0 2096.7,3053.0 2098.7,3053.1 2100.7,3053.1 2102.7,3053.1 2104.7,3053.1 2106.7,3053.1 2108.7,3053.2 2110.7,3053.2 2112.7,3053.2 2114.7,3053.2 2116.7,3053.2 2118.7,3053.2 2120.7,3053.2" fill="none" stroke="#00ffff" stroke-width="7" stroke-linejoin="round" stroke-linecap="butt"/>
</g>
<text x="1227.3" y="3271.2" font-size="83.1" text-anchor="middle">Wavelength (nm)</text>
<text transform="translate(114 2433.5) rotate(-90)" font-size="82.5" text-anchor="middle">Absorbance (a.u.)</text>
<g font-size="63" text-anchor="middle">
<text x="654.9" y="1845">405</text>
<text x="1523.9" y="2604.5">641</text>
<text x="1104.7" y="2860.7">523</text>
<text x="1332.8" y="2932.1">591</text>
</g>
<g font-size="40.5">
<line x1="1519.6" y1="1944.7" x2="1630.5" y2="1944.7" stroke="#000000" stroke-width="8" stroke-linecap="round"/>
<text x="1641.7" y="1959.7" letter-spacing="0.2">Chl-<tspan font-family="'Liberation Serif', serif" font-size="39.5">Φ</tspan>-TEOS_1</text>
<line x1="1519.6" y1="2003.2" x2="1630.5" y2="2003.2" stroke="#ff0000" stroke-width="8" stroke-linecap="round"/>
<text x="1641.7" y="2018.2" letter-spacing="0.57">Chl-<tspan font-family="'Liberation Serif', serif" font-size="39.5">Φ</tspan>-TEOS_2</text>
<line x1="1519.6" y1="2061.8" x2="1630.5" y2="2061.8" stroke="#00ff00" stroke-width="8" stroke-linecap="round"/>
<text x="1641.7" y="2076.8" letter-spacing="0.57">Chl-<tspan font-family="'Liberation Serif', serif" font-size="39.5">Φ</tspan>-TEOS_3</text>
<line x1="1519.6" y1="2120.3" x2="1630.5" y2="2120.3" stroke="#0000ff" stroke-width="8" stroke-linecap="round"/>
<text x="1641.7" y="2135.3" letter-spacing="0.57">Chl-<tspan font-family="'Liberation Serif', serif" font-size="39.5">Φ</tspan>-TEOS_7</text>
<line x1="1519.6" y1="2178.9" x2="1630.5" y2="2178.9" stroke="#00ffff" stroke-width="8" stroke-linecap="round"/>
<text x="1641.7" y="2193.9" letter-spacing="0.57">Chl-<tspan font-family="'Liberation Serif', serif" font-size="39.5">Φ</tspan>-TEOS_10</text>
</g>
<text x="1100.5" y="3380.5" font-size="90" text-anchor="middle" font-weight="normal" font-family="'Liberation Serif', 'Times New Roman', serif">(b)</text>
</g>
</svg>
</body></html>
